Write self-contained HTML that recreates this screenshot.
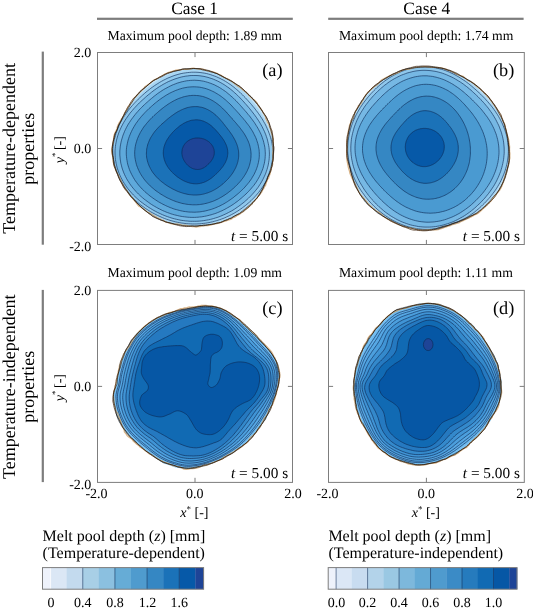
<!DOCTYPE html>
<html lang="en"><head><meta charset="utf-8"><title>Melt pool depth contours</title>
<style>html,body{margin:0;padding:0;background:#fff}body{width:533px;height:608px;overflow:hidden}</style>
</head><body>
<svg width="533" height="608" viewBox="0 0 533 608" text-rendering="geometricPrecision" font-family='"Liberation Serif", "DejaVu Serif", serif' fill="#000" style="display:block">
<rect width="533" height="608" fill="#fff"/>
<text x="194.6" y="13.6" font-size="17.4" text-anchor="middle" >Case 1</text>
<text x="426.8" y="13.6" font-size="17.4" text-anchor="middle" >Case 4</text>
<rect x="97" y="17.7" width="195.8" height="2.2" fill="#7d7d7d"/>
<rect x="328.2" y="17.7" width="195.4" height="2.2" fill="#7d7d7d"/>
<rect x="41.7" y="51.6" width="2.2" height="193.1" fill="#7d7d7d"/>
<rect x="41.7" y="289.9" width="2.2" height="192.2" fill="#7d7d7d"/>
<text x="107.5" y="40.4" font-size="13.7" text-anchor="start" >Maximum pool depth: 1.89 mm</text>
<text x="338.9" y="40.4" font-size="13.7" text-anchor="start" >Maximum pool depth: 1.74 mm</text>
<text x="107.5" y="276.6" font-size="13.7" text-anchor="start" >Maximum pool depth: 1.09 mm</text>
<text x="338.9" y="276.6" font-size="13.7" text-anchor="start" >Maximum pool depth: 1.11 mm</text>
<g>
<path d="M274.0,153.0 L274.1,151.0 L273.8,149.0 L273.8,147.0 L273.7,145.0 L273.6,143.0 L273.4,141.1 L273.1,139.1 L272.9,137.1 L272.3,135.2 L272.0,133.2 L271.5,131.2 L270.8,129.4 L270.1,127.5 L269.6,125.5 L268.9,123.6 L268.1,121.8 L267.2,120.0 L266.3,118.2 L265.3,116.5 L264.4,114.7 L263.5,112.9 L262.5,111.1 L261.3,109.5 L260.0,107.9 L258.8,106.4 L257.7,104.7 L256.7,102.9 L255.3,101.4 L254.3,99.5 L252.9,98.1 L251.4,96.7 L250.0,95.2 L248.6,93.7 L247.1,92.3 L245.5,91.1 L243.8,89.9 L242.3,88.5 L240.6,87.4 L239.0,86.1 L237.3,85.0 L235.5,83.9 L233.8,82.7 L232.1,81.5 L230.3,80.5 L228.5,79.5 L226.6,78.5 L224.8,77.4 L222.9,76.4 L221.0,75.2 L219.0,74.5 L217.1,73.6 L215.0,72.9 L213.0,71.8 L211.0,71.1 L208.9,70.3 L206.7,70.0 L204.6,69.5 L202.4,69.3 L200.2,69.0 L198.0,68.6 L195.8,68.5 L193.6,68.4 L191.4,68.6 L189.1,68.5 L186.9,68.5 L184.6,68.7 L182.4,68.9 L180.2,69.3 L178.0,69.8 L175.8,70.3 L173.7,71.1 L171.6,71.9 L169.5,72.6 L167.5,73.5 L165.4,74.3 L163.5,75.4 L161.5,76.5 L159.5,77.5 L157.5,78.5 L155.6,79.6 L153.8,80.8 L152.1,82.2 L150.2,83.4 L148.4,84.7 L146.6,86.0 L144.8,87.4 L143.2,88.8 L141.4,90.2 L139.9,91.8 L138.3,93.3 L136.8,94.9 L135.4,96.6 L133.8,98.2 L132.8,100.2 L131.5,102.0 L130.4,103.9 L129.1,105.7 L127.9,107.5 L126.9,109.4 L125.6,111.2 L124.5,113.1 L123.5,115.0 L122.3,116.9 L121.4,118.9 L120.4,120.9 L119.7,122.9 L118.7,124.9 L117.7,126.9 L116.8,128.9 L116.1,131.1 L115.4,133.2 L114.5,135.3 L114.0,137.4 L113.4,139.6 L113.1,141.8 L112.5,144.0 L112.3,146.3 L112.1,148.5 L112.0,150.7 L112.0,153.0 L112.3,155.2 L112.5,157.5 L112.6,159.7 L112.8,162.0 L113.4,164.1 L114.1,166.3 L114.8,168.4 L115.5,170.5 L116.3,172.6 L117.2,174.6 L118.3,176.6 L119.1,178.7 L120.1,180.6 L121.3,182.5 L122.5,184.3 L123.5,186.2 L124.5,188.1 L125.8,189.8 L126.8,191.6 L127.9,193.5 L129.2,195.2 L130.5,196.9 L131.8,198.5 L133.2,200.1 L134.6,201.6 L136.1,203.1 L137.5,204.7 L139.1,206.0 L140.6,207.5 L142.2,208.8 L143.9,210.0 L145.7,211.1 L147.4,212.3 L148.9,213.6 L150.7,214.7 L152.5,215.6 L154.5,216.3 L156.2,217.4 L157.9,218.5 L159.6,219.4 L161.5,220.2 L163.4,221.0 L165.2,221.8 L167.0,222.6 L168.8,223.4 L170.8,223.8 L172.8,224.3 L174.8,224.3 L176.7,224.8 L178.7,225.1 L180.6,225.5 L182.5,225.8 L184.5,225.7 L186.4,226.1 L188.3,226.4 L190.3,226.4 L192.2,226.6 L194.1,226.7 L196.1,227.0 L198.0,226.8 L199.9,226.4 L201.9,226.6 L203.8,226.3 L205.7,226.1 L207.6,225.6 L209.4,225.3 L211.3,224.9 L213.2,224.6 L215.1,224.2 L217.0,223.9 L218.8,223.3 L220.6,222.7 L222.4,222.0 L224.1,221.1 L226.0,220.5 L227.8,219.8 L229.5,219.1 L231.2,218.2 L233.1,217.6 L234.9,217.0 L236.6,216.0 L238.2,214.9 L239.8,213.8 L241.6,213.0 L243.2,211.9 L245.0,211.0 L246.4,209.7 L247.9,208.4 L249.2,207.0 L250.6,205.6 L252.0,204.3 L253.3,202.8 L254.7,201.4 L255.7,199.7 L257.0,198.2 L258.2,196.8 L259.4,195.2 L260.6,193.7 L261.7,192.1 L262.8,190.4 L263.7,188.7 L264.5,186.9 L265.3,185.1 L266.0,183.3 L266.6,181.4 L267.5,179.7 L268.0,177.8 L268.7,176.0 L269.3,174.1 L270.0,172.3 L270.7,170.4 L271.1,168.5 L271.6,166.6 L272.1,164.7 L272.5,162.8 L273.0,160.9 L273.2,158.9 L273.6,157.0 L273.6,155.0Z" fill="#c4e3f8" stroke="none"/>
<path d="M273.5,153.0 L273.5,151.0 L273.4,149.1 L273.2,147.1 L273.0,145.1 L272.7,143.2 L272.4,141.2 L272.0,139.3 L271.5,137.4 L271.0,135.5 L270.5,133.6 L269.9,131.7 L269.2,129.9 L268.6,128.0 L267.8,126.2 L267.0,124.4 L266.2,122.6 L265.4,120.9 L264.5,119.1 L263.5,117.4 L262.6,115.7 L261.6,114.0 L260.5,112.4 L259.5,110.7 L258.4,109.1 L257.3,107.5 L256.1,105.9 L254.9,104.4 L253.7,102.8 L252.5,101.3 L251.2,99.8 L250.0,98.2 L248.7,96.7 L247.3,95.3 L245.9,93.8 L244.5,92.4 L243.1,90.9 L241.6,89.5 L240.1,88.1 L238.6,86.8 L237.0,85.5 L235.4,84.2 L233.7,82.9 L232.0,81.7 L230.2,80.7 L228.4,79.6 L226.6,78.6 L224.7,77.6 L222.8,76.6 L220.9,75.7 L219.0,74.8 L217.0,73.9 L215.0,73.1 L212.9,72.4 L210.9,71.7 L208.8,71.0 L206.7,70.5 L204.5,70.0 L202.4,69.6 L200.2,69.4 L198.0,69.2 L195.8,69.1 L193.6,69.1 L191.4,69.2 L189.2,69.3 L187.0,69.6 L184.8,69.9 L182.7,70.3 L180.5,70.7 L178.4,71.2 L176.3,71.8 L174.2,72.5 L172.1,73.2 L170.0,74.0 L168.0,74.9 L166.0,75.8 L164.0,76.7 L162.1,77.7 L160.2,78.8 L158.3,79.9 L156.5,81.0 L154.6,82.2 L152.8,83.5 L151.1,84.7 L149.4,86.0 L147.7,87.4 L146.0,88.8 L144.3,90.2 L142.7,91.6 L141.2,93.1 L139.6,94.6 L138.1,96.1 L136.6,97.7 L135.1,99.3 L133.6,100.9 L132.2,102.5 L130.8,104.2 L129.4,105.9 L128.1,107.6 L126.9,109.4 L125.8,111.3 L124.7,113.2 L123.7,115.1 L122.7,117.1 L121.7,119.0 L120.7,121.0 L119.8,123.0 L118.9,125.0 L118.0,127.0 L117.2,129.1 L116.4,131.1 L115.7,133.2 L115.0,135.4 L114.4,137.5 L113.9,139.7 L113.4,141.9 L113.0,144.1 L112.8,146.3 L112.6,148.5 L112.4,150.8 L112.4,153.0 L112.6,155.2 L112.8,157.5 L113.1,159.7 L113.5,161.9 L114.0,164.1 L114.6,166.2 L115.2,168.3 L115.9,170.4 L116.7,172.5 L117.6,174.5 L118.5,176.6 L119.4,178.5 L120.5,180.5 L121.5,182.4 L122.6,184.2 L123.7,186.1 L124.8,187.9 L126.0,189.7 L127.2,191.5 L128.4,193.2 L129.7,194.9 L130.9,196.5 L132.3,198.2 L133.6,199.8 L135.0,201.3 L136.5,202.8 L138.1,204.2 L139.7,205.5 L141.3,206.8 L142.9,208.1 L144.6,209.3 L146.2,210.5 L147.9,211.6 L149.6,212.7 L151.4,213.8 L153.1,214.8 L154.9,215.7 L156.7,216.7 L158.4,217.6 L160.2,218.4 L162.1,219.2 L163.9,219.9 L165.7,220.7 L167.6,221.3 L169.4,221.9 L171.3,222.5 L173.2,223.1 L175.1,223.5 L177.0,224.0 L178.9,224.4 L180.8,224.7 L182.7,225.1 L184.6,225.3 L186.5,225.5 L188.4,225.7 L190.3,225.8 L192.3,225.9 L194.2,226.0 L196.1,226.0 L198.0,225.9 L199.9,225.8 L201.8,225.7 L203.7,225.5 L205.6,225.2 L207.5,224.9 L209.3,224.6 L211.2,224.2 L213.1,223.8 L214.9,223.4 L216.7,222.9 L218.5,222.3 L220.3,221.7 L222.1,221.1 L223.9,220.5 L225.6,219.7 L227.4,219.0 L229.1,218.2 L230.8,217.4 L232.5,216.5 L234.1,215.6 L235.8,214.6 L237.4,213.7 L239.0,212.6 L240.6,211.6 L242.1,210.5 L243.6,209.4 L245.1,208.2 L246.6,207.0 L248.1,205.7 L249.5,204.5 L250.9,203.2 L252.2,201.8 L253.6,200.5 L254.9,199.1 L256.2,197.6 L257.4,196.1 L258.6,194.6 L259.8,193.1 L260.9,191.5 L262.0,189.9 L262.9,188.2 L263.8,186.5 L264.7,184.8 L265.5,183.1 L266.3,181.3 L267.1,179.5 L267.8,177.7 L268.5,175.9 L269.2,174.1 L269.8,172.2 L270.4,170.4 L271.0,168.5 L271.5,166.6 L271.9,164.7 L272.3,162.8 L272.7,160.8 L273.0,158.9 L273.2,156.9 L273.4,155.0Z" fill="#a8d6f3" stroke="none"/>
<path d="M273.0,153.0 L272.9,151.0 L272.8,149.1 L272.6,147.1 L272.3,145.2 L272.0,143.3 L271.6,141.3 L271.1,139.4 L270.6,137.6 L270.0,135.7 L269.4,133.9 L268.7,132.1 L268.0,130.3 L267.2,128.5 L266.4,126.7 L265.6,125.0 L264.7,123.3 L263.7,121.7 L262.8,120.0 L261.8,118.4 L260.7,116.8 L259.7,115.2 L258.6,113.7 L257.5,112.1 L256.3,110.6 L255.2,109.1 L254.0,107.6 L252.8,106.2 L251.6,104.7 L250.4,103.3 L249.1,101.9 L247.9,100.5 L246.6,99.1 L245.3,97.7 L243.9,96.3 L242.6,94.9 L241.2,93.6 L239.8,92.2 L238.3,90.9 L236.8,89.6 L235.3,88.4 L233.8,87.1 L232.2,85.9 L230.6,84.7 L228.9,83.6 L227.2,82.4 L225.5,81.4 L223.7,80.3 L221.9,79.4 L220.1,78.4 L218.2,77.6 L216.3,76.7 L214.4,76.0 L212.4,75.3 L210.4,74.6 L208.4,74.0 L206.4,73.5 L204.3,73.1 L202.2,72.8 L200.1,72.5 L198.0,72.3 L195.9,72.2 L193.8,72.2 L191.6,72.2 L189.5,72.4 L187.4,72.6 L185.3,72.9 L183.2,73.2 L181.1,73.6 L179.1,74.1 L177.0,74.7 L175.0,75.3 L173.0,76.0 L171.0,76.8 L169.0,77.6 L167.1,78.4 L165.2,79.4 L163.3,80.3 L161.5,81.3 L159.6,82.4 L157.9,83.5 L156.1,84.6 L154.3,85.8 L152.6,87.0 L150.9,88.2 L149.3,89.5 L147.6,90.8 L146.0,92.1 L144.4,93.5 L142.8,94.9 L141.3,96.3 L139.8,97.7 L138.2,99.2 L136.8,100.7 L135.3,102.2 L133.8,103.8 L132.4,105.4 L131.0,107.0 L129.7,108.6 L128.3,110.3 L127.1,112.0 L125.8,113.8 L124.6,115.6 L123.4,117.4 L122.3,119.3 L121.2,121.2 L120.2,123.1 L119.2,125.1 L118.4,127.1 L117.5,129.2 L116.8,131.2 L116.0,133.3 L115.4,135.4 L114.8,137.6 L114.2,139.7 L113.8,141.9 L113.4,144.1 L113.1,146.3 L112.9,148.5 L112.8,150.8 L112.8,153.0 L112.9,155.2 L113.1,157.4 L113.4,159.7 L113.8,161.8 L114.3,164.0 L114.9,166.2 L115.6,168.3 L116.3,170.4 L117.1,172.4 L117.9,174.5 L118.8,176.5 L119.8,178.4 L120.8,180.3 L121.8,182.2 L122.9,184.1 L124.0,186.0 L125.1,187.8 L126.3,189.5 L127.5,191.3 L128.7,193.0 L130.0,194.7 L131.3,196.3 L132.7,197.9 L134.2,199.3 L135.8,200.8 L137.3,202.1 L138.9,203.5 L140.5,204.8 L142.1,206.0 L143.8,207.2 L145.4,208.4 L147.1,209.5 L148.8,210.6 L150.5,211.7 L152.2,212.7 L154.0,213.6 L155.7,214.5 L157.5,215.4 L159.2,216.2 L161.0,217.0 L162.8,217.8 L164.6,218.5 L166.4,219.2 L168.3,219.8 L170.1,220.4 L171.9,220.9 L173.8,221.4 L175.6,221.9 L177.5,222.3 L179.3,222.6 L181.2,223.0 L183.1,223.2 L184.9,223.5 L186.8,223.7 L188.7,223.8 L190.5,223.9 L192.4,224.0 L194.3,224.0 L196.1,224.0 L198.0,223.9 L199.9,223.8 L201.7,223.6 L203.5,223.4 L205.4,223.2 L207.2,222.9 L209.0,222.6 L210.8,222.2 L212.6,221.8 L214.4,221.3 L216.2,220.8 L217.9,220.3 L219.7,219.7 L221.4,219.1 L223.1,218.5 L224.8,217.8 L226.5,217.0 L228.2,216.3 L229.8,215.5 L231.5,214.6 L233.1,213.8 L234.7,212.9 L236.3,211.9 L237.8,211.0 L239.4,209.9 L240.9,208.9 L242.4,207.8 L243.9,206.7 L245.3,205.6 L246.8,204.4 L248.2,203.2 L249.6,202.0 L251.0,200.7 L252.3,199.4 L253.6,198.1 L254.9,196.7 L256.2,195.3 L257.4,193.9 L258.7,192.4 L259.8,190.9 L261.0,189.3 L262.0,187.8 L263.1,186.2 L264.1,184.5 L265.1,182.9 L266.0,181.2 L266.8,179.4 L267.5,177.6 L268.2,175.8 L268.9,174.0 L269.5,172.2 L270.1,170.3 L270.6,168.4 L271.1,166.6 L271.6,164.7 L272.0,162.7 L272.3,160.8 L272.6,158.9 L272.9,156.9 L273.0,155.0Z" fill="#90c8ec" stroke="#0c2a55" stroke-width="0.7" stroke-opacity="0.9"/>
<path d="M269.4,153.0 L269.3,151.1 L269.2,149.3 L269.0,147.4 L268.7,145.6 L268.3,143.7 L267.9,141.9 L267.5,140.1 L267.0,138.3 L266.4,136.6 L265.8,134.8 L265.1,133.1 L264.4,131.4 L263.6,129.8 L262.8,128.1 L262.0,126.5 L261.1,124.9 L260.2,123.3 L259.3,121.8 L258.3,120.3 L257.3,118.8 L256.3,117.3 L255.2,115.8 L254.2,114.4 L253.1,113.0 L252.0,111.6 L250.9,110.2 L249.8,108.8 L248.6,107.4 L247.5,106.1 L246.3,104.7 L245.1,103.4 L243.9,102.0 L242.7,100.7 L241.4,99.3 L240.2,98.0 L238.9,96.7 L237.6,95.4 L236.2,94.1 L234.8,92.9 L233.4,91.6 L232.0,90.4 L230.5,89.2 L229.0,88.0 L227.4,86.9 L225.8,85.8 L224.2,84.7 L222.5,83.7 L220.8,82.7 L219.1,81.8 L217.3,80.9 L215.5,80.1 L213.7,79.3 L211.8,78.6 L209.9,78.0 L208.0,77.4 L206.0,76.9 L204.0,76.4 L202.0,76.1 L200.0,75.8 L198.0,75.6 L196.0,75.5 L193.9,75.5 L191.9,75.5 L189.9,75.6 L187.8,75.9 L185.8,76.1 L183.8,76.5 L181.8,76.9 L179.9,77.4 L177.9,78.0 L176.0,78.6 L174.0,79.3 L172.2,80.0 L170.3,80.8 L168.4,81.6 L166.6,82.5 L164.8,83.5 L163.1,84.4 L161.3,85.5 L159.6,86.5 L157.9,87.6 L156.3,88.7 L154.6,89.9 L153.0,91.1 L151.4,92.3 L149.9,93.6 L148.3,94.8 L146.8,96.1 L145.3,97.4 L143.8,98.8 L142.3,100.1 L140.8,101.5 L139.3,102.9 L137.9,104.3 L136.5,105.8 L135.1,107.3 L133.7,108.8 L132.4,110.4 L131.0,112.0 L129.7,113.6 L128.5,115.3 L127.3,117.0 L126.1,118.7 L124.9,120.5 L123.8,122.3 L122.8,124.1 L121.8,126.0 L120.9,127.9 L120.0,129.9 L119.1,131.9 L118.4,133.9 L117.7,135.9 L117.1,138.0 L116.5,140.1 L116.1,142.2 L115.7,144.3 L115.4,146.5 L115.2,148.7 L115.0,150.8 L115.0,153.0 L115.1,155.2 L115.2,157.3 L115.4,159.5 L115.8,161.6 L116.2,163.8 L116.7,165.9 L117.2,168.0 L117.9,170.0 L118.6,172.1 L119.4,174.1 L120.2,176.0 L121.2,178.0 L122.2,179.9 L123.2,181.7 L124.3,183.5 L125.5,185.3 L126.7,187.0 L127.9,188.7 L129.3,190.3 L130.6,191.9 L132.0,193.5 L133.4,195.0 L134.8,196.4 L136.3,197.8 L137.8,199.2 L139.4,200.5 L140.9,201.8 L142.5,203.0 L144.1,204.2 L145.7,205.3 L147.3,206.4 L148.9,207.5 L150.6,208.5 L152.2,209.5 L153.9,210.5 L155.6,211.4 L157.3,212.3 L159.0,213.1 L160.7,213.9 L162.4,214.7 L164.1,215.4 L165.9,216.1 L167.6,216.7 L169.4,217.3 L171.1,217.9 L172.9,218.4 L174.7,218.9 L176.5,219.3 L178.2,219.7 L180.0,220.1 L181.8,220.4 L183.6,220.6 L185.4,220.9 L187.2,221.0 L189.0,221.2 L190.8,221.3 L192.6,221.3 L194.4,221.3 L196.2,221.3 L198.0,221.2 L199.8,221.1 L201.6,220.9 L203.3,220.7 L205.1,220.4 L206.8,220.1 L208.6,219.8 L210.3,219.4 L212.0,219.0 L213.7,218.5 L215.4,218.0 L217.1,217.5 L218.8,216.9 L220.4,216.3 L222.0,215.6 L223.6,214.9 L225.2,214.2 L226.8,213.4 L228.4,212.6 L229.9,211.8 L231.5,211.0 L233.0,210.1 L234.5,209.2 L235.9,208.2 L237.4,207.2 L238.8,206.2 L240.2,205.2 L241.6,204.1 L243.0,203.0 L244.4,201.9 L245.7,200.7 L247.1,199.5 L248.4,198.3 L249.6,197.1 L250.9,195.8 L252.1,194.5 L253.3,193.2 L254.5,191.8 L255.7,190.4 L256.8,189.0 L257.9,187.6 L258.9,186.1 L259.9,184.5 L260.9,183.0 L261.8,181.4 L262.7,179.8 L263.5,178.2 L264.3,176.5 L265.1,174.8 L265.8,173.1 L266.4,171.3 L267.0,169.6 L267.5,167.8 L268.0,166.0 L268.4,164.1 L268.7,162.3 L269.0,160.5 L269.2,158.6 L269.3,156.7 L269.4,154.9Z" fill="#76b8e4" stroke="#0c2a55" stroke-width="0.7" stroke-opacity="0.9"/>
<path d="M265.3,153.0 L265.2,151.2 L265.1,149.5 L264.9,147.7 L264.6,146.0 L264.2,144.3 L263.8,142.6 L263.4,140.9 L262.8,139.2 L262.3,137.6 L261.7,135.9 L261.0,134.3 L260.3,132.8 L259.5,131.2 L258.7,129.7 L257.9,128.2 L257.0,126.7 L256.1,125.3 L255.2,123.8 L254.3,122.4 L253.3,121.1 L252.3,119.7 L251.3,118.4 L250.3,117.0 L249.3,115.7 L248.2,114.5 L247.2,113.2 L246.1,111.9 L245.0,110.7 L243.9,109.4 L242.8,108.2 L241.7,106.9 L240.6,105.7 L239.5,104.4 L238.3,103.2 L237.2,102.0 L236.0,100.7 L234.7,99.5 L233.5,98.3 L232.2,97.1 L230.9,96.0 L229.6,94.8 L228.2,93.7 L226.8,92.5 L225.4,91.4 L223.9,90.4 L222.4,89.4 L220.9,88.4 L219.3,87.4 L217.7,86.5 L216.0,85.7 L214.4,84.8 L212.6,84.1 L210.9,83.4 L209.1,82.8 L207.3,82.2 L205.5,81.7 L203.6,81.2 L201.8,80.9 L199.9,80.6 L198.0,80.4 L196.1,80.3 L194.2,80.2 L192.3,80.3 L190.4,80.4 L188.5,80.6 L186.6,80.8 L184.7,81.2 L182.8,81.6 L181.0,82.0 L179.1,82.6 L177.3,83.1 L175.5,83.8 L173.7,84.5 L172.0,85.2 L170.3,86.0 L168.6,86.9 L166.9,87.8 L165.2,88.7 L163.6,89.6 L162.0,90.6 L160.4,91.7 L158.9,92.7 L157.3,93.8 L155.8,95.0 L154.3,96.1 L152.9,97.3 L151.4,98.5 L150.0,99.7 L148.6,100.9 L147.2,102.2 L145.8,103.4 L144.4,104.7 L143.0,106.0 L141.7,107.4 L140.3,108.7 L139.0,110.1 L137.7,111.6 L136.4,113.0 L135.2,114.5 L134.0,116.0 L132.8,117.6 L131.6,119.2 L130.5,120.8 L129.4,122.5 L128.3,124.1 L127.3,125.9 L126.4,127.6 L125.5,129.4 L124.6,131.3 L123.9,133.1 L123.1,135.0 L122.5,136.9 L121.9,138.9 L121.3,140.9 L120.9,142.8 L120.5,144.9 L120.2,146.9 L120.0,148.9 L119.8,151.0 L119.8,153.0 L119.8,155.0 L120.0,157.1 L120.2,159.1 L120.5,161.1 L120.8,163.2 L121.3,165.1 L121.8,167.1 L122.4,169.1 L123.1,171.0 L123.8,172.9 L124.6,174.7 L125.5,176.6 L126.4,178.3 L127.4,180.1 L128.5,181.8 L129.6,183.5 L130.7,185.1 L131.9,186.7 L133.1,188.2 L134.4,189.7 L135.7,191.2 L137.0,192.6 L138.4,194.0 L139.8,195.3 L141.2,196.6 L142.6,197.8 L144.1,199.1 L145.6,200.2 L147.1,201.3 L148.6,202.4 L150.1,203.5 L151.6,204.5 L153.2,205.5 L154.7,206.4 L156.3,207.3 L157.9,208.2 L159.5,209.0 L161.1,209.8 L162.7,210.6 L164.4,211.3 L166.0,212.0 L167.6,212.6 L169.3,213.2 L170.9,213.8 L172.6,214.3 L174.3,214.8 L176.0,215.2 L177.7,215.6 L179.3,216.0 L181.0,216.3 L182.7,216.6 L184.4,216.8 L186.1,217.0 L187.8,217.2 L189.5,217.3 L191.2,217.4 L192.9,217.4 L194.6,217.4 L196.3,217.3 L198.0,217.2 L199.7,217.0 L201.3,216.9 L203.0,216.6 L204.7,216.3 L206.3,216.0 L207.9,215.6 L209.5,215.2 L211.1,214.8 L212.7,214.3 L214.3,213.8 L215.9,213.3 L217.4,212.7 L218.9,212.1 L220.4,211.4 L221.9,210.8 L223.4,210.0 L224.9,209.3 L226.3,208.5 L227.7,207.7 L229.1,206.9 L230.5,206.1 L231.9,205.2 L233.3,204.3 L234.6,203.4 L235.9,202.4 L237.2,201.5 L238.5,200.5 L239.8,199.4 L241.1,198.4 L242.3,197.3 L243.6,196.2 L244.8,195.1 L246.0,194.0 L247.2,192.8 L248.4,191.6 L249.5,190.4 L250.6,189.2 L251.7,187.9 L252.8,186.6 L253.9,185.3 L254.9,183.9 L255.9,182.5 L256.8,181.1 L257.7,179.6 L258.6,178.1 L259.4,176.6 L260.2,175.0 L260.9,173.5 L261.6,171.8 L262.3,170.2 L262.9,168.6 L263.4,166.9 L263.8,165.2 L264.3,163.5 L264.6,161.8 L264.9,160.0 L265.1,158.3 L265.2,156.5 L265.3,154.8Z" fill="#5ea9db" stroke="#0c2a55" stroke-width="0.7" stroke-opacity="0.9"/>
<path d="M259.3,153.0 L259.2,151.4 L259.1,149.8 L258.8,148.2 L258.5,146.6 L258.2,145.1 L257.8,143.5 L257.3,142.0 L256.8,140.5 L256.3,139.0 L255.7,137.5 L255.0,136.1 L254.3,134.7 L253.6,133.3 L252.9,131.9 L252.1,130.6 L251.3,129.3 L250.4,128.0 L249.6,126.7 L248.7,125.5 L247.8,124.3 L246.8,123.1 L245.9,121.9 L245.0,120.7 L244.0,119.6 L243.1,118.4 L242.1,117.3 L241.1,116.2 L240.1,115.1 L239.2,113.9 L238.2,112.8 L237.2,111.7 L236.2,110.6 L235.2,109.5 L234.1,108.4 L233.1,107.3 L232.0,106.1 L231.0,105.0 L229.9,103.9 L228.7,102.8 L227.6,101.8 L226.4,100.7 L225.2,99.6 L223.9,98.6 L222.7,97.6 L221.4,96.6 L220.0,95.6 L218.6,94.7 L217.2,93.8 L215.8,93.0 L214.3,92.1 L212.8,91.4 L211.3,90.7 L209.7,90.0 L208.1,89.4 L206.5,88.8 L204.8,88.3 L203.1,87.9 L201.4,87.5 L199.7,87.2 L198.0,87.0 L196.3,86.9 L194.5,86.8 L192.8,86.8 L191.0,86.9 L189.3,87.0 L187.6,87.2 L185.9,87.5 L184.2,87.8 L182.5,88.2 L180.8,88.7 L179.1,89.2 L177.5,89.8 L175.8,90.4 L174.2,91.1 L172.6,91.8 L171.1,92.5 L169.5,93.3 L168.0,94.2 L166.5,95.0 L165.1,95.9 L163.6,96.9 L162.2,97.8 L160.8,98.8 L159.4,99.8 L158.0,100.9 L156.7,101.9 L155.3,103.0 L154.0,104.1 L152.7,105.3 L151.4,106.4 L150.1,107.6 L148.8,108.7 L147.6,109.9 L146.3,111.2 L145.1,112.4 L143.9,113.7 L142.7,115.0 L141.5,116.3 L140.4,117.7 L139.2,119.1 L138.1,120.5 L137.1,122.0 L136.0,123.4 L135.0,125.0 L134.1,126.5 L133.2,128.1 L132.3,129.7 L131.5,131.4 L130.7,133.1 L130.0,134.8 L129.3,136.5 L128.7,138.3 L128.1,140.1 L127.7,141.9 L127.3,143.7 L126.9,145.5 L126.6,147.4 L126.4,149.3 L126.3,151.1 L126.3,153.0 L126.3,154.9 L126.5,156.7 L126.7,158.6 L127.0,160.5 L127.3,162.3 L127.7,164.1 L128.2,165.9 L128.8,167.7 L129.4,169.5 L130.1,171.2 L130.9,172.9 L131.7,174.5 L132.6,176.2 L133.5,177.8 L134.4,179.3 L135.4,180.9 L136.5,182.3 L137.6,183.8 L138.7,185.2 L139.9,186.6 L141.1,187.9 L142.3,189.2 L143.6,190.4 L144.8,191.6 L146.1,192.8 L147.5,193.9 L148.8,195.0 L150.1,196.1 L151.5,197.1 L152.9,198.1 L154.3,199.1 L155.7,200.0 L157.1,200.9 L158.5,201.8 L159.9,202.6 L161.4,203.4 L162.8,204.2 L164.3,204.9 L165.7,205.6 L167.2,206.3 L168.7,206.9 L170.2,207.6 L171.7,208.1 L173.2,208.7 L174.7,209.2 L176.3,209.6 L177.8,210.0 L179.3,210.4 L180.9,210.8 L182.4,211.1 L184.0,211.4 L185.5,211.6 L187.1,211.8 L188.7,212.0 L190.2,212.1 L191.8,212.1 L193.3,212.2 L194.9,212.2 L196.5,212.1 L198.0,212.0 L199.5,211.9 L201.1,211.7 L202.6,211.4 L204.1,211.2 L205.6,210.9 L207.1,210.5 L208.6,210.1 L210.1,209.7 L211.5,209.3 L212.9,208.8 L214.4,208.3 L215.8,207.7 L217.2,207.1 L218.5,206.5 L219.9,205.9 L221.2,205.2 L222.6,204.5 L223.9,203.8 L225.2,203.0 L226.4,202.3 L227.7,201.5 L228.9,200.6 L230.2,199.8 L231.4,198.9 L232.6,198.1 L233.8,197.2 L234.9,196.2 L236.1,195.3 L237.2,194.4 L238.4,193.4 L239.5,192.4 L240.6,191.4 L241.7,190.3 L242.8,189.3 L243.9,188.2 L244.9,187.1 L245.9,185.9 L246.9,184.8 L247.9,183.6 L248.9,182.4 L249.8,181.1 L250.7,179.9 L251.6,178.6 L252.4,177.2 L253.2,175.9 L254.0,174.5 L254.7,173.1 L255.4,171.6 L256.0,170.2 L256.6,168.7 L257.1,167.2 L257.6,165.7 L258.0,164.1 L258.4,162.6 L258.7,161.0 L259.0,159.4 L259.2,157.8 L259.3,156.2 L259.3,154.6Z" fill="#4a9ad1" stroke="#0c2a55" stroke-width="0.7" stroke-opacity="0.9"/>
<path d="M251.0,153.0 L250.9,151.6 L250.7,150.2 L250.5,148.9 L250.2,147.5 L249.9,146.2 L249.5,144.8 L249.1,143.5 L248.6,142.2 L248.1,141.0 L247.5,139.7 L246.9,138.5 L246.3,137.3 L245.6,136.1 L245.0,135.0 L244.3,133.8 L243.5,132.7 L242.8,131.6 L242.0,130.6 L241.2,129.5 L240.5,128.5 L239.7,127.5 L238.9,126.5 L238.0,125.5 L237.2,124.5 L236.4,123.5 L235.6,122.6 L234.7,121.6 L233.9,120.7 L233.1,119.7 L232.2,118.8 L231.4,117.8 L230.5,116.9 L229.7,115.9 L228.8,114.9 L228.0,113.9 L227.1,113.0 L226.2,112.0 L225.3,111.0 L224.3,110.0 L223.4,109.1 L222.4,108.1 L221.4,107.2 L220.3,106.2 L219.2,105.3 L218.1,104.4 L217.0,103.6 L215.8,102.7 L214.6,101.9 L213.4,101.1 L212.1,100.4 L210.8,99.7 L209.5,99.0 L208.1,98.4 L206.7,97.8 L205.3,97.3 L203.9,96.8 L202.5,96.4 L201.0,96.1 L199.5,95.8 L198.0,95.6 L196.5,95.5 L195.0,95.4 L193.5,95.4 L192.0,95.4 L190.4,95.6 L188.9,95.7 L187.4,96.0 L185.9,96.3 L184.5,96.6 L183.0,97.0 L181.6,97.5 L180.1,98.0 L178.7,98.5 L177.3,99.1 L175.9,99.8 L174.6,100.4 L173.3,101.1 L171.9,101.9 L170.6,102.6 L169.4,103.4 L168.1,104.2 L166.9,105.1 L165.7,105.9 L164.4,106.8 L163.3,107.7 L162.1,108.6 L160.9,109.6 L159.8,110.5 L158.6,111.5 L157.5,112.5 L156.4,113.5 L155.2,114.5 L154.1,115.5 L153.0,116.6 L151.9,117.6 L150.8,118.7 L149.8,119.8 L148.7,121.0 L147.7,122.2 L146.6,123.4 L145.7,124.6 L144.7,125.8 L143.7,127.1 L142.8,128.4 L142.0,129.8 L141.1,131.2 L140.3,132.6 L139.6,134.0 L138.8,135.5 L138.2,137.0 L137.5,138.5 L137.0,140.0 L136.5,141.6 L136.0,143.2 L135.6,144.8 L135.3,146.4 L135.0,148.0 L134.9,149.7 L134.7,151.3 L134.7,153.0 L134.7,154.7 L134.8,156.3 L135.0,158.0 L135.3,159.6 L135.6,161.2 L136.0,162.8 L136.4,164.4 L136.9,166.0 L137.5,167.5 L138.1,169.0 L138.8,170.5 L139.5,172.0 L140.3,173.4 L141.1,174.8 L142.0,176.2 L142.9,177.5 L143.8,178.8 L144.8,180.1 L145.8,181.3 L146.9,182.5 L148.0,183.7 L149.1,184.8 L150.2,185.9 L151.3,186.9 L152.5,187.9 L153.7,188.9 L154.8,189.9 L156.0,190.8 L157.3,191.7 L158.5,192.5 L159.7,193.4 L160.9,194.2 L162.2,194.9 L163.4,195.7 L164.7,196.4 L165.9,197.1 L167.2,197.8 L168.5,198.4 L169.8,199.0 L171.1,199.6 L172.4,200.2 L173.7,200.7 L175.0,201.2 L176.3,201.7 L177.6,202.1 L179.0,202.5 L180.3,202.9 L181.7,203.3 L183.0,203.6 L184.4,203.8 L185.7,204.1 L187.1,204.3 L188.5,204.5 L189.8,204.6 L191.2,204.7 L192.6,204.8 L193.9,204.8 L195.3,204.8 L196.6,204.8 L198.0,204.7 L199.4,204.6 L200.7,204.4 L202.0,204.2 L203.4,204.0 L204.7,203.7 L206.0,203.4 L207.3,203.1 L208.6,202.7 L209.8,202.3 L211.1,201.9 L212.4,201.5 L213.6,201.0 L214.8,200.5 L216.0,199.9 L217.2,199.4 L218.4,198.8 L219.5,198.2 L220.7,197.5 L221.8,196.9 L222.9,196.2 L224.0,195.5 L225.1,194.8 L226.2,194.0 L227.3,193.3 L228.3,192.5 L229.3,191.7 L230.4,190.9 L231.4,190.1 L232.4,189.2 L233.4,188.4 L234.3,187.5 L235.3,186.6 L236.2,185.7 L237.2,184.7 L238.1,183.8 L239.0,182.8 L239.9,181.8 L240.8,180.8 L241.6,179.7 L242.4,178.7 L243.2,177.6 L244.0,176.4 L244.7,175.3 L245.5,174.1 L246.1,172.9 L246.8,171.7 L247.4,170.5 L247.9,169.2 L248.5,168.0 L249.0,166.7 L249.4,165.3 L249.8,164.0 L250.1,162.7 L250.4,161.3 L250.7,159.9 L250.8,158.6 L251.0,157.2 L251.0,155.8 L251.1,154.4Z" fill="#3587c3" stroke="#0c2a55" stroke-width="0.7" stroke-opacity="0.9"/>
<path d="M238.7,153.0 L238.6,151.9 L238.5,150.9 L238.3,149.8 L238.1,148.8 L237.9,147.7 L237.6,146.7 L237.3,145.7 L237.0,144.7 L236.6,143.7 L236.2,142.8 L235.8,141.8 L235.4,140.9 L234.9,139.9 L234.4,139.0 L233.9,138.1 L233.4,137.2 L232.9,136.4 L232.4,135.5 L231.8,134.6 L231.2,133.8 L230.7,133.0 L230.1,132.2 L229.5,131.4 L228.9,130.5 L228.3,129.8 L227.7,129.0 L227.1,128.2 L226.5,127.4 L225.8,126.6 L225.2,125.8 L224.6,125.0 L224.0,124.2 L223.3,123.4 L222.7,122.5 L222.0,121.7 L221.3,120.9 L220.6,120.1 L219.9,119.3 L219.2,118.5 L218.4,117.7 L217.6,116.9 L216.8,116.1 L216.0,115.3 L215.1,114.6 L214.2,113.8 L213.3,113.1 L212.4,112.4 L211.4,111.8 L210.4,111.1 L209.4,110.5 L208.3,109.9 L207.3,109.4 L206.2,108.9 L205.1,108.4 L203.9,108.0 L202.8,107.6 L201.6,107.3 L200.4,107.1 L199.2,106.9 L198.0,106.7 L196.8,106.6 L195.6,106.6 L194.3,106.6 L193.1,106.7 L191.9,106.8 L190.7,106.9 L189.5,107.2 L188.3,107.4 L187.1,107.7 L186.0,108.1 L184.8,108.5 L183.7,108.9 L182.6,109.4 L181.4,109.9 L180.4,110.4 L179.3,111.0 L178.2,111.5 L177.2,112.1 L176.2,112.8 L175.1,113.4 L174.2,114.1 L173.2,114.8 L172.2,115.5 L171.2,116.2 L170.3,116.9 L169.4,117.6 L168.4,118.4 L167.5,119.1 L166.6,119.9 L165.7,120.7 L164.8,121.5 L163.9,122.3 L163.0,123.1 L162.0,123.9 L161.1,124.7 L160.2,125.6 L159.4,126.4 L158.5,127.3 L157.6,128.3 L156.8,129.2 L155.9,130.2 L155.1,131.1 L154.3,132.2 L153.5,133.2 L152.8,134.3 L152.1,135.4 L151.4,136.5 L150.7,137.6 L150.1,138.8 L149.5,140.0 L149.0,141.2 L148.5,142.5 L148.0,143.7 L147.6,145.0 L147.3,146.3 L147.0,147.6 L146.7,149.0 L146.6,150.3 L146.5,151.7 L146.4,153.0 L146.4,154.4 L146.5,155.7 L146.6,157.0 L146.8,158.4 L147.1,159.7 L147.4,161.0 L147.8,162.3 L148.2,163.6 L148.7,164.8 L149.2,166.1 L149.8,167.3 L150.4,168.5 L151.0,169.6 L151.7,170.8 L152.4,171.9 L153.2,173.0 L154.0,174.0 L154.8,175.0 L155.6,176.0 L156.5,177.0 L157.4,177.9 L158.3,178.8 L159.2,179.6 L160.2,180.5 L161.1,181.3 L162.1,182.1 L163.1,182.8 L164.1,183.6 L165.0,184.3 L166.0,185.0 L167.0,185.6 L168.0,186.3 L169.0,186.9 L170.1,187.5 L171.1,188.1 L172.1,188.7 L173.1,189.2 L174.2,189.7 L175.2,190.2 L176.2,190.7 L177.3,191.2 L178.3,191.6 L179.4,192.0 L180.5,192.4 L181.5,192.7 L182.6,193.1 L183.7,193.4 L184.8,193.7 L185.9,193.9 L187.0,194.2 L188.1,194.4 L189.2,194.6 L190.3,194.7 L191.4,194.8 L192.5,194.9 L193.6,195.0 L194.7,195.0 L195.8,195.0 L196.9,195.0 L198.0,194.9 L199.1,194.8 L200.2,194.7 L201.3,194.5 L202.3,194.3 L203.4,194.1 L204.5,193.8 L205.5,193.5 L206.5,193.2 L207.6,192.9 L208.6,192.5 L209.6,192.1 L210.6,191.7 L211.6,191.3 L212.5,190.8 L213.5,190.3 L214.4,189.8 L215.3,189.3 L216.2,188.8 L217.1,188.2 L218.0,187.6 L218.9,187.0 L219.7,186.4 L220.5,185.8 L221.4,185.1 L222.2,184.5 L223.0,183.8 L223.7,183.1 L224.5,182.4 L225.3,181.7 L226.0,181.0 L226.7,180.3 L227.5,179.5 L228.2,178.8 L228.9,178.0 L229.5,177.2 L230.2,176.4 L230.8,175.6 L231.5,174.7 L232.1,173.9 L232.7,173.0 L233.3,172.1 L233.8,171.2 L234.3,170.3 L234.8,169.4 L235.3,168.5 L235.8,167.5 L236.2,166.5 L236.6,165.5 L237.0,164.5 L237.3,163.5 L237.6,162.5 L237.9,161.5 L238.1,160.4 L238.3,159.4 L238.5,158.3 L238.6,157.3 L238.7,156.2 L238.7,155.1 L238.7,154.1Z" fill="#1b72b8" stroke="#0c2a55" stroke-width="0.7" stroke-opacity="0.9"/>
<path d="M227.8,153.0 L227.8,152.2 L227.7,151.4 L227.7,150.7 L227.6,149.9 L227.4,149.1 L227.3,148.4 L227.1,147.6 L226.9,146.9 L226.6,146.1 L226.4,145.4 L226.1,144.7 L225.8,144.0 L225.4,143.3 L225.1,142.6 L224.7,141.9 L224.4,141.3 L224.0,140.6 L223.6,140.0 L223.2,139.3 L222.7,138.7 L222.3,138.1 L221.9,137.5 L221.4,136.9 L221.0,136.3 L220.5,135.7 L220.1,135.1 L219.6,134.6 L219.1,134.0 L218.6,133.4 L218.2,132.8 L217.7,132.3 L217.2,131.7 L216.7,131.1 L216.2,130.6 L215.7,130.0 L215.1,129.4 L214.6,128.9 L214.0,128.3 L213.5,127.8 L212.9,127.2 L212.3,126.7 L211.7,126.1 L211.1,125.6 L210.4,125.1 L209.8,124.6 L209.1,124.1 L208.4,123.7 L207.7,123.2 L206.9,122.8 L206.2,122.4 L205.4,122.0 L204.7,121.7 L203.9,121.3 L203.1,121.0 L202.2,120.8 L201.4,120.5 L200.6,120.3 L199.7,120.1 L198.9,120.0 L198.0,119.9 L197.1,119.8 L196.3,119.8 L195.4,119.8 L194.5,119.9 L193.7,120.0 L192.8,120.1 L191.9,120.2 L191.1,120.4 L190.2,120.6 L189.4,120.9 L188.6,121.2 L187.8,121.5 L186.9,121.8 L186.1,122.1 L185.4,122.5 L184.6,122.9 L183.8,123.3 L183.1,123.7 L182.4,124.2 L181.6,124.7 L180.9,125.1 L180.2,125.6 L179.5,126.1 L178.9,126.7 L178.2,127.2 L177.5,127.7 L176.9,128.3 L176.3,128.9 L175.6,129.4 L175.0,130.0 L174.4,130.6 L173.8,131.2 L173.2,131.8 L172.6,132.4 L172.0,133.1 L171.5,133.7 L170.9,134.4 L170.3,135.0 L169.8,135.7 L169.3,136.4 L168.8,137.1 L168.3,137.8 L167.8,138.6 L167.3,139.3 L166.9,140.1 L166.4,140.9 L166.0,141.7 L165.7,142.5 L165.3,143.3 L165.0,144.1 L164.7,145.0 L164.4,145.9 L164.1,146.7 L163.9,147.6 L163.7,148.5 L163.6,149.4 L163.4,150.3 L163.4,151.2 L163.3,152.1 L163.3,153.0 L163.3,153.9 L163.4,154.8 L163.5,155.7 L163.6,156.6 L163.8,157.5 L164.0,158.4 L164.2,159.3 L164.5,160.1 L164.8,161.0 L165.1,161.8 L165.4,162.6 L165.8,163.5 L166.2,164.3 L166.6,165.0 L167.1,165.8 L167.5,166.6 L168.0,167.3 L168.5,168.0 L169.0,168.7 L169.6,169.4 L170.1,170.1 L170.7,170.7 L171.3,171.4 L171.9,172.0 L172.5,172.6 L173.1,173.2 L173.7,173.8 L174.3,174.3 L174.9,174.9 L175.6,175.4 L176.2,175.9 L176.9,176.5 L177.5,177.0 L178.2,177.4 L178.9,177.9 L179.6,178.4 L180.3,178.8 L180.9,179.3 L181.7,179.7 L182.4,180.1 L183.1,180.5 L183.8,180.8 L184.6,181.2 L185.3,181.5 L186.1,181.8 L186.8,182.1 L187.6,182.4 L188.4,182.6 L189.2,182.9 L189.9,183.1 L190.7,183.3 L191.5,183.4 L192.3,183.5 L193.1,183.7 L194.0,183.7 L194.8,183.8 L195.6,183.8 L196.4,183.8 L197.2,183.8 L198.0,183.7 L198.8,183.6 L199.6,183.5 L200.4,183.3 L201.2,183.2 L201.9,182.9 L202.7,182.7 L203.5,182.5 L204.2,182.2 L204.9,181.9 L205.7,181.6 L206.4,181.2 L207.1,180.9 L207.7,180.5 L208.4,180.1 L209.1,179.7 L209.7,179.3 L210.3,178.9 L211.0,178.4 L211.6,178.0 L212.2,177.5 L212.7,177.1 L213.3,176.6 L213.9,176.1 L214.4,175.6 L215.0,175.1 L215.5,174.6 L216.0,174.1 L216.6,173.6 L217.1,173.1 L217.6,172.6 L218.1,172.1 L218.6,171.5 L219.1,171.0 L219.6,170.5 L220.1,169.9 L220.6,169.4 L221.0,168.8 L221.5,168.3 L222.0,167.7 L222.4,167.1 L222.9,166.5 L223.3,165.9 L223.7,165.3 L224.1,164.6 L224.5,164.0 L224.9,163.3 L225.3,162.7 L225.6,162.0 L225.9,161.3 L226.2,160.6 L226.5,159.8 L226.8,159.1 L227.0,158.4 L227.2,157.6 L227.4,156.9 L227.5,156.1 L227.6,155.3 L227.7,154.6 L227.8,153.8Z" fill="#0659a8" stroke="#0c2a55" stroke-width="0.7" stroke-opacity="0.9"/>
<path d="M214.3,153.0 L214.3,152.6 L214.3,152.1 L214.3,151.7 L214.3,151.3 L214.2,150.9 L214.1,150.4 L214.1,150.0 L214.0,149.6 L213.9,149.2 L213.7,148.8 L213.6,148.4 L213.5,148.0 L213.3,147.6 L213.1,147.2 L212.9,146.8 L212.8,146.4 L212.5,146.1 L212.3,145.7 L212.1,145.3 L211.9,145.0 L211.6,144.7 L211.4,144.3 L211.1,144.0 L210.8,143.7 L210.5,143.4 L210.3,143.1 L210.0,142.8 L209.7,142.5 L209.3,142.2 L209.0,142.0 L208.7,141.7 L208.4,141.5 L208.1,141.2 L207.7,141.0 L207.4,140.8 L207.0,140.6 L206.7,140.4 L206.3,140.2 L206.0,140.0 L205.6,139.8 L205.3,139.6 L204.9,139.5 L204.5,139.3 L204.2,139.2 L203.8,139.0 L203.4,138.9 L203.0,138.8 L202.7,138.7 L202.3,138.6 L201.9,138.5 L201.5,138.4 L201.1,138.3 L200.7,138.3 L200.3,138.2 L200.0,138.1 L199.6,138.1 L199.2,138.1 L198.8,138.0 L198.4,138.0 L198.0,138.0 L197.6,138.0 L197.2,138.0 L196.8,138.0 L196.4,138.0 L196.0,138.1 L195.6,138.1 L195.2,138.1 L194.9,138.2 L194.5,138.3 L194.1,138.3 L193.7,138.4 L193.3,138.5 L192.9,138.6 L192.5,138.7 L192.1,138.8 L191.8,139.0 L191.4,139.1 L191.0,139.3 L190.6,139.4 L190.3,139.6 L189.9,139.8 L189.5,140.0 L189.2,140.2 L188.8,140.4 L188.5,140.6 L188.1,140.8 L187.8,141.1 L187.5,141.3 L187.1,141.6 L186.8,141.8 L186.5,142.1 L186.2,142.4 L185.9,142.7 L185.6,143.0 L185.4,143.3 L185.1,143.6 L184.8,144.0 L184.6,144.3 L184.4,144.6 L184.1,145.0 L183.9,145.3 L183.7,145.7 L183.5,146.1 L183.3,146.5 L183.1,146.8 L183.0,147.2 L182.8,147.6 L182.7,148.0 L182.5,148.4 L182.4,148.8 L182.3,149.2 L182.2,149.6 L182.1,150.1 L182.1,150.5 L182.0,150.9 L182.0,151.3 L181.9,151.7 L181.9,152.2 L181.9,152.6 L181.9,153.0 L181.9,153.4 L181.9,153.8 L182.0,154.3 L182.0,154.7 L182.1,155.1 L182.2,155.5 L182.3,155.9 L182.3,156.3 L182.5,156.7 L182.6,157.1 L182.7,157.5 L182.8,157.9 L183.0,158.3 L183.1,158.7 L183.3,159.1 L183.5,159.5 L183.7,159.8 L183.9,160.2 L184.1,160.6 L184.3,160.9 L184.5,161.3 L184.7,161.6 L184.9,162.0 L185.2,162.3 L185.4,162.6 L185.7,163.0 L185.9,163.3 L186.2,163.6 L186.5,163.9 L186.8,164.2 L187.0,164.5 L187.3,164.8 L187.6,165.1 L187.9,165.4 L188.2,165.7 L188.6,166.0 L188.9,166.3 L189.2,166.5 L189.6,166.8 L189.9,167.0 L190.3,167.2 L190.6,167.5 L191.0,167.7 L191.4,167.9 L191.7,168.1 L192.1,168.3 L192.5,168.5 L192.9,168.6 L193.3,168.8 L193.7,168.9 L194.1,169.0 L194.6,169.1 L195.0,169.2 L195.4,169.3 L195.8,169.4 L196.3,169.4 L196.7,169.5 L197.1,169.5 L197.6,169.5 L198.0,169.5 L198.4,169.5 L198.9,169.4 L199.3,169.4 L199.7,169.3 L200.1,169.2 L200.5,169.1 L201.0,169.0 L201.4,168.8 L201.8,168.7 L202.2,168.5 L202.6,168.4 L202.9,168.2 L203.3,168.0 L203.7,167.8 L204.0,167.6 L204.4,167.4 L204.7,167.1 L205.1,166.9 L205.4,166.7 L205.8,166.4 L206.1,166.2 L206.4,165.9 L206.7,165.7 L207.0,165.4 L207.3,165.1 L207.6,164.9 L207.9,164.6 L208.2,164.3 L208.5,164.0 L208.7,163.7 L209.0,163.5 L209.3,163.2 L209.6,162.9 L209.8,162.6 L210.1,162.3 L210.4,162.0 L210.6,161.7 L210.9,161.4 L211.1,161.0 L211.3,160.7 L211.6,160.4 L211.8,160.0 L212.0,159.7 L212.3,159.3 L212.5,159.0 L212.7,158.6 L212.9,158.3 L213.0,157.9 L213.2,157.5 L213.4,157.1 L213.5,156.7 L213.7,156.3 L213.8,155.9 L213.9,155.5 L214.0,155.1 L214.1,154.7 L214.2,154.3 L214.2,153.9 L214.3,153.4Z" fill="#1e4497" stroke="#0c2a55" stroke-width="0.7" stroke-opacity="0.9"/>
<path d="M272.7,153.0 L273.1,151.0 L273.1,149.1 L273.0,147.1 L273.2,145.1 L273.1,143.1 L273.2,141.1 L273.0,139.1 L272.8,137.1 L272.3,135.2 L271.5,133.3 L271.2,131.3 L270.7,129.4 L269.9,127.5 L269.2,125.7 L268.6,123.8 L267.4,122.1 L266.7,120.2 L265.8,118.4 L265.4,116.4 L264.3,114.7 L263.3,113.0 L262.4,111.2 L261.3,109.5 L260.0,108.0 L258.9,106.3 L257.7,104.6 L256.9,102.7 L255.6,101.2 L254.1,99.7 L252.3,98.7 L250.8,97.3 L249.4,95.9 L248.0,94.4 L246.7,92.9 L245.1,91.6 L243.5,90.4 L241.9,89.1 L240.4,87.8 L238.7,86.6 L236.9,85.6 L235.3,84.3 L233.7,82.9 L232.0,81.7 L230.3,80.5 L228.5,79.5 L226.6,78.5 L224.7,77.6 L222.8,76.6 L221.0,75.4 L219.0,74.5 L217.1,73.3 L215.1,72.6 L213.0,71.9 L210.9,71.3 L208.8,70.8 L206.7,70.6 L204.6,69.7 L202.4,69.1 L200.2,68.6 L198.0,68.8 L195.8,68.6 L193.6,68.2 L191.4,68.5 L189.2,69.1 L187.0,69.3 L184.8,69.4 L182.5,69.4 L180.3,69.8 L178.1,70.0 L175.8,70.2 L173.7,71.0 L171.5,71.6 L169.4,72.2 L167.4,73.2 L165.2,73.9 L163.4,75.2 L161.4,76.2 L159.5,77.3 L157.5,78.4 L155.5,79.4 L153.5,80.4 L151.7,81.7 L150.1,83.3 L148.3,84.6 L146.4,85.8 L144.6,87.1 L143.3,89.0 L141.8,90.6 L140.2,92.1 L138.6,93.6 L137.1,95.2 L135.6,96.8 L134.1,98.4 L132.9,100.3 L131.9,102.3 L130.4,103.9 L129.1,105.7 L127.8,107.4 L126.8,109.3 L125.8,111.3 L124.6,113.1 L123.9,115.2 L122.8,117.1 L121.5,118.9 L120.4,120.9 L119.2,122.8 L118.2,124.8 L117.4,126.8 L116.8,128.9 L115.9,131.0 L114.9,133.1 L114.1,135.2 L113.8,137.4 L113.5,139.6 L113.3,141.8 L113.0,144.1 L112.2,146.2 L112.1,148.5 L111.6,150.7 L112.0,153.0 L112.5,155.2 L112.8,157.5 L113.0,159.7 L113.1,161.9 L113.8,164.1 L114.4,166.2 L115.2,168.4 L116.0,170.4 L116.8,172.5 L117.9,174.5 L119.0,176.4 L119.9,178.4 L120.6,180.4 L121.5,182.3 L122.8,184.2 L123.6,186.1 L124.6,188.0 L126.1,189.7 L127.4,191.3 L128.4,193.2 L129.7,194.9 L131.1,196.5 L132.5,198.0 L133.8,199.7 L135.1,201.2 L136.3,202.9 L137.5,204.6 L138.9,206.2 L140.9,207.2 L142.6,208.4 L144.4,209.4 L145.9,210.8 L147.5,212.1 L149.6,212.8 L151.1,214.1 L153.0,215.0 L154.6,216.2 L156.4,217.0 L158.0,218.2 L159.9,218.9 L161.8,219.8 L163.6,220.4 L165.2,221.8 L167.1,222.4 L169.1,222.9 L170.9,223.6 L172.8,224.0 L174.8,224.3 L177.0,223.9 L178.9,224.3 L180.8,224.7 L182.6,225.3 L184.6,225.2 L186.5,225.3 L188.4,225.8 L190.3,226.2 L192.2,226.6 L194.1,226.6 L196.1,227.0 L198.0,226.7 L199.9,226.6 L201.8,226.0 L203.7,225.9 L205.6,225.6 L207.6,225.7 L209.5,225.4 L211.3,224.9 L213.1,224.1 L215.0,223.8 L216.9,223.5 L218.8,223.2 L220.6,222.6 L222.4,221.8 L224.2,221.3 L226.1,220.8 L227.9,220.2 L229.8,219.6 L231.6,218.9 L233.1,217.6 L235.0,217.1 L236.5,215.9 L238.3,215.0 L239.9,214.0 L241.4,212.8 L243.1,211.8 L244.4,210.3 L246.0,209.3 L247.6,208.1 L248.8,206.5 L250.2,205.2 L251.7,203.9 L252.8,202.3 L254.4,201.2 L255.4,199.5 L256.9,198.2 L257.8,196.5 L259.2,195.0 L260.4,193.5 L261.7,192.0 L262.5,190.2 L263.7,188.6 L264.4,186.8 L265.6,185.3 L266.0,183.3 L266.8,181.5 L267.3,179.6 L268.6,178.0 L269.2,176.1 L269.9,174.3 L270.3,172.4 L270.7,170.4 L270.9,168.5 L271.7,166.7 L272.6,164.8 L272.6,162.8 L272.7,160.9 L272.8,158.9 L273.1,156.9 L272.9,155.0Z" fill="none" stroke="#c9995f" stroke-width="1.3" stroke-opacity="0.75" stroke-linejoin="round"/>
<path d="M273.6,153.0 L273.7,151.0 L273.9,149.0 L273.8,147.0 L273.4,145.1 L273.4,143.1 L273.3,141.1 L273.4,139.0 L272.9,137.1 L272.7,135.1 L272.3,133.1 L272.1,131.0 L271.3,129.2 L270.6,127.3 L269.9,125.4 L269.4,123.4 L268.6,121.6 L267.6,119.8 L266.9,117.9 L265.7,116.2 L264.5,114.6 L263.5,112.9 L262.4,111.2 L261.3,109.5 L260.0,107.9 L258.8,106.4 L257.7,104.6 L256.3,103.2 L255.0,101.7 L253.8,100.1 L252.5,98.5 L251.2,96.9 L249.7,95.6 L248.2,94.2 L246.9,92.6 L245.3,91.4 L243.9,89.9 L242.4,88.4 L240.7,87.2 L239.0,86.0 L237.3,84.9 L235.6,83.7 L233.9,82.6 L232.1,81.6 L230.2,80.7 L228.3,79.7 L226.5,78.7 L224.7,77.6 L222.8,76.6 L221.0,75.4 L219.0,74.6 L217.1,73.6 L215.0,73.0 L213.0,72.3 L210.8,71.9 L208.8,71.2 L206.6,70.7 L204.5,70.3 L202.4,69.9 L200.2,69.1 L198.0,68.9 L195.8,68.7 L193.6,68.5 L191.3,68.5 L189.1,68.7 L186.9,68.9 L184.7,69.1 L182.5,69.3 L180.4,70.0 L178.1,70.3 L176.0,70.8 L173.7,71.1 L171.6,71.9 L169.5,72.5 L167.3,73.0 L165.3,74.1 L163.3,75.0 L161.4,76.2 L159.3,77.1 L157.5,78.4 L155.5,79.5 L153.6,80.6 L151.8,81.8 L150.0,83.1 L148.3,84.6 L146.6,86.0 L145.1,87.7 L143.2,88.8 L141.4,90.1 L139.7,91.6 L138.4,93.4 L136.9,95.0 L135.5,96.7 L133.7,98.1 L132.3,99.8 L131.1,101.7 L130.0,103.6 L128.9,105.5 L127.7,107.3 L126.7,109.3 L125.6,111.2 L124.6,113.1 L123.8,115.2 L122.8,117.1 L121.9,119.1 L121.1,121.2 L120.0,123.1 L118.9,125.0 L118.1,127.0 L117.4,129.1 L116.5,131.2 L115.1,133.1 L114.5,135.3 L113.9,137.4 L113.5,139.6 L113.2,141.8 L112.7,144.0 L112.4,146.3 L112.1,148.5 L112.1,150.8 L112.2,153.0 L112.4,155.2 L113.0,157.5 L113.3,159.7 L113.5,161.9 L113.7,164.1 L114.2,166.3 L115.1,168.4 L115.8,170.5 L116.9,172.5 L117.8,174.5 L118.5,176.6 L119.4,178.5 L120.2,180.6 L121.1,182.5 L122.1,184.4 L123.1,186.4 L124.2,188.2 L125.5,189.9 L127.0,191.6 L128.4,193.2 L129.6,194.9 L130.9,196.6 L132.4,198.1 L133.8,199.7 L135.1,201.2 L136.5,202.8 L138.2,204.1 L139.6,205.5 L141.2,206.9 L142.5,208.5 L144.1,209.8 L145.7,211.1 L147.4,212.3 L148.9,213.6 L150.6,214.7 L152.1,216.2 L153.9,217.1 L155.8,218.0 L157.7,218.8 L159.6,219.4 L161.4,220.3 L163.4,220.9 L165.3,221.7 L167.2,222.2 L169.2,222.6 L171.0,223.3 L173.0,223.7 L174.8,224.5 L176.7,225.0 L178.6,225.5 L180.5,225.9 L182.5,226.1 L184.4,226.4 L186.3,226.6 L188.3,226.3 L190.3,226.3 L192.3,226.0 L194.2,226.1 L196.1,225.9 L198.0,225.9 L199.9,225.6 L201.8,225.5 L203.7,225.0 L205.6,225.0 L207.5,224.8 L209.3,224.5 L211.2,224.5 L213.1,224.1 L215.0,223.7 L216.8,223.1 L218.6,222.6 L220.6,222.5 L222.4,221.8 L224.0,220.8 L225.8,220.1 L227.6,219.4 L229.3,218.5 L231.2,218.1 L232.8,217.0 L234.5,216.2 L236.1,215.2 L237.9,214.4 L239.7,213.7 L241.3,212.7 L243.0,211.6 L244.6,210.5 L246.0,209.2 L247.6,208.0 L249.1,206.9 L250.6,205.6 L252.0,204.2 L253.1,202.6 L254.4,201.2 L255.6,199.6 L256.9,198.2 L258.2,196.7 L259.4,195.2 L260.4,193.5 L261.1,191.7 L262.1,190.0 L262.8,188.2 L263.5,186.4 L264.7,184.8 L265.4,183.0 L266.5,181.4 L267.0,179.5 L267.4,177.6 L268.2,175.8 L269.2,174.1 L270.4,172.4 L271.0,170.5 L271.5,168.6 L271.8,166.7 L272.0,164.7 L272.3,162.8 L273.0,160.9 L273.2,158.9 L273.2,156.9 L273.3,155.0Z" fill="none" stroke="#4a2e18" stroke-width="0.85" stroke-opacity="0.85" stroke-linejoin="round"/>
<path d="M273.3,153.0 L273.6,151.0 L273.6,149.0 L273.7,147.0 L273.4,145.1 L273.0,143.1 L272.5,141.2 L272.3,139.2 L272.3,137.2 L272.2,135.2 L271.9,133.2 L271.2,131.3 L270.7,129.4 L270.0,127.5 L269.8,125.4 L269.2,123.5 L268.5,121.6 L267.6,119.8 L266.6,118.0 L265.8,116.2 L264.7,114.5 L263.4,112.9 L262.3,111.2 L261.3,109.5 L260.3,107.7 L259.2,106.0 L257.8,104.5 L256.7,102.9 L255.2,101.5 L253.8,100.0 L252.5,98.5 L251.2,96.9 L249.6,95.7 L248.0,94.5 L246.6,93.0 L245.2,91.5 L243.6,90.2 L242.2,88.7 L240.7,87.2 L239.2,85.8 L237.3,84.9 L235.6,83.8 L233.8,82.7 L232.2,81.3 L230.4,80.3 L228.5,79.3 L226.6,78.6 L224.7,77.7 L222.8,76.7 L220.9,75.8 L219.0,74.8 L217.0,73.7 L215.0,73.0 L213.0,72.1 L210.9,71.4 L208.9,70.5 L206.7,70.0 L204.6,69.7 L202.4,69.1 L200.2,68.7 L198.0,68.5 L195.8,68.5 L193.6,68.6 L191.4,68.9 L189.2,68.9 L186.9,68.9 L184.6,68.7 L182.4,69.0 L180.3,69.7 L178.2,70.5 L176.0,71.0 L173.9,71.5 L171.8,72.2 L169.6,72.9 L167.5,73.6 L165.5,74.6 L163.6,75.7 L161.6,76.8 L159.6,77.6 L157.6,78.6 L155.5,79.4 L153.5,80.4 L151.8,81.9 L150.0,83.1 L148.4,84.7 L146.7,86.2 L145.0,87.6 L143.3,88.9 L141.7,90.5 L140.0,91.9 L138.7,93.7 L137.0,95.1 L135.7,96.9 L134.3,98.6 L133.2,100.5 L131.9,102.3 L130.7,104.1 L129.6,106.0 L128.6,107.9 L127.5,109.8 L126.2,111.6 L125.1,113.4 L123.9,115.2 L122.8,117.1 L121.8,119.1 L120.8,121.0 L119.7,122.9 L118.7,124.9 L117.9,127.0 L117.4,129.1 L116.4,131.1 L115.6,133.2 L114.8,135.3 L114.6,137.5 L113.8,139.7 L113.1,141.8 L112.8,144.0 L112.6,146.3 L112.3,148.5 L112.5,150.8 L112.6,153.0 L112.8,155.2 L113.3,157.4 L113.6,159.6 L114.1,161.8 L114.0,164.1 L114.7,166.2 L115.4,168.3 L116.1,170.4 L116.7,172.5 L117.6,174.5 L118.2,176.6 L119.0,178.7 L120.1,180.6 L121.5,182.4 L122.6,184.2 L123.6,186.1 L124.8,187.9 L126.1,189.6 L127.4,191.3 L128.6,193.1 L129.9,194.8 L131.1,196.5 L132.6,198.0 L134.0,199.5 L135.5,201.0 L136.7,202.7 L138.2,204.1 L139.7,205.5 L141.1,207.0 L142.6,208.4 L144.2,209.7 L145.8,210.9 L147.4,212.3 L149.1,213.4 L150.8,214.5 L152.4,215.7 L154.2,216.7 L156.0,217.7 L157.8,218.6 L159.6,219.6 L161.4,220.3 L163.4,220.9 L165.2,221.7 L167.1,222.4 L169.1,222.8 L171.1,223.1 L173.0,223.6 L174.9,224.0 L176.8,224.5 L178.8,224.8 L180.7,225.2 L182.6,225.7 L184.5,225.7 L186.5,225.9 L188.4,226.0 L190.3,225.9 L192.3,225.9 L194.2,226.1 L196.1,226.2 L198.0,226.0 L199.9,225.4 L201.8,225.5 L203.7,225.6 L205.6,225.4 L207.5,225.0 L209.3,224.7 L211.2,224.3 L213.1,224.2 L215.0,223.7 L216.8,223.3 L218.8,223.1 L220.5,222.4 L222.3,221.7 L224.1,220.9 L225.9,220.3 L227.7,219.8 L229.4,218.8 L231.2,218.2 L232.8,217.1 L234.4,216.0 L236.1,215.2 L237.8,214.2 L239.5,213.4 L240.9,212.0 L242.5,210.9 L244.0,209.8 L245.4,208.5 L246.9,207.3 L248.4,206.1 L249.9,204.9 L251.4,203.7 L252.6,202.2 L254.0,200.9 L255.5,199.6 L256.9,198.2 L258.0,196.6 L259.0,194.9 L260.0,193.2 L261.0,191.6 L262.0,190.0 L263.1,188.4 L263.9,186.6 L264.4,184.7 L265.3,182.9 L266.0,181.2 L267.1,179.5 L267.7,177.7 L268.5,175.9 L269.2,174.1 L269.7,172.2 L270.6,170.4 L271.0,168.5 L271.8,166.7 L272.2,164.8 L272.4,162.8 L272.8,160.9 L273.2,158.9 L273.2,156.9 L273.2,155.0Z" fill="none" stroke="#0c0806" stroke-width="0.6" stroke-opacity="0.9" stroke-linejoin="round"/>
</g>
<g>
<path d="M509.2,147.0 L509.0,144.8 L508.4,142.6 L508.2,140.4 L508.0,138.3 L508.0,136.1 L507.4,133.9 L506.9,131.8 L506.2,129.7 L505.5,127.7 L504.8,125.6 L504.1,123.6 L503.5,121.5 L502.8,119.4 L501.8,117.5 L501.0,115.5 L499.9,113.7 L498.8,111.8 L497.7,109.9 L496.7,108.1 L495.6,106.2 L494.3,104.5 L492.9,102.9 L491.5,101.3 L490.2,99.6 L488.9,98.0 L487.5,96.4 L485.9,95.0 L484.3,93.6 L483.0,91.9 L481.7,90.3 L480.3,88.7 L478.9,87.2 L477.3,85.8 L475.7,84.4 L474.1,83.1 L472.3,81.9 L470.6,80.7 L468.8,79.6 L466.8,78.7 L465.1,77.5 L463.3,76.5 L461.3,75.7 L459.3,75.1 L457.4,74.2 L455.6,73.1 L453.7,72.2 L451.7,71.5 L449.9,70.5 L447.9,69.7 L445.9,69.0 L443.9,68.3 L441.8,67.7 L439.8,67.2 L437.7,66.8 L435.6,66.4 L433.5,66.1 L431.4,65.9 L429.2,66.1 L427.1,66.0 L425.0,65.9 L422.9,65.7 L420.7,65.8 L418.6,65.9 L416.5,66.3 L414.4,66.8 L412.4,67.4 L410.3,67.7 L408.2,68.0 L406.1,68.3 L404.1,69.2 L402.2,70.0 L400.3,70.8 L398.3,71.7 L396.4,72.6 L394.5,73.4 L392.6,74.3 L390.7,75.2 L388.9,76.1 L387.2,77.3 L385.4,78.4 L383.6,79.4 L381.7,80.4 L380.1,81.7 L378.6,83.1 L376.9,84.3 L375.3,85.6 L373.8,87.1 L372.3,88.4 L370.7,89.8 L369.3,91.3 L367.9,92.8 L366.8,94.6 L365.4,96.1 L364.2,97.7 L362.9,99.4 L361.5,100.9 L360.4,102.6 L359.5,104.5 L358.6,106.3 L357.5,108.1 L356.4,109.8 L355.3,111.5 L354.4,113.3 L353.3,115.1 L352.6,117.0 L351.9,119.0 L351.2,120.9 L350.4,122.8 L349.9,124.8 L349.4,126.8 L348.8,128.7 L348.5,130.7 L348.1,132.7 L347.8,134.8 L347.5,136.8 L347.1,138.8 L347.0,140.9 L346.6,142.9 L346.8,145.0 L346.9,147.0 L346.9,149.0 L346.9,151.1 L346.9,153.1 L347.1,155.2 L347.6,157.2 L347.9,159.2 L348.3,161.2 L348.6,163.2 L349.1,165.2 L349.5,167.2 L349.7,169.3 L350.3,171.3 L350.7,173.3 L351.3,175.3 L351.8,177.3 L352.6,179.3 L353.3,181.2 L354.2,183.1 L355.1,184.9 L356.1,186.8 L357.1,188.6 L357.9,190.6 L359.0,192.3 L360.0,194.2 L361.2,195.9 L362.1,197.9 L363.5,199.6 L364.5,201.5 L366.0,203.0 L367.5,204.5 L369.2,205.8 L370.7,207.3 L372.4,208.6 L373.9,210.1 L375.5,211.5 L377.2,212.7 L378.9,214.1 L380.7,215.2 L382.6,216.3 L384.4,217.3 L386.2,218.5 L388.1,219.5 L390.0,220.4 L391.9,221.3 L393.8,222.4 L395.8,223.0 L397.7,224.0 L399.7,224.9 L401.8,225.5 L403.8,226.2 L405.8,226.9 L407.9,227.6 L410.0,228.2 L412.0,228.8 L414.2,229.2 L416.3,229.5 L418.5,229.6 L420.7,230.0 L422.8,230.1 L425.0,230.1 L427.2,229.9 L429.3,229.7 L431.5,229.5 L433.7,229.5 L435.8,229.4 L438.0,228.9 L440.1,228.4 L442.2,227.7 L444.3,227.2 L446.4,226.8 L448.5,226.2 L450.5,225.5 L452.6,224.9 L454.6,224.0 L456.7,223.4 L458.6,222.5 L460.7,221.8 L462.6,220.8 L464.6,219.9 L466.4,218.7 L468.4,217.8 L470.2,216.6 L472.2,215.7 L474.0,214.4 L475.8,213.3 L477.4,211.7 L479.3,210.5 L481.2,209.4 L483.1,208.3 L484.9,206.9 L486.4,205.3 L488.1,203.8 L489.7,202.2 L491.3,200.7 L492.7,198.9 L494.0,197.2 L495.6,195.5 L496.9,193.7 L498.3,191.9 L499.6,190.1 L500.8,188.1 L501.6,186.0 L502.6,184.0 L503.6,182.0 L504.5,179.9 L505.1,177.8 L505.9,175.6 L506.8,173.6 L507.4,171.4 L508.2,169.3 L508.7,167.1 L509.2,164.9 L509.4,162.6 L509.5,160.4 L509.3,158.1 L509.4,155.9 L509.1,153.6 L509.3,151.4 L509.2,149.2Z" fill="#c4e3f8" stroke="none"/>
<path d="M508.9,147.0 L508.7,144.8 L508.5,142.6 L508.2,140.5 L507.9,138.3 L507.4,136.1 L506.9,134.0 L506.4,131.9 L505.7,129.8 L505.1,127.8 L504.3,125.7 L503.5,123.7 L502.7,121.8 L501.8,119.8 L500.8,117.9 L499.8,116.0 L498.8,114.1 L497.7,112.3 L496.6,110.5 L495.4,108.8 L494.2,107.0 L493.0,105.3 L491.7,103.7 L490.4,102.0 L489.1,100.4 L487.7,98.9 L486.4,97.3 L485.0,95.8 L483.5,94.3 L482.1,92.9 L480.6,91.4 L479.1,90.0 L477.6,88.6 L476.0,87.3 L474.4,86.0 L472.8,84.7 L471.2,83.4 L469.6,82.2 L467.9,81.0 L466.2,79.8 L464.4,78.7 L462.7,77.6 L460.9,76.5 L459.1,75.5 L457.3,74.5 L455.4,73.6 L453.5,72.7 L451.6,71.9 L449.7,71.1 L447.7,70.4 L445.7,69.7 L443.7,69.1 L441.7,68.5 L439.6,68.0 L437.6,67.6 L435.5,67.2 L433.4,66.9 L431.3,66.6 L429.2,66.5 L427.1,66.3 L425.0,66.3 L422.9,66.3 L420.8,66.4 L418.7,66.6 L416.6,66.9 L414.5,67.2 L412.4,67.6 L410.4,68.0 L408.3,68.5 L406.3,69.1 L404.3,69.7 L402.3,70.3 L400.3,71.1 L398.4,71.9 L396.5,72.7 L394.6,73.6 L392.7,74.5 L390.9,75.5 L389.1,76.6 L387.4,77.7 L385.6,78.8 L383.9,80.0 L382.3,81.2 L380.6,82.5 L379.1,83.8 L377.5,85.1 L376.0,86.4 L374.5,87.8 L373.0,89.3 L371.6,90.7 L370.2,92.2 L368.8,93.7 L367.5,95.2 L366.2,96.8 L365.0,98.4 L363.8,100.0 L362.6,101.6 L361.4,103.3 L360.3,105.0 L359.3,106.7 L358.2,108.5 L357.2,110.2 L356.3,112.0 L355.4,113.8 L354.5,115.6 L353.7,117.5 L352.9,119.3 L352.2,121.2 L351.5,123.1 L350.9,125.1 L350.3,127.0 L349.8,128.9 L349.3,130.9 L348.8,132.9 L348.4,134.9 L348.1,136.9 L347.8,138.9 L347.6,140.9 L347.4,142.9 L347.3,145.0 L347.2,147.0 L347.2,149.0 L347.2,151.1 L347.3,153.1 L347.5,155.2 L347.6,157.2 L347.9,159.2 L348.2,161.2 L348.6,163.2 L349.0,165.3 L349.4,167.2 L350.0,169.2 L350.5,171.2 L351.1,173.2 L351.8,175.1 L352.5,177.0 L353.3,178.9 L354.1,180.8 L355.0,182.7 L355.9,184.5 L356.8,186.4 L357.8,188.2 L358.9,189.9 L360.0,191.7 L361.1,193.4 L362.3,195.1 L363.5,196.8 L364.8,198.5 L366.1,200.1 L367.4,201.7 L368.8,203.2 L370.2,204.7 L371.7,206.2 L373.2,207.7 L374.7,209.1 L376.3,210.5 L377.9,211.9 L379.5,213.2 L381.2,214.4 L382.9,215.7 L384.7,216.9 L386.4,218.0 L388.3,219.1 L390.1,220.2 L392.0,221.2 L393.9,222.1 L395.8,223.0 L397.8,223.9 L399.8,224.7 L401.8,225.5 L403.8,226.2 L405.8,226.8 L407.9,227.4 L410.0,227.9 L412.1,228.4 L414.2,228.8 L416.4,229.1 L418.5,229.4 L420.7,229.6 L422.8,229.8 L425.0,229.9 L427.2,229.9 L429.3,229.8 L431.5,229.6 L433.6,229.3 L435.8,228.9 L437.9,228.5 L440.0,228.0 L442.1,227.5 L444.2,226.9 L446.3,226.3 L448.3,225.7 L450.3,225.0 L452.4,224.2 L454.4,223.5 L456.4,222.7 L458.4,221.9 L460.3,221.1 L462.3,220.3 L464.3,219.4 L466.3,218.5 L468.2,217.5 L470.2,216.5 L472.1,215.5 L474.0,214.4 L475.8,213.1 L477.5,211.8 L479.2,210.4 L480.8,209.0 L482.5,207.5 L484.0,206.0 L485.6,204.5 L487.1,202.9 L488.6,201.3 L490.0,199.7 L491.4,198.0 L492.8,196.3 L494.1,194.5 L495.4,192.7 L496.6,190.9 L497.8,189.0 L498.9,187.1 L500.0,185.2 L501.0,183.2 L502.0,181.3 L502.9,179.3 L503.7,177.2 L504.5,175.2 L505.3,173.1 L505.9,171.0 L506.5,168.8 L507.1,166.7 L507.6,164.5 L508.0,162.4 L508.3,160.2 L508.6,158.0 L508.8,155.8 L508.9,153.6 L509.0,151.4 L509.0,149.2Z" fill="#a8d6f3" stroke="none"/>
<path d="M508.3,147.0 L508.1,144.8 L507.9,142.7 L507.6,140.5 L507.2,138.4 L506.7,136.2 L506.2,134.1 L505.5,132.1 L504.9,130.0 L504.1,128.0 L503.3,126.0 L502.5,124.0 L501.6,122.1 L500.6,120.2 L499.6,118.3 L498.6,116.5 L497.5,114.7 L496.4,113.0 L495.2,111.2 L494.0,109.5 L492.8,107.9 L491.5,106.2 L490.2,104.6 L488.9,103.1 L487.6,101.5 L486.2,100.0 L484.9,98.5 L483.5,97.1 L482.0,95.6 L480.6,94.2 L479.2,92.8 L477.7,91.5 L476.2,90.1 L474.7,88.8 L473.2,87.5 L471.7,86.2 L470.1,84.9 L468.5,83.6 L466.9,82.4 L465.3,81.2 L463.6,80.1 L461.9,79.0 L460.2,77.9 L458.5,76.8 L456.7,75.8 L454.9,74.8 L453.1,73.9 L451.2,73.0 L449.3,72.1 L447.4,71.3 L445.5,70.6 L443.5,69.9 L441.5,69.3 L439.5,68.8 L437.5,68.3 L435.4,67.8 L433.4,67.5 L431.3,67.2 L429.2,67.0 L427.1,66.9 L425.0,66.8 L422.9,66.8 L420.8,66.9 L418.7,67.1 L416.6,67.4 L414.6,67.7 L412.5,68.1 L410.5,68.5 L408.4,69.1 L406.4,69.7 L404.5,70.3 L402.5,71.1 L400.6,71.9 L398.7,72.7 L396.8,73.6 L395.0,74.5 L393.2,75.5 L391.4,76.6 L389.7,77.6 L388.0,78.8 L386.3,79.9 L384.6,81.1 L383.0,82.4 L381.5,83.6 L379.9,84.9 L378.4,86.3 L376.9,87.6 L375.5,89.0 L374.1,90.4 L372.7,91.9 L371.3,93.3 L370.0,94.8 L368.7,96.3 L367.4,97.8 L366.2,99.4 L365.0,100.9 L363.8,102.5 L362.6,104.1 L361.5,105.8 L360.4,107.4 L359.4,109.1 L358.4,110.8 L357.4,112.5 L356.4,114.3 L355.5,116.1 L354.7,117.9 L353.9,119.7 L353.1,121.5 L352.4,123.4 L351.7,125.3 L351.1,127.2 L350.5,129.1 L350.0,131.0 L349.5,133.0 L349.0,135.0 L348.7,137.0 L348.4,138.9 L348.1,140.9 L347.9,143.0 L347.8,145.0 L347.7,147.0 L347.7,149.0 L347.7,151.0 L347.8,153.1 L348.0,155.1 L348.2,157.1 L348.5,159.1 L348.9,161.1 L349.3,163.1 L349.7,165.1 L350.2,167.0 L350.8,169.0 L351.4,170.9 L352.1,172.8 L352.8,174.7 L353.5,176.6 L354.4,178.5 L355.2,180.3 L356.1,182.1 L357.0,183.9 L358.0,185.7 L359.1,187.4 L360.1,189.1 L361.2,190.8 L362.4,192.5 L363.6,194.1 L364.8,195.8 L366.0,197.4 L367.3,198.9 L368.6,200.5 L370.0,202.0 L371.4,203.5 L372.8,205.0 L374.2,206.4 L375.7,207.8 L377.2,209.2 L378.8,210.6 L380.4,211.9 L382.0,213.2 L383.7,214.5 L385.4,215.7 L387.1,216.8 L388.8,218.0 L390.6,219.1 L392.4,220.1 L394.3,221.1 L396.2,222.1 L398.1,223.0 L400.0,223.8 L402.0,224.6 L404.0,225.4 L406.0,226.1 L408.1,226.7 L410.1,227.3 L412.2,227.8 L414.3,228.2 L416.4,228.6 L418.6,228.9 L420.7,229.1 L422.8,229.3 L425.0,229.4 L427.2,229.4 L429.3,229.4 L431.5,229.2 L433.6,228.9 L435.7,228.6 L437.9,228.2 L440.0,227.7 L442.0,227.2 L444.1,226.6 L446.2,226.0 L448.2,225.3 L450.2,224.6 L452.2,223.9 L454.2,223.2 L456.2,222.4 L458.2,221.6 L460.2,220.8 L462.2,219.9 L464.1,219.0 L466.0,218.0 L467.8,216.8 L469.6,215.6 L471.3,214.4 L473.1,213.2 L474.8,211.9 L476.4,210.5 L478.1,209.2 L479.7,207.8 L481.3,206.3 L482.8,204.8 L484.4,203.3 L485.9,201.8 L487.3,200.2 L488.8,198.6 L490.2,197.0 L491.5,195.3 L492.8,193.6 L494.1,191.9 L495.4,190.1 L496.6,188.3 L497.7,186.5 L498.8,184.6 L499.9,182.7 L500.9,180.8 L501.8,178.8 L502.7,176.8 L503.6,174.8 L504.3,172.8 L505.1,170.7 L505.7,168.6 L506.3,166.5 L506.8,164.4 L507.3,162.2 L507.6,160.1 L507.9,157.9 L508.2,155.7 L508.3,153.6 L508.4,151.4 L508.4,149.2Z" fill="#90c8ec" stroke="#0c2a55" stroke-width="0.7" stroke-opacity="0.9"/>
<path d="M504.1,147.0 L503.9,144.9 L503.7,142.9 L503.4,140.8 L503.0,138.8 L502.6,136.8 L502.0,134.8 L501.5,132.8 L500.8,130.9 L500.1,129.0 L499.4,127.1 L498.6,125.2 L497.7,123.4 L496.8,121.6 L495.9,119.8 L494.9,118.0 L493.9,116.3 L492.8,114.6 L491.8,113.0 L490.6,111.4 L489.5,109.8 L488.3,108.2 L487.1,106.7 L485.8,105.2 L484.6,103.7 L483.3,102.3 L482.0,100.8 L480.7,99.5 L479.3,98.1 L478.0,96.7 L476.6,95.4 L475.2,94.1 L473.8,92.8 L472.4,91.5 L471.0,90.2 L469.5,89.0 L468.0,87.7 L466.5,86.5 L465.0,85.4 L463.5,84.2 L461.9,83.1 L460.3,82.0 L458.6,81.0 L457.0,80.0 L455.3,79.0 L453.6,78.0 L451.8,77.1 L450.0,76.3 L448.2,75.5 L446.4,74.7 L444.6,74.0 L442.7,73.3 L440.8,72.7 L438.9,72.2 L436.9,71.7 L435.0,71.3 L433.0,71.0 L431.0,70.7 L429.0,70.5 L427.0,70.4 L425.0,70.3 L423.0,70.3 L421.0,70.4 L419.0,70.6 L417.0,70.8 L415.0,71.1 L413.0,71.5 L411.1,72.0 L409.2,72.5 L407.2,73.0 L405.4,73.7 L403.5,74.4 L401.6,75.1 L399.8,75.9 L398.0,76.8 L396.3,77.7 L394.5,78.6 L392.8,79.6 L391.2,80.6 L389.5,81.7 L387.9,82.8 L386.4,84.0 L384.8,85.1 L383.3,86.4 L381.8,87.6 L380.4,88.9 L379.0,90.2 L377.6,91.5 L376.2,92.8 L374.9,94.2 L373.6,95.6 L372.3,97.0 L371.1,98.4 L369.8,99.9 L368.6,101.4 L367.5,102.9 L366.3,104.4 L365.2,105.9 L364.1,107.5 L363.1,109.1 L362.1,110.7 L361.1,112.3 L360.1,114.0 L359.2,115.6 L358.4,117.3 L357.5,119.1 L356.7,120.8 L356.0,122.6 L355.3,124.4 L354.6,126.2 L354.0,128.0 L353.5,129.8 L353.0,131.7 L352.5,133.6 L352.1,135.5 L351.7,137.4 L351.4,139.3 L351.2,141.2 L351.0,143.1 L350.9,145.1 L350.8,147.0 L350.8,148.9 L350.8,150.9 L351.0,152.8 L351.1,154.8 L351.4,156.7 L351.6,158.6 L352.0,160.5 L352.4,162.4 L352.8,164.3 L353.3,166.2 L353.9,168.1 L354.5,169.9 L355.1,171.7 L355.8,173.6 L356.6,175.4 L357.3,177.1 L358.2,178.9 L359.0,180.6 L359.9,182.3 L360.9,184.0 L361.9,185.7 L362.9,187.3 L363.9,189.0 L365.0,190.6 L366.2,192.2 L367.3,193.7 L368.5,195.3 L369.7,196.8 L371.0,198.3 L372.2,199.8 L373.6,201.2 L374.9,202.6 L376.3,204.1 L377.7,205.4 L379.1,206.8 L380.6,208.1 L382.1,209.4 L383.6,210.7 L385.2,212.0 L386.8,213.2 L388.4,214.3 L390.1,215.5 L391.8,216.6 L393.6,217.6 L395.3,218.6 L397.1,219.6 L399.0,220.5 L400.8,221.4 L402.7,222.2 L404.7,222.9 L406.6,223.6 L408.6,224.3 L410.6,224.9 L412.6,225.4 L414.6,225.8 L416.7,226.2 L418.7,226.6 L420.8,226.8 L422.9,227.0 L425.0,227.1 L427.1,227.1 L429.2,227.1 L431.3,227.0 L433.4,226.8 L435.5,226.6 L437.6,226.2 L439.6,225.9 L441.7,225.4 L443.7,224.9 L445.7,224.3 L447.7,223.7 L449.7,223.0 L451.7,222.3 L453.6,221.5 L455.5,220.6 L457.4,219.7 L459.2,218.7 L461.0,217.7 L462.8,216.7 L464.6,215.6 L466.3,214.5 L468.0,213.3 L469.7,212.1 L471.4,210.8 L473.0,209.5 L474.6,208.2 L476.1,206.8 L477.6,205.4 L479.1,204.0 L480.6,202.6 L482.0,201.1 L483.4,199.6 L484.8,198.1 L486.1,196.5 L487.4,194.9 L488.7,193.3 L489.9,191.6 L491.1,189.9 L492.3,188.2 L493.4,186.5 L494.5,184.7 L495.5,182.9 L496.5,181.1 L497.4,179.2 L498.3,177.3 L499.1,175.4 L499.8,173.5 L500.6,171.6 L501.2,169.6 L501.8,167.6 L502.3,165.6 L502.8,163.5 L503.2,161.5 L503.6,159.4 L503.8,157.4 L504.0,155.3 L504.2,153.2 L504.2,151.2 L504.2,149.1Z" fill="#76b8e4" stroke="#0c2a55" stroke-width="0.7" stroke-opacity="0.9"/>
<path d="M498.8,147.0 L498.6,145.1 L498.3,143.2 L498.0,141.3 L497.6,139.4 L497.1,137.5 L496.6,135.7 L496.0,133.8 L495.3,132.1 L494.6,130.3 L493.9,128.6 L493.0,126.8 L492.2,125.2 L491.3,123.5 L490.4,121.9 L489.4,120.3 L488.4,118.8 L487.4,117.2 L486.3,115.8 L485.2,114.3 L484.1,112.9 L483.0,111.5 L481.9,110.1 L480.7,108.7 L479.5,107.4 L478.3,106.1 L477.1,104.8 L475.9,103.5 L474.7,102.3 L473.4,101.1 L472.2,99.8 L470.9,98.6 L469.6,97.4 L468.4,96.2 L467.1,95.1 L465.7,93.9 L464.4,92.7 L463.1,91.6 L461.7,90.5 L460.3,89.4 L458.9,88.3 L457.4,87.3 L455.9,86.3 L454.4,85.3 L452.9,84.3 L451.3,83.4 L449.7,82.5 L448.1,81.7 L446.5,80.9 L444.8,80.1 L443.1,79.4 L441.4,78.8 L439.6,78.2 L437.8,77.7 L436.1,77.2 L434.2,76.8 L432.4,76.4 L430.6,76.2 L428.7,76.0 L426.9,75.8 L425.0,75.8 L423.1,75.8 L421.3,75.9 L419.4,76.1 L417.6,76.4 L415.7,76.7 L413.9,77.1 L412.1,77.6 L410.4,78.1 L408.6,78.7 L406.9,79.3 L405.2,80.0 L403.5,80.7 L401.8,81.5 L400.2,82.4 L398.6,83.3 L397.0,84.2 L395.5,85.2 L394.0,86.1 L392.5,87.2 L391.1,88.2 L389.7,89.3 L388.3,90.4 L386.9,91.6 L385.6,92.7 L384.3,93.9 L383.0,95.1 L381.7,96.3 L380.5,97.6 L379.3,98.8 L378.0,100.0 L376.9,101.3 L375.7,102.6 L374.5,103.9 L373.4,105.2 L372.2,106.5 L371.1,107.9 L370.0,109.2 L369.0,110.6 L367.9,112.0 L366.9,113.5 L365.9,114.9 L365.0,116.4 L364.0,117.9 L363.1,119.5 L362.3,121.0 L361.4,122.6 L360.6,124.2 L359.9,125.8 L359.2,127.5 L358.5,129.2 L357.9,130.9 L357.4,132.6 L356.9,134.4 L356.4,136.1 L356.0,137.9 L355.7,139.7 L355.4,141.5 L355.2,143.3 L355.1,145.2 L355.0,147.0 L355.0,148.8 L355.1,150.7 L355.2,152.5 L355.4,154.3 L355.7,156.1 L356.0,157.9 L356.4,159.7 L356.8,161.5 L357.3,163.3 L357.8,165.0 L358.4,166.7 L359.1,168.4 L359.8,170.1 L360.5,171.8 L361.3,173.4 L362.1,175.0 L363.0,176.6 L363.9,178.2 L364.8,179.7 L365.7,181.2 L366.7,182.7 L367.7,184.2 L368.8,185.6 L369.8,187.1 L370.9,188.5 L372.1,189.9 L373.2,191.3 L374.3,192.6 L375.5,194.0 L376.7,195.3 L377.9,196.6 L379.1,197.9 L380.4,199.2 L381.7,200.5 L383.0,201.8 L384.3,203.0 L385.7,204.2 L387.0,205.4 L388.5,206.6 L389.9,207.8 L391.4,208.9 L392.9,210.0 L394.4,211.1 L396.0,212.1 L397.6,213.1 L399.2,214.1 L400.9,215.0 L402.6,215.9 L404.3,216.7 L406.1,217.5 L407.9,218.2 L409.7,218.9 L411.6,219.5 L413.4,220.1 L415.3,220.6 L417.2,221.0 L419.1,221.4 L421.1,221.7 L423.0,221.9 L425.0,222.1 L427.0,222.2 L428.9,222.2 L430.9,222.1 L432.9,222.0 L434.8,221.8 L436.8,221.5 L438.7,221.2 L440.7,220.8 L442.6,220.3 L444.5,219.8 L446.4,219.2 L448.2,218.5 L450.1,217.8 L451.9,217.1 L453.7,216.3 L455.5,215.4 L457.2,214.5 L458.9,213.6 L460.6,212.6 L462.2,211.5 L463.9,210.4 L465.5,209.3 L467.0,208.2 L468.6,207.0 L470.1,205.8 L471.6,204.5 L473.0,203.2 L474.4,201.9 L475.8,200.6 L477.2,199.2 L478.5,197.8 L479.8,196.4 L481.1,194.9 L482.4,193.5 L483.6,192.0 L484.8,190.4 L485.9,188.9 L487.0,187.3 L488.1,185.7 L489.1,184.0 L490.1,182.4 L491.1,180.7 L492.0,179.0 L492.9,177.2 L493.7,175.4 L494.4,173.7 L495.2,171.8 L495.8,170.0 L496.4,168.2 L497.0,166.3 L497.4,164.4 L497.9,162.5 L498.2,160.6 L498.5,158.6 L498.7,156.7 L498.9,154.8 L499.0,152.8 L499.0,150.9 L498.9,148.9Z" fill="#5ea9db" stroke="#0c2a55" stroke-width="0.7" stroke-opacity="0.9"/>
<path d="M486.8,147.0 L486.6,145.4 L486.3,143.8 L486.0,142.2 L485.6,140.6 L485.3,139.1 L484.8,137.5 L484.3,136.0 L483.8,134.5 L483.3,133.0 L482.7,131.5 L482.1,130.1 L481.4,128.7 L480.8,127.3 L480.1,125.9 L479.3,124.5 L478.6,123.1 L477.8,121.8 L477.0,120.5 L476.2,119.2 L475.3,117.9 L474.5,116.7 L473.6,115.5 L472.7,114.2 L471.8,113.0 L470.8,111.8 L469.9,110.7 L468.9,109.5 L467.9,108.3 L466.9,107.2 L465.9,106.1 L464.9,104.9 L463.9,103.8 L462.8,102.7 L461.8,101.6 L460.7,100.5 L459.5,99.5 L458.4,98.4 L457.2,97.4 L456.0,96.4 L454.8,95.4 L453.6,94.4 L452.3,93.5 L451.0,92.6 L449.6,91.7 L448.3,90.8 L446.9,90.0 L445.4,89.3 L444.0,88.6 L442.5,87.9 L441.0,87.3 L439.5,86.7 L437.9,86.2 L436.4,85.7 L434.8,85.3 L433.2,85.0 L431.5,84.7 L429.9,84.5 L428.3,84.4 L426.6,84.3 L425.0,84.3 L423.4,84.4 L421.7,84.5 L420.1,84.8 L418.5,85.1 L416.9,85.4 L415.3,85.8 L413.8,86.3 L412.2,86.9 L410.7,87.5 L409.2,88.1 L407.8,88.8 L406.3,89.5 L404.9,90.3 L403.5,91.1 L402.2,91.9 L400.9,92.8 L399.6,93.7 L398.3,94.6 L397.1,95.6 L395.9,96.5 L394.7,97.5 L393.5,98.5 L392.4,99.5 L391.3,100.6 L390.2,101.6 L389.1,102.6 L388.0,103.7 L386.9,104.7 L385.9,105.8 L384.8,106.8 L383.8,107.9 L382.8,109.0 L381.7,110.0 L380.7,111.1 L379.7,112.2 L378.6,113.3 L377.6,114.5 L376.6,115.6 L375.7,116.8 L374.7,118.0 L373.7,119.2 L372.8,120.4 L371.9,121.7 L371.0,123.0 L370.1,124.3 L369.3,125.6 L368.5,127.0 L367.8,128.4 L367.0,129.8 L366.4,131.3 L365.7,132.8 L365.1,134.3 L364.6,135.8 L364.1,137.4 L363.7,138.9 L363.3,140.5 L363.0,142.1 L362.8,143.7 L362.6,145.4 L362.5,147.0 L362.5,148.6 L362.5,150.3 L362.6,151.9 L362.8,153.5 L363.1,155.2 L363.4,156.8 L363.7,158.4 L364.1,159.9 L364.6,161.5 L365.2,163.0 L365.7,164.6 L366.4,166.1 L367.0,167.5 L367.8,169.0 L368.5,170.4 L369.3,171.8 L370.1,173.2 L371.0,174.5 L371.9,175.9 L372.8,177.2 L373.7,178.4 L374.7,179.7 L375.6,180.9 L376.6,182.1 L377.7,183.3 L378.7,184.5 L379.7,185.7 L380.8,186.8 L381.8,187.9 L382.9,189.1 L384.0,190.2 L385.1,191.3 L386.2,192.4 L387.4,193.5 L388.5,194.5 L389.7,195.6 L390.9,196.7 L392.1,197.7 L393.3,198.7 L394.6,199.7 L395.8,200.7 L397.2,201.7 L398.5,202.6 L399.8,203.5 L401.2,204.4 L402.6,205.3 L404.1,206.1 L405.5,206.9 L407.0,207.6 L408.6,208.3 L410.1,209.0 L411.7,209.6 L413.3,210.2 L414.9,210.8 L416.5,211.3 L418.2,211.7 L419.9,212.1 L421.6,212.4 L423.3,212.7 L425.0,212.9 L426.7,213.0 L428.5,213.1 L430.2,213.2 L431.9,213.1 L433.7,213.0 L435.4,212.9 L437.2,212.6 L438.9,212.4 L440.6,212.0 L442.3,211.6 L444.0,211.2 L445.7,210.7 L447.4,210.1 L449.0,209.5 L450.6,208.8 L452.2,208.1 L453.8,207.4 L455.3,206.6 L456.9,205.7 L458.4,204.8 L459.8,203.8 L461.3,202.9 L462.7,201.8 L464.1,200.8 L465.4,199.7 L466.7,198.5 L468.0,197.3 L469.2,196.1 L470.4,194.9 L471.6,193.6 L472.7,192.3 L473.8,191.0 L474.9,189.6 L475.9,188.2 L476.9,186.8 L477.8,185.4 L478.7,183.9 L479.6,182.4 L480.4,180.9 L481.2,179.4 L481.9,177.9 L482.6,176.3 L483.2,174.8 L483.8,173.2 L484.3,171.6 L484.8,170.0 L485.3,168.3 L485.7,166.7 L486.0,165.1 L486.4,163.4 L486.6,161.8 L486.8,160.1 L487.0,158.5 L487.1,156.8 L487.2,155.2 L487.2,153.5 L487.2,151.9 L487.1,150.3 L487.0,148.6Z" fill="#4a9ad1" stroke="#0c2a55" stroke-width="0.7" stroke-opacity="0.9"/>
<path d="M470.3,147.0 L470.2,145.8 L470.1,144.6 L470.0,143.5 L469.8,142.3 L469.6,141.1 L469.4,140.0 L469.2,138.8 L469.0,137.7 L468.7,136.5 L468.4,135.4 L468.1,134.2 L467.8,133.1 L467.4,132.0 L467.0,130.9 L466.7,129.7 L466.2,128.6 L465.8,127.5 L465.3,126.4 L464.9,125.4 L464.4,124.3 L463.8,123.2 L463.3,122.1 L462.7,121.1 L462.1,120.0 L461.5,119.0 L460.9,118.0 L460.2,116.9 L459.5,115.9 L458.8,114.9 L458.1,113.9 L457.3,112.9 L456.6,111.9 L455.8,111.0 L454.9,110.0 L454.1,109.1 L453.2,108.2 L452.3,107.3 L451.4,106.4 L450.4,105.6 L449.4,104.7 L448.4,103.9 L447.3,103.1 L446.3,102.4 L445.2,101.7 L444.0,101.0 L442.9,100.4 L441.7,99.8 L440.5,99.2 L439.3,98.7 L438.1,98.2 L436.8,97.8 L435.5,97.4 L434.3,97.0 L433.0,96.8 L431.6,96.5 L430.3,96.3 L429.0,96.2 L427.7,96.2 L426.3,96.1 L425.0,96.2 L423.7,96.3 L422.4,96.5 L421.0,96.7 L419.7,97.0 L418.5,97.3 L417.2,97.7 L415.9,98.1 L414.7,98.6 L413.5,99.1 L412.3,99.7 L411.2,100.3 L410.0,100.9 L408.9,101.6 L407.8,102.2 L406.8,103.0 L405.7,103.7 L404.7,104.4 L403.7,105.2 L402.7,106.0 L401.8,106.8 L400.9,107.6 L400.0,108.5 L399.1,109.3 L398.2,110.1 L397.4,111.0 L396.5,111.8 L395.7,112.7 L394.9,113.5 L394.1,114.4 L393.3,115.3 L392.4,116.1 L391.6,117.0 L390.8,117.8 L390.1,118.7 L389.3,119.6 L388.5,120.5 L387.7,121.4 L386.9,122.3 L386.2,123.2 L385.4,124.2 L384.7,125.1 L384.0,126.1 L383.3,127.1 L382.6,128.1 L381.9,129.2 L381.3,130.2 L380.7,131.3 L380.1,132.4 L379.5,133.5 L379.0,134.7 L378.5,135.8 L378.0,137.0 L377.6,138.2 L377.2,139.4 L376.9,140.7 L376.6,141.9 L376.4,143.2 L376.2,144.4 L376.1,145.7 L376.0,147.0 L376.0,148.3 L376.0,149.6 L376.1,150.8 L376.3,152.1 L376.4,153.4 L376.7,154.7 L377.0,155.9 L377.3,157.1 L377.7,158.4 L378.1,159.6 L378.6,160.8 L379.0,161.9 L379.6,163.1 L380.1,164.2 L380.7,165.3 L381.3,166.4 L382.0,167.5 L382.6,168.6 L383.3,169.6 L384.0,170.7 L384.8,171.7 L385.5,172.7 L386.3,173.6 L387.0,174.6 L387.8,175.5 L388.6,176.5 L389.4,177.4 L390.2,178.3 L391.1,179.2 L391.9,180.1 L392.8,181.0 L393.6,181.9 L394.5,182.7 L395.3,183.6 L396.2,184.5 L397.1,185.3 L398.1,186.2 L399.0,187.0 L400.0,187.8 L401.0,188.6 L402.0,189.4 L403.0,190.2 L404.0,191.0 L405.1,191.7 L406.2,192.4 L407.3,193.1 L408.4,193.8 L409.6,194.4 L410.8,195.0 L412.0,195.6 L413.2,196.1 L414.5,196.6 L415.7,197.1 L417.0,197.5 L418.3,197.9 L419.6,198.2 L420.9,198.5 L422.3,198.8 L423.6,199.0 L425.0,199.1 L426.4,199.2 L427.7,199.2 L429.1,199.2 L430.5,199.1 L431.8,199.0 L433.2,198.9 L434.6,198.6 L435.9,198.4 L437.3,198.0 L438.6,197.7 L439.9,197.3 L441.2,196.8 L442.5,196.3 L443.7,195.8 L445.0,195.2 L446.2,194.6 L447.4,193.9 L448.5,193.2 L449.7,192.5 L450.8,191.7 L451.9,190.9 L453.0,190.0 L454.0,189.2 L455.0,188.3 L456.0,187.3 L456.9,186.4 L457.8,185.4 L458.7,184.4 L459.5,183.4 L460.4,182.4 L461.1,181.3 L461.9,180.2 L462.6,179.1 L463.3,178.0 L463.9,176.9 L464.6,175.7 L465.1,174.6 L465.7,173.4 L466.2,172.3 L466.7,171.1 L467.2,169.9 L467.6,168.7 L468.0,167.5 L468.3,166.3 L468.7,165.1 L469.0,163.9 L469.3,162.7 L469.5,161.5 L469.7,160.2 L469.9,159.0 L470.0,157.8 L470.2,156.6 L470.3,155.4 L470.4,154.2 L470.4,153.0 L470.4,151.8 L470.4,150.6 L470.4,149.4 L470.4,148.2Z" fill="#3587c3" stroke="#0c2a55" stroke-width="0.7" stroke-opacity="0.9"/>
<path d="M458.3,147.0 L458.2,146.1 L458.2,145.3 L458.0,144.4 L457.9,143.5 L457.7,142.7 L457.5,141.8 L457.3,141.0 L457.1,140.2 L456.8,139.4 L456.6,138.5 L456.3,137.7 L455.9,136.9 L455.6,136.2 L455.3,135.4 L454.9,134.6 L454.5,133.9 L454.1,133.1 L453.7,132.4 L453.3,131.7 L452.8,130.9 L452.4,130.2 L451.9,129.5 L451.5,128.8 L451.0,128.1 L450.5,127.4 L450.0,126.8 L449.5,126.1 L449.0,125.4 L448.4,124.8 L447.9,124.1 L447.4,123.4 L446.8,122.8 L446.3,122.1 L445.7,121.5 L445.1,120.8 L444.5,120.2 L443.9,119.5 L443.2,118.9 L442.6,118.3 L441.9,117.7 L441.2,117.1 L440.5,116.5 L439.8,116.0 L439.1,115.4 L438.3,114.9 L437.5,114.4 L436.7,113.9 L435.9,113.5 L435.1,113.1 L434.2,112.7 L433.3,112.3 L432.4,112.0 L431.5,111.7 L430.6,111.4 L429.7,111.2 L428.8,111.0 L427.8,110.9 L426.9,110.8 L426.0,110.7 L425.0,110.7 L424.1,110.7 L423.1,110.8 L422.2,110.9 L421.2,111.1 L420.3,111.3 L419.4,111.6 L418.5,111.9 L417.6,112.2 L416.7,112.5 L415.9,112.9 L415.0,113.3 L414.2,113.8 L413.4,114.2 L412.6,114.7 L411.8,115.2 L411.1,115.8 L410.4,116.3 L409.7,116.9 L409.0,117.5 L408.3,118.0 L407.6,118.6 L407.0,119.3 L406.4,119.9 L405.7,120.5 L405.1,121.1 L404.6,121.8 L404.0,122.4 L403.4,123.0 L402.9,123.7 L402.3,124.3 L401.8,124.9 L401.2,125.6 L400.7,126.2 L400.1,126.9 L399.6,127.5 L399.1,128.2 L398.6,128.8 L398.1,129.5 L397.6,130.2 L397.1,130.9 L396.6,131.6 L396.1,132.3 L395.7,133.0 L395.2,133.7 L394.8,134.5 L394.4,135.2 L394.0,136.0 L393.6,136.8 L393.2,137.6 L392.9,138.4 L392.6,139.2 L392.3,140.0 L392.0,140.9 L391.8,141.7 L391.6,142.6 L391.4,143.5 L391.3,144.3 L391.1,145.2 L391.1,146.1 L391.0,147.0 L391.0,147.9 L391.0,148.8 L391.1,149.7 L391.1,150.6 L391.3,151.4 L391.4,152.3 L391.6,153.2 L391.8,154.1 L392.0,154.9 L392.3,155.8 L392.6,156.6 L392.9,157.4 L393.3,158.2 L393.6,159.0 L394.0,159.8 L394.4,160.6 L394.8,161.4 L395.2,162.2 L395.7,162.9 L396.2,163.6 L396.7,164.4 L397.2,165.1 L397.7,165.8 L398.2,166.5 L398.7,167.2 L399.3,167.8 L399.8,168.5 L400.4,169.2 L400.9,169.8 L401.5,170.5 L402.1,171.1 L402.7,171.8 L403.3,172.4 L403.9,173.0 L404.6,173.6 L405.2,174.2 L405.9,174.8 L406.5,175.4 L407.2,176.0 L407.9,176.6 L408.7,177.1 L409.4,177.6 L410.1,178.2 L410.9,178.7 L411.7,179.2 L412.5,179.6 L413.3,180.1 L414.1,180.5 L415.0,180.9 L415.8,181.3 L416.7,181.6 L417.6,181.9 L418.5,182.2 L419.4,182.5 L420.3,182.7 L421.2,182.9 L422.2,183.0 L423.1,183.2 L424.1,183.3 L425.0,183.3 L426.0,183.3 L426.9,183.3 L427.8,183.2 L428.8,183.1 L429.7,183.0 L430.7,182.8 L431.6,182.6 L432.5,182.3 L433.4,182.1 L434.3,181.8 L435.2,181.4 L436.1,181.1 L436.9,180.7 L437.8,180.3 L438.6,179.8 L439.4,179.3 L440.2,178.9 L441.0,178.4 L441.7,177.8 L442.5,177.3 L443.2,176.7 L443.9,176.1 L444.6,175.5 L445.3,174.9 L446.0,174.3 L446.6,173.7 L447.2,173.0 L447.9,172.4 L448.5,171.7 L449.0,171.0 L449.6,170.4 L450.2,169.7 L450.7,169.0 L451.2,168.3 L451.8,167.5 L452.3,166.8 L452.7,166.1 L453.2,165.3 L453.7,164.6 L454.1,163.8 L454.5,163.0 L454.9,162.2 L455.3,161.5 L455.7,160.7 L456.0,159.8 L456.3,159.0 L456.6,158.2 L456.9,157.4 L457.2,156.5 L457.4,155.7 L457.6,154.8 L457.8,154.0 L457.9,153.1 L458.1,152.2 L458.2,151.4 L458.3,150.5 L458.3,149.6 L458.3,148.7 L458.3,147.9Z" fill="#1b72b8" stroke="#0c2a55" stroke-width="0.7" stroke-opacity="0.9"/>
<path d="M444.3,147.0 L444.3,146.5 L444.3,146.0 L444.3,145.5 L444.2,145.0 L444.1,144.5 L444.1,144.0 L444.0,143.5 L443.9,143.0 L443.8,142.5 L443.6,142.0 L443.5,141.5 L443.3,141.1 L443.1,140.6 L442.9,140.1 L442.7,139.6 L442.5,139.2 L442.3,138.7 L442.1,138.3 L441.8,137.9 L441.6,137.4 L441.3,137.0 L441.0,136.6 L440.7,136.2 L440.4,135.8 L440.1,135.4 L439.8,135.0 L439.4,134.7 L439.1,134.3 L438.7,134.0 L438.4,133.6 L438.0,133.3 L437.6,133.0 L437.2,132.7 L436.8,132.4 L436.4,132.1 L436.0,131.8 L435.6,131.5 L435.2,131.3 L434.8,131.0 L434.3,130.8 L433.9,130.6 L433.5,130.4 L433.0,130.2 L432.6,130.0 L432.1,129.8 L431.7,129.6 L431.2,129.5 L430.7,129.3 L430.3,129.2 L429.8,129.1 L429.3,128.9 L428.9,128.8 L428.4,128.7 L427.9,128.7 L427.4,128.6 L426.9,128.5 L426.5,128.5 L426.0,128.4 L425.5,128.4 L425.0,128.4 L424.5,128.4 L424.0,128.4 L423.5,128.4 L423.0,128.4 L422.6,128.5 L422.1,128.5 L421.6,128.6 L421.1,128.7 L420.6,128.7 L420.1,128.8 L419.7,128.9 L419.2,129.1 L418.7,129.2 L418.2,129.3 L417.7,129.5 L417.3,129.7 L416.8,129.8 L416.4,130.0 L415.9,130.2 L415.4,130.4 L415.0,130.7 L414.6,130.9 L414.1,131.2 L413.7,131.4 L413.3,131.7 L412.9,132.0 L412.5,132.3 L412.1,132.6 L411.7,132.9 L411.3,133.3 L410.9,133.6 L410.5,134.0 L410.2,134.4 L409.9,134.7 L409.5,135.1 L409.2,135.5 L408.9,135.9 L408.6,136.3 L408.3,136.8 L408.0,137.2 L407.8,137.6 L407.5,138.1 L407.3,138.6 L407.1,139.0 L406.9,139.5 L406.7,140.0 L406.5,140.4 L406.3,140.9 L406.1,141.4 L406.0,141.9 L405.9,142.4 L405.7,142.9 L405.6,143.4 L405.6,143.9 L405.5,144.4 L405.4,144.9 L405.4,145.5 L405.3,146.0 L405.3,146.5 L405.3,147.0 L405.3,147.5 L405.3,148.0 L405.4,148.5 L405.4,149.1 L405.5,149.6 L405.5,150.1 L405.6,150.6 L405.7,151.1 L405.8,151.6 L406.0,152.1 L406.1,152.6 L406.3,153.1 L406.4,153.6 L406.6,154.1 L406.8,154.5 L407.0,155.0 L407.2,155.5 L407.5,155.9 L407.7,156.4 L407.9,156.8 L408.2,157.3 L408.5,157.7 L408.8,158.2 L409.1,158.6 L409.4,159.0 L409.7,159.4 L410.0,159.8 L410.4,160.2 L410.7,160.6 L411.1,160.9 L411.4,161.3 L411.8,161.6 L412.2,162.0 L412.6,162.3 L413.0,162.6 L413.4,163.0 L413.8,163.3 L414.3,163.5 L414.7,163.8 L415.1,164.1 L415.6,164.3 L416.0,164.6 L416.5,164.8 L417.0,165.0 L417.4,165.2 L417.9,165.4 L418.4,165.6 L418.9,165.8 L419.4,165.9 L419.9,166.0 L420.4,166.2 L420.9,166.3 L421.4,166.4 L421.9,166.4 L422.4,166.5 L422.9,166.6 L423.5,166.6 L424.0,166.6 L424.5,166.6 L425.0,166.6 L425.5,166.6 L426.0,166.5 L426.5,166.5 L427.0,166.4 L427.5,166.3 L428.0,166.2 L428.5,166.1 L429.0,166.0 L429.5,165.8 L430.0,165.7 L430.5,165.5 L431.0,165.3 L431.4,165.1 L431.9,164.9 L432.3,164.7 L432.8,164.5 L433.2,164.3 L433.7,164.0 L434.1,163.8 L434.5,163.5 L434.9,163.2 L435.4,162.9 L435.8,162.6 L436.2,162.3 L436.5,162.0 L436.9,161.7 L437.3,161.4 L437.7,161.1 L438.0,160.7 L438.4,160.4 L438.7,160.0 L439.0,159.6 L439.4,159.3 L439.7,158.9 L440.0,158.5 L440.3,158.1 L440.6,157.7 L440.9,157.3 L441.2,156.9 L441.4,156.5 L441.7,156.1 L441.9,155.6 L442.2,155.2 L442.4,154.7 L442.6,154.3 L442.8,153.8 L443.0,153.4 L443.2,152.9 L443.3,152.4 L443.5,152.0 L443.6,151.5 L443.8,151.0 L443.9,150.5 L444.0,150.0 L444.1,149.5 L444.2,149.0 L444.2,148.5 L444.3,148.0 L444.3,147.5Z" fill="#0659a8" stroke="#0c2a55" stroke-width="0.7" stroke-opacity="0.9"/>
<path d="M509.6,147.0 L509.4,144.8 L509.0,142.6 L508.8,140.4 L508.2,138.3 L507.6,136.1 L507.0,134.0 L506.5,131.9 L506.2,129.7 L505.3,127.7 L505.1,125.5 L504.3,123.5 L503.3,121.6 L502.5,119.6 L501.6,117.6 L500.7,115.6 L499.7,113.7 L498.7,111.8 L497.6,110.0 L496.1,108.4 L495.1,106.5 L493.9,104.8 L492.6,103.1 L491.5,101.3 L490.3,99.6 L489.0,97.9 L487.3,96.6 L486.1,94.8 L484.6,93.3 L483.1,91.8 L481.5,90.5 L480.2,88.8 L478.4,87.7 L476.7,86.4 L475.1,85.1 L473.7,83.5 L472.0,82.3 L470.1,81.4 L468.1,80.6 L466.5,79.3 L464.8,78.0 L463.3,76.5 L461.2,76.0 L459.2,75.2 L457.3,74.5 L455.5,73.4 L453.7,72.2 L451.7,71.5 L449.8,70.7 L447.8,70.1 L445.9,69.1 L443.8,68.6 L441.8,67.9 L439.7,67.7 L437.6,67.5 L435.5,67.3 L433.4,67.3 L431.3,67.4 L429.2,67.1 L427.1,66.9 L425.0,66.6 L422.9,66.7 L420.8,66.8 L418.7,67.2 L416.6,67.1 L414.5,67.6 L412.5,67.9 L410.5,68.8 L408.5,69.3 L406.3,69.1 L404.3,69.7 L402.2,70.1 L400.4,71.3 L398.6,72.4 L396.7,73.2 L394.7,73.9 L392.8,74.6 L390.8,75.2 L388.9,76.1 L387.0,77.0 L385.2,78.0 L383.3,79.0 L381.5,80.0 L380.0,81.6 L378.7,83.3 L377.2,84.7 L375.5,85.9 L373.8,87.0 L372.3,88.5 L370.7,89.8 L369.2,91.2 L367.6,92.5 L366.4,94.2 L365.1,95.8 L364.2,97.8 L363.2,99.6 L362.3,101.5 L361.2,103.2 L360.1,104.8 L358.3,106.1 L357.4,108.0 L356.4,109.7 L355.5,111.6 L354.7,113.5 L353.7,115.2 L353.0,117.2 L352.1,119.0 L351.0,120.8 L350.8,122.9 L349.7,124.7 L349.3,126.7 L349.1,128.8 L348.4,130.7 L348.1,132.7 L348.1,134.8 L347.6,136.8 L347.4,138.8 L346.9,140.9 L346.9,142.9 L347.1,145.0 L347.0,147.0 L347.3,149.0 L346.8,151.1 L346.6,153.2 L346.9,155.2 L346.9,157.3 L346.9,159.4 L347.2,161.4 L347.6,163.4 L348.0,165.5 L348.4,167.5 L349.0,169.5 L349.6,171.5 L350.0,173.5 L350.9,175.4 L351.6,177.4 L352.6,179.2 L353.4,181.1 L354.5,182.9 L355.5,184.8 L356.3,186.7 L357.4,188.4 L358.2,190.4 L359.1,192.3 L360.3,194.0 L361.4,195.8 L362.8,197.3 L364.2,198.9 L365.5,200.6 L367.0,202.0 L368.2,203.8 L369.7,205.2 L371.4,206.5 L372.7,208.2 L374.5,209.4 L376.1,210.7 L377.9,211.8 L379.7,212.9 L381.3,214.3 L383.0,215.6 L384.5,217.2 L386.3,218.2 L388.1,219.4 L390.2,220.0 L391.9,221.5 L393.8,222.4 L395.8,223.2 L397.7,224.0 L399.7,225.0 L401.7,225.7 L403.7,226.6 L405.8,226.9 L407.8,227.8 L410.0,227.9 L412.1,228.3 L414.2,228.8 L416.4,229.3 L418.5,229.8 L420.6,230.1 L422.8,230.1 L425.0,230.2 L427.2,230.0 L429.3,229.9 L431.5,229.9 L433.7,229.9 L435.9,229.8 L438.1,229.6 L440.2,228.9 L442.3,228.4 L444.3,227.4 L446.4,226.9 L448.4,226.0 L450.5,225.5 L452.5,224.5 L454.6,224.1 L456.7,223.5 L458.8,222.9 L460.6,221.7 L462.6,220.8 L464.6,219.9 L466.6,219.0 L468.6,218.1 L470.5,217.1 L472.5,216.1 L474.3,214.9 L476.5,214.1 L478.4,212.9 L480.1,211.5 L481.7,210.0 L483.3,208.4 L485.0,207.0 L486.3,205.2 L487.9,203.7 L489.6,202.2 L491.3,200.7 L492.5,198.8 L494.0,197.1 L495.3,195.3 L496.8,193.6 L498.2,191.8 L499.7,190.1 L500.8,188.2 L501.8,186.1 L502.6,184.0 L503.4,181.9 L503.9,179.7 L504.7,177.6 L505.4,175.5 L506.2,173.4 L506.9,171.2 L507.4,169.1 L507.9,166.9 L508.4,164.7 L509.2,162.6 L509.3,160.4 L509.9,158.2 L509.8,155.9 L509.9,153.7 L509.6,151.4 L509.5,149.2Z" fill="none" stroke="#c9995f" stroke-width="1.3" stroke-opacity="0.75" stroke-linejoin="round"/>
<path d="M508.9,147.0 L508.6,144.8 L508.5,142.6 L507.9,140.5 L507.8,138.3 L507.2,136.2 L506.7,134.1 L506.3,131.9 L505.9,129.8 L505.5,127.7 L505.0,125.6 L504.2,123.5 L503.1,121.6 L502.3,119.6 L501.8,117.5 L501.3,115.4 L500.3,113.5 L499.0,111.7 L497.8,109.9 L496.6,108.1 L495.5,106.3 L494.4,104.5 L493.0,102.8 L491.7,101.1 L490.5,99.4 L489.1,97.8 L488.0,96.0 L486.4,94.5 L484.9,93.1 L483.3,91.7 L481.7,90.3 L480.1,89.0 L478.5,87.6 L477.1,86.1 L475.4,84.7 L473.7,83.5 L471.9,82.4 L470.2,81.2 L468.3,80.3 L466.5,79.2 L464.9,77.9 L463.0,77.0 L461.2,76.0 L459.3,75.2 L457.4,74.3 L455.4,73.7 L453.5,72.6 L451.6,71.8 L449.8,70.8 L447.7,70.3 L445.8,69.4 L443.8,68.6 L441.7,68.2 L439.7,67.7 L437.6,67.4 L435.5,67.1 L433.4,66.7 L431.3,66.4 L429.2,66.1 L427.1,66.0 L425.0,66.0 L422.9,66.0 L420.8,66.1 L418.6,66.3 L416.5,66.3 L414.4,66.6 L412.4,67.2 L410.3,67.7 L408.2,68.2 L406.2,68.9 L404.3,69.6 L402.2,70.1 L400.3,70.9 L398.3,71.5 L396.4,72.5 L394.5,73.3 L392.6,74.2 L390.8,75.3 L389.0,76.3 L387.3,77.5 L385.5,78.7 L383.6,79.5 L381.9,80.6 L380.0,81.6 L378.4,82.9 L376.7,84.0 L375.0,85.2 L373.4,86.6 L371.9,88.0 L370.6,89.7 L369.2,91.2 L367.9,92.8 L366.4,94.2 L365.3,96.0 L364.0,97.6 L362.8,99.3 L361.6,100.9 L360.6,102.8 L359.4,104.4 L358.5,106.3 L357.5,108.0 L356.5,109.8 L355.3,111.5 L354.7,113.4 L354.2,115.5 L353.8,117.5 L352.9,119.3 L351.8,121.1 L350.9,122.9 L350.3,124.9 L350.1,126.9 L349.5,128.9 L348.8,130.8 L348.2,132.8 L347.6,134.7 L347.1,136.7 L346.9,138.8 L346.7,140.8 L346.7,142.9 L346.5,144.9 L346.6,147.0 L346.6,149.1 L346.6,151.1 L346.7,153.2 L346.6,155.2 L346.9,157.3 L347.4,159.3 L348.0,161.3 L348.6,163.2 L349.2,165.2 L349.8,167.1 L350.4,169.1 L350.7,171.1 L351.3,173.1 L351.7,175.1 L352.4,177.1 L353.0,179.1 L353.5,181.1 L354.1,183.1 L354.8,185.1 L355.6,187.0 L356.8,188.8 L357.9,190.6 L359.0,192.4 L360.0,194.2 L361.3,195.9 L362.6,197.5 L364.1,199.0 L365.3,200.8 L366.5,202.5 L367.9,204.1 L369.3,205.6 L371.0,207.0 L372.5,208.4 L374.2,209.7 L375.9,211.0 L377.6,212.3 L379.4,213.4 L381.1,214.6 L382.7,216.0 L384.5,217.1 L386.4,218.1 L388.1,219.3 L389.8,220.7 L391.8,221.6 L393.7,222.4 L395.7,223.4 L397.6,224.3 L399.6,225.1 L401.6,225.9 L403.6,226.8 L405.7,227.5 L407.7,228.2 L409.8,229.2 L411.9,229.8 L414.1,230.2 L416.3,230.1 L418.4,230.5 L420.6,230.6 L422.8,230.8 L425.0,230.8 L427.2,230.7 L429.4,230.2 L431.5,229.9 L433.6,229.2 L435.8,228.9 L437.8,228.1 L439.9,227.4 L441.9,226.7 L444.0,226.1 L446.1,225.7 L448.2,225.4 L450.2,224.4 L452.1,223.6 L454.1,222.8 L456.2,222.4 L458.2,221.6 L460.1,220.6 L462.1,219.9 L464.1,219.0 L466.0,218.1 L468.0,217.2 L469.9,216.2 L472.1,215.6 L474.2,214.7 L476.2,213.8 L478.0,212.5 L479.7,211.1 L481.5,209.8 L483.1,208.2 L484.8,206.8 L486.7,205.5 L488.4,204.0 L489.7,202.3 L491.3,200.7 L492.9,199.1 L494.4,197.4 L495.7,195.6 L496.8,193.6 L498.1,191.8 L499.3,189.9 L500.4,187.9 L501.5,186.0 L502.2,183.8 L503.1,181.8 L503.9,179.7 L504.7,177.6 L505.3,175.4 L505.8,173.3 L506.5,171.2 L507.2,169.0 L507.9,166.9 L508.6,164.8 L508.8,162.5 L509.0,160.3 L509.0,158.1 L509.2,155.9 L509.2,153.6 L508.8,151.4 L508.8,149.2Z" fill="none" stroke="#4a2e18" stroke-width="0.85" stroke-opacity="0.85" stroke-linejoin="round"/>
<path d="M508.9,147.0 L508.3,144.8 L508.2,142.6 L508.1,140.5 L507.8,138.3 L507.6,136.1 L507.1,134.0 L506.5,131.9 L505.8,129.8 L505.1,127.8 L504.5,125.7 L504.1,123.6 L503.4,121.5 L502.6,119.5 L501.4,117.7 L500.4,115.8 L499.2,113.9 L498.2,112.1 L497.2,110.2 L496.5,108.2 L495.2,106.5 L494.0,104.7 L492.8,103.0 L491.7,101.2 L490.2,99.6 L489.1,97.8 L487.8,96.2 L486.3,94.6 L484.4,93.5 L483.2,91.8 L481.7,90.3 L480.4,88.6 L478.8,87.3 L477.1,86.0 L475.3,84.9 L473.6,83.7 L471.9,82.4 L470.3,81.2 L468.4,80.1 L466.6,79.1 L464.8,78.0 L463.0,77.1 L461.1,76.1 L459.4,74.9 L457.7,73.6 L455.8,72.7 L453.8,72.0 L451.9,71.1 L449.9,70.3 L447.9,69.7 L445.8,69.2 L443.8,68.7 L441.8,68.2 L439.6,68.0 L437.5,67.9 L435.5,67.5 L433.4,67.4 L431.3,67.2 L429.2,67.1 L427.1,67.1 L425.0,67.0 L422.9,67.2 L420.8,67.2 L418.7,67.4 L416.7,67.6 L414.6,67.7 L412.5,68.1 L410.4,68.4 L408.3,68.6 L406.3,68.9 L404.2,69.4 L402.2,70.2 L400.2,70.8 L398.3,71.6 L396.5,72.7 L394.6,73.5 L392.6,74.3 L390.9,75.4 L389.0,76.4 L387.2,77.4 L385.3,78.3 L383.6,79.4 L382.0,80.8 L380.3,82.0 L378.6,83.2 L377.0,84.4 L375.3,85.6 L373.8,87.0 L372.1,88.2 L370.6,89.6 L369.1,91.1 L367.8,92.8 L366.5,94.3 L365.3,96.0 L364.0,97.6 L363.1,99.5 L361.7,101.0 L360.7,102.8 L359.6,104.5 L358.8,106.4 L357.7,108.1 L356.6,109.9 L355.4,111.6 L354.5,113.4 L353.4,115.1 L352.6,117.0 L351.8,118.9 L351.2,120.9 L350.9,122.9 L350.2,124.9 L349.5,126.8 L349.0,128.8 L348.9,130.8 L348.6,132.8 L348.3,134.9 L347.9,136.8 L347.7,138.9 L347.5,140.9 L347.4,142.9 L347.3,145.0 L347.4,147.0 L347.2,149.0 L347.2,151.1 L347.4,153.1 L347.6,155.1 L347.8,157.2 L347.9,159.2 L348.4,161.2 L348.7,163.2 L349.2,165.2 L349.6,167.2 L350.3,169.1 L350.6,171.2 L351.2,173.1 L351.8,175.1 L352.6,177.0 L353.1,179.0 L353.8,181.0 L354.6,182.9 L355.3,184.8 L356.2,186.7 L357.0,188.7 L357.9,190.5 L358.9,192.4 L360.0,194.3 L361.2,196.0 L362.2,197.9 L363.5,199.5 L364.8,201.2 L366.3,202.7 L367.6,204.4 L369.2,205.8 L370.8,207.2 L372.5,208.4 L374.1,209.8 L375.7,211.2 L377.3,212.7 L379.0,213.9 L380.9,214.9 L382.7,216.0 L384.6,217.0 L386.3,218.2 L388.3,219.1 L390.2,220.0 L392.1,220.9 L393.9,222.0 L395.8,222.9 L397.8,223.9 L399.7,224.8 L401.7,225.8 L403.8,226.2 L405.8,226.8 L407.9,227.4 L410.0,228.0 L412.1,228.4 L414.2,229.1 L416.3,229.6 L418.5,229.7 L420.7,229.8 L422.8,230.1 L425.0,230.1 L427.2,230.1 L429.4,230.1 L431.5,230.0 L433.7,229.8 L435.8,229.3 L438.0,229.0 L440.1,228.4 L442.1,227.5 L444.2,227.0 L446.3,226.3 L448.3,225.5 L450.3,224.9 L452.3,224.0 L454.3,223.4 L456.4,222.7 L458.4,222.1 L460.4,221.2 L462.4,220.4 L464.4,219.5 L466.4,218.8 L468.4,217.8 L470.2,216.6 L472.1,215.5 L473.9,214.4 L475.9,213.3 L477.7,212.1 L479.4,210.7 L481.2,209.4 L482.8,207.9 L484.5,206.5 L486.0,204.9 L487.6,203.4 L489.1,201.8 L490.6,200.1 L492.0,198.4 L493.4,196.7 L494.8,195.0 L496.5,193.5 L497.7,191.6 L499.0,189.7 L500.0,187.7 L501.2,185.8 L502.3,183.9 L503.5,181.9 L504.3,179.8 L505.3,177.8 L505.8,175.6 L506.5,173.5 L507.0,171.3 L507.4,169.1 L507.9,166.9 L508.3,164.7 L508.8,162.5 L509.3,160.4 L509.2,158.1 L509.2,155.9 L509.1,153.6 L509.4,151.4 L509.2,149.2Z" fill="none" stroke="#0c0806" stroke-width="0.6" stroke-opacity="0.9" stroke-linejoin="round"/>
</g>
<g>
<path d="M277.9,386.0 L278.5,383.8 L278.7,381.6 L279.4,379.4 L279.7,377.1 L279.6,374.9 L279.6,372.6 L279.1,370.4 L279.2,368.1 L278.7,365.9 L278.1,363.7 L277.0,361.7 L275.8,359.7 L274.6,357.8 L273.6,355.8 L272.4,353.9 L271.2,352.1 L269.7,350.4 L268.2,348.7 L266.8,347.0 L265.5,345.3 L264.1,343.6 L262.8,342.0 L261.2,340.5 L259.7,339.0 L258.5,337.3 L257.1,335.7 L255.6,334.2 L254.1,332.8 L252.6,331.3 L251.1,329.9 L249.5,328.6 L248.0,327.1 L246.6,325.6 L245.0,324.3 L243.2,323.2 L241.7,321.7 L240.0,320.5 L238.3,319.3 L236.7,318.0 L235.1,316.5 L233.4,315.3 L231.6,314.2 L229.8,313.0 L228.0,311.9 L226.2,310.6 L224.3,309.7 L222.4,308.7 L220.4,307.8 L218.3,307.3 L216.3,306.6 L214.1,306.3 L212.0,305.9 L209.9,305.5 L207.7,305.7 L205.6,305.7 L203.4,305.9 L201.3,306.3 L199.2,306.5 L197.1,306.9 L195.0,307.3 L193.0,308.0 L190.9,308.2 L188.9,308.5 L186.9,308.8 L184.9,309.2 L182.8,309.1 L180.8,309.6 L178.9,310.3 L177.0,310.9 L175.0,311.3 L173.0,311.6 L171.1,312.3 L169.1,312.8 L167.2,313.7 L165.3,314.2 L163.4,315.0 L161.5,315.7 L159.7,316.8 L157.9,317.7 L156.1,318.7 L154.3,319.6 L152.7,320.8 L150.9,321.9 L149.3,323.1 L147.6,324.3 L146.0,325.5 L144.3,326.6 L142.6,327.8 L141.0,329.1 L139.6,330.6 L137.9,331.8 L136.5,333.3 L135.4,335.1 L134.3,336.9 L133.2,338.6 L131.8,340.1 L130.6,341.7 L129.6,343.5 L128.6,345.3 L127.8,347.2 L126.8,348.9 L125.4,350.6 L124.7,352.5 L123.8,354.3 L123.2,356.2 L122.2,358.1 L121.5,360.0 L120.8,361.9 L120.0,363.8 L119.2,365.7 L119.1,367.8 L118.8,369.8 L118.4,371.8 L117.8,373.8 L117.6,375.8 L117.1,377.8 L116.7,379.8 L116.4,381.9 L116.3,383.9 L116.0,386.0 L115.2,388.1 L114.3,390.2 L113.5,392.4 L113.1,394.6 L113.1,396.8 L113.4,398.9 L113.3,401.1 L113.7,403.3 L113.8,405.5 L114.4,407.6 L115.0,409.7 L115.8,411.7 L116.1,413.9 L116.7,416.1 L117.5,418.1 L118.6,420.0 L119.5,422.0 L120.5,424.0 L121.7,425.8 L122.8,427.7 L123.7,429.7 L125.0,431.5 L126.4,433.2 L128.0,434.7 L129.7,436.1 L131.1,437.8 L132.5,439.4 L134.0,441.0 L135.6,442.4 L137.3,443.7 L138.9,445.1 L140.7,446.3 L142.3,447.8 L143.8,449.3 L145.4,450.6 L147.2,451.8 L149.0,453.0 L150.6,454.4 L152.3,455.7 L154.0,457.0 L155.7,458.3 L157.6,459.5 L159.4,460.7 L161.2,462.0 L163.1,462.9 L165.1,463.9 L167.2,464.5 L169.2,465.3 L171.3,466.1 L173.4,466.7 L175.4,467.4 L177.6,467.7 L179.8,468.3 L181.9,468.6 L184.1,468.8 L186.3,468.9 L188.5,469.0 L190.7,469.0 L192.8,468.7 L195.0,468.4 L197.1,468.0 L199.3,467.5 L201.4,466.7 L203.4,466.2 L205.5,465.6 L207.5,465.0 L209.5,464.1 L211.5,463.6 L213.4,462.8 L215.3,461.9 L217.2,460.8 L219.0,460.0 L220.9,459.0 L222.6,458.0 L224.5,457.1 L226.3,456.3 L228.2,455.5 L229.9,454.4 L231.6,453.4 L233.4,452.5 L235.1,451.4 L236.6,450.0 L238.2,448.8 L239.8,447.7 L241.4,446.4 L243.0,445.3 L244.6,444.1 L246.3,442.9 L247.6,441.5 L249.0,440.0 L250.5,438.6 L251.9,437.2 L253.3,435.8 L254.6,434.3 L255.9,432.7 L257.1,431.2 L258.3,429.5 L259.6,428.0 L260.8,426.3 L261.9,424.6 L262.9,422.8 L264.1,421.2 L265.4,419.6 L266.6,417.9 L267.4,416.0 L268.3,414.2 L269.1,412.3 L270.0,410.4 L270.9,408.5 L271.7,406.5 L272.5,404.6 L273.0,402.6 L273.7,400.6 L274.3,398.6 L275.0,396.5 L275.8,394.5 L276.3,392.4 L276.9,390.3 L277.6,388.2Z" fill="#86c9f5" stroke="none"/>
<path d="M277.6,386.0 L278.1,383.8 L278.5,381.6 L278.8,379.4 L279.0,377.2 L279.0,374.9 L278.9,372.7 L278.6,370.5 L278.1,368.3 L277.5,366.2 L276.8,364.1 L275.9,362.0 L274.9,360.0 L273.8,358.1 L272.7,356.2 L271.4,354.3 L270.1,352.6 L268.7,350.8 L267.3,349.1 L265.9,347.5 L264.5,345.9 L263.1,344.3 L261.7,342.7 L260.2,341.2 L258.8,339.6 L257.4,338.1 L256.0,336.6 L254.5,335.2 L253.1,333.7 L251.6,332.3 L250.2,330.8 L248.7,329.4 L247.2,328.0 L245.7,326.7 L244.2,325.3 L242.6,323.9 L241.1,322.5 L239.5,321.2 L237.9,319.9 L236.3,318.6 L234.7,317.3 L233.0,316.0 L231.3,314.8 L229.5,313.6 L227.7,312.4 L225.9,311.4 L224.0,310.4 L222.1,309.5 L220.1,308.6 L218.1,307.9 L216.1,307.3 L214.0,306.9 L211.9,306.5 L209.8,306.3 L207.6,306.2 L205.5,306.2 L203.4,306.3 L201.3,306.5 L199.2,306.8 L197.1,307.1 L195.0,307.4 L193.0,307.8 L190.9,308.1 L188.9,308.5 L186.9,308.8 L184.9,309.2 L182.9,309.6 L180.9,310.1 L179.0,310.6 L177.0,311.2 L175.1,311.7 L173.2,312.3 L171.3,312.9 L169.3,313.5 L167.4,314.1 L165.5,314.8 L163.6,315.5 L161.8,316.3 L159.9,317.2 L158.1,318.1 L156.3,319.1 L154.6,320.1 L152.9,321.1 L151.2,322.2 L149.5,323.4 L147.9,324.6 L146.3,325.8 L144.7,327.1 L143.1,328.4 L141.6,329.7 L140.1,331.1 L138.7,332.6 L137.3,334.0 L135.9,335.6 L134.7,337.1 L133.4,338.8 L132.3,340.4 L131.2,342.1 L130.2,343.9 L129.2,345.7 L128.2,347.4 L127.3,349.2 L126.3,351.0 L125.5,352.8 L124.7,354.7 L123.9,356.6 L123.2,358.4 L122.6,360.3 L121.9,362.3 L121.4,364.2 L120.8,366.1 L120.3,368.1 L119.8,370.0 L119.3,372.0 L118.8,373.9 L118.5,375.9 L118.1,377.9 L117.8,379.9 L117.5,381.9 L117.1,384.0 L116.5,386.0 L115.8,388.1 L115.1,390.2 L114.5,392.3 L114.1,394.5 L114.0,396.7 L114.0,398.8 L114.2,401.0 L114.5,403.1 L114.9,405.2 L115.3,407.4 L115.9,409.4 L116.5,411.5 L117.1,413.6 L117.9,415.6 L118.6,417.6 L119.5,419.6 L120.4,421.6 L121.4,423.5 L122.5,425.4 L123.6,427.2 L124.8,429.0 L126.1,430.7 L127.4,432.4 L128.8,434.1 L130.3,435.7 L131.8,437.2 L133.3,438.7 L134.9,440.1 L136.4,441.6 L138.0,443.0 L139.6,444.4 L141.1,445.8 L142.7,447.2 L144.4,448.5 L146.0,449.9 L147.7,451.2 L149.3,452.5 L151.0,453.7 L152.7,455.0 L154.5,456.2 L156.3,457.4 L158.1,458.5 L159.9,459.6 L161.8,460.7 L163.7,461.6 L165.6,462.5 L167.6,463.3 L169.6,464.0 L171.7,464.7 L173.7,465.3 L175.8,465.9 L177.9,466.5 L180.0,467.0 L182.1,467.4 L184.2,467.7 L186.4,467.9 L188.6,467.9 L190.7,467.8 L192.9,467.5 L195.0,467.2 L197.1,466.8 L199.2,466.3 L201.3,465.8 L203.3,465.3 L205.4,464.7 L207.4,464.0 L209.3,463.4 L211.3,462.7 L213.2,462.0 L215.2,461.2 L217.0,460.4 L218.9,459.6 L220.7,458.7 L222.6,457.8 L224.4,456.9 L226.1,455.9 L227.9,454.9 L229.6,453.9 L231.3,452.9 L233.0,451.9 L234.7,450.8 L236.4,449.7 L238.0,448.5 L239.6,447.3 L241.1,446.1 L242.6,444.8 L244.1,443.5 L245.6,442.2 L247.0,440.8 L248.4,439.4 L249.8,438.0 L251.1,436.5 L252.4,435.1 L253.7,433.6 L255.0,432.0 L256.2,430.5 L257.4,428.9 L258.6,427.3 L259.8,425.7 L261.0,424.1 L262.1,422.4 L263.2,420.7 L264.2,419.0 L265.3,417.3 L266.3,415.5 L267.3,413.7 L268.2,411.9 L269.1,410.1 L270.0,408.2 L270.9,406.3 L271.7,404.4 L272.5,402.5 L273.3,400.5 L274.0,398.5 L274.8,396.5 L275.4,394.5 L276.0,392.4 L276.6,390.3 L277.1,388.2Z" fill="#78c1f3" stroke="none"/>
<path d="M277.0,386.0 L277.5,383.8 L277.9,381.7 L278.2,379.5 L278.3,377.2 L278.4,375.0 L278.2,372.8 L277.9,370.6 L277.5,368.5 L276.8,366.3 L276.1,364.3 L275.2,362.2 L274.2,360.3 L273.1,358.3 L271.9,356.5 L270.6,354.7 L269.3,352.9 L267.9,351.2 L266.5,349.6 L265.1,347.9 L263.7,346.4 L262.3,344.8 L260.8,343.2 L259.4,341.7 L258.0,340.2 L256.6,338.7 L255.2,337.2 L253.8,335.8 L252.4,334.3 L251.0,332.9 L249.5,331.5 L248.1,330.1 L246.6,328.7 L245.1,327.3 L243.7,325.9 L242.2,324.5 L240.7,323.2 L239.1,321.8 L237.6,320.5 L236.0,319.2 L234.3,317.9 L232.7,316.6 L231.0,315.3 L229.3,314.2 L227.5,313.0 L225.7,311.9 L223.8,310.9 L221.9,310.0 L220.0,309.2 L218.0,308.5 L215.9,307.9 L213.9,307.4 L211.8,307.0 L209.7,306.8 L207.6,306.7 L205.4,306.7 L203.3,306.8 L201.2,307.0 L199.1,307.3 L197.1,307.6 L195.0,307.9 L193.0,308.3 L190.9,308.6 L188.9,309.0 L186.9,309.4 L185.0,309.7 L183.0,310.2 L181.0,310.6 L179.1,311.1 L177.2,311.7 L175.2,312.3 L173.3,312.9 L171.4,313.5 L169.5,314.1 L167.6,314.7 L165.7,315.3 L163.9,316.1 L162.0,316.9 L160.2,317.8 L158.4,318.7 L156.7,319.6 L154.9,320.6 L153.2,321.7 L151.6,322.8 L149.9,323.9 L148.3,325.1 L146.7,326.4 L145.1,327.6 L143.6,328.9 L142.1,330.3 L140.6,331.6 L139.2,333.1 L137.8,334.5 L136.5,336.0 L135.2,337.6 L134.0,339.2 L132.9,340.9 L131.8,342.6 L130.8,344.3 L129.8,346.1 L128.9,347.8 L127.9,349.6 L127.0,351.4 L126.2,353.2 L125.4,355.0 L124.7,356.9 L124.0,358.7 L123.4,360.6 L122.8,362.5 L122.2,364.4 L121.6,366.3 L121.1,368.3 L120.6,370.2 L120.1,372.1 L119.7,374.1 L119.3,376.0 L119.0,378.0 L118.6,380.0 L118.3,382.0 L117.9,384.0 L117.4,386.0 L116.7,388.1 L116.1,390.1 L115.5,392.3 L115.1,394.4 L114.9,396.5 L115.0,398.7 L115.2,400.8 L115.4,402.9 L115.8,405.0 L116.2,407.1 L116.7,409.2 L117.3,411.2 L118.0,413.3 L118.7,415.3 L119.5,417.3 L120.3,419.3 L121.2,421.2 L122.2,423.1 L123.3,424.9 L124.4,426.8 L125.6,428.5 L126.8,430.3 L128.2,431.9 L129.5,433.6 L131.0,435.1 L132.5,436.6 L134.0,438.1 L135.5,439.5 L137.1,441.0 L138.6,442.4 L140.2,443.7 L141.8,445.1 L143.4,446.5 L145.0,447.8 L146.6,449.1 L148.2,450.4 L149.9,451.7 L151.5,452.9 L153.2,454.2 L154.9,455.4 L156.7,456.6 L158.5,457.7 L160.3,458.8 L162.1,459.8 L164.0,460.8 L165.9,461.7 L167.9,462.5 L169.9,463.2 L171.9,463.9 L174.0,464.5 L176.0,465.1 L178.1,465.7 L180.1,466.2 L182.2,466.6 L184.3,466.9 L186.5,467.1 L188.6,467.1 L190.8,467.0 L192.9,466.8 L195.0,466.5 L197.1,466.1 L199.2,465.6 L201.2,465.2 L203.3,464.6 L205.3,464.0 L207.3,463.4 L209.2,462.8 L211.2,462.1 L213.1,461.3 L215.0,460.6 L216.9,459.8 L218.7,458.9 L220.5,458.1 L222.3,457.2 L224.1,456.2 L225.8,455.3 L227.6,454.3 L229.3,453.3 L231.0,452.2 L232.6,451.2 L234.3,450.1 L235.9,449.0 L237.5,447.8 L239.1,446.7 L240.6,445.4 L242.1,444.2 L243.6,442.8 L245.0,441.5 L246.4,440.1 L247.8,438.8 L249.1,437.3 L250.4,435.9 L251.7,434.4 L253.0,432.9 L254.2,431.4 L255.4,429.9 L256.6,428.4 L257.8,426.8 L259.0,425.2 L260.1,423.6 L261.2,421.9 L262.3,420.3 L263.3,418.6 L264.4,416.9 L265.4,415.2 L266.4,413.4 L267.4,411.6 L268.3,409.8 L269.2,408.0 L270.1,406.1 L271.0,404.2 L271.8,402.3 L272.6,400.4 L273.4,398.4 L274.1,396.4 L274.8,394.4 L275.4,392.3 L276.0,390.2 L276.5,388.1Z" fill="#6db9ef" stroke="none"/>
<path d="M276.4,386.0 L276.9,383.9 L277.2,381.7 L277.5,379.5 L277.7,377.3 L277.7,375.1 L277.6,372.9 L277.3,370.8 L276.8,368.6 L276.2,366.5 L275.4,364.5 L274.5,362.5 L273.5,360.5 L272.3,358.6 L271.1,356.8 L269.9,355.0 L268.5,353.3 L267.1,351.6 L265.7,350.0 L264.3,348.4 L262.8,346.8 L261.4,345.3 L260.0,343.8 L258.6,342.3 L257.2,340.8 L255.9,339.3 L254.5,337.8 L253.1,336.4 L251.7,335.0 L250.3,333.5 L248.9,332.1 L247.5,330.7 L246.0,329.3 L244.6,327.9 L243.1,326.5 L241.7,325.2 L240.2,323.8 L238.7,322.4 L237.2,321.1 L235.6,319.7 L234.0,318.4 L232.4,317.2 L230.7,315.9 L229.0,314.7 L227.2,313.6 L225.4,312.5 L223.6,311.5 L221.7,310.6 L219.8,309.7 L217.8,309.0 L215.8,308.4 L213.7,307.9 L211.7,307.6 L209.6,307.3 L207.5,307.2 L205.4,307.2 L203.3,307.3 L201.2,307.5 L199.1,307.8 L197.0,308.1 L195.0,308.4 L193.0,308.8 L191.0,309.1 L189.0,309.5 L187.0,309.9 L185.0,310.3 L183.1,310.7 L181.1,311.1 L179.2,311.7 L177.3,312.2 L175.4,312.8 L173.5,313.4 L171.6,314.0 L169.7,314.6 L167.8,315.2 L166.0,315.9 L164.1,316.7 L162.3,317.5 L160.5,318.3 L158.8,319.3 L157.0,320.2 L155.3,321.2 L153.6,322.3 L151.9,323.4 L150.3,324.5 L148.7,325.7 L147.1,326.9 L145.6,328.2 L144.1,329.4 L142.6,330.8 L141.1,332.1 L139.7,333.5 L138.4,335.0 L137.0,336.5 L135.8,338.0 L134.6,339.6 L133.5,341.3 L132.4,343.0 L131.4,344.7 L130.5,346.4 L129.5,348.2 L128.6,350.0 L127.8,351.7 L126.9,353.5 L126.2,355.3 L125.4,357.2 L124.8,359.0 L124.2,360.9 L123.6,362.8 L123.0,364.7 L122.5,366.6 L121.9,368.5 L121.4,370.4 L121.0,372.3 L120.5,374.2 L120.2,376.1 L119.8,378.1 L119.5,380.1 L119.2,382.0 L118.8,384.0 L118.3,386.0 L117.6,388.0 L117.0,390.1 L116.5,392.2 L116.1,394.3 L115.9,396.4 L116.0,398.5 L116.1,400.6 L116.4,402.7 L116.7,404.8 L117.1,406.9 L117.6,408.9 L118.2,410.9 L118.9,413.0 L119.6,415.0 L120.3,416.9 L121.1,418.9 L122.0,420.8 L123.0,422.7 L124.1,424.5 L125.2,426.3 L126.3,428.1 L127.6,429.8 L128.9,431.4 L130.2,433.0 L131.7,434.6 L133.2,436.1 L134.7,437.5 L136.2,438.9 L137.7,440.3 L139.3,441.7 L140.8,443.1 L142.4,444.4 L144.0,445.7 L145.6,447.0 L147.2,448.3 L148.8,449.6 L150.4,450.9 L152.0,452.1 L153.7,453.4 L155.4,454.6 L157.1,455.8 L158.9,456.9 L160.7,458.0 L162.5,459.0 L164.4,460.0 L166.3,460.9 L168.2,461.7 L170.2,462.4 L172.2,463.1 L174.2,463.8 L176.2,464.4 L178.2,464.9 L180.3,465.4 L182.4,465.8 L184.4,466.2 L186.6,466.3 L188.7,466.4 L190.8,466.3 L192.9,466.0 L195.0,465.7 L197.1,465.4 L199.1,465.0 L201.2,464.5 L203.2,464.0 L205.2,463.4 L207.2,462.8 L209.1,462.1 L211.0,461.5 L212.9,460.7 L214.8,460.0 L216.7,459.2 L218.5,458.3 L220.3,457.4 L222.1,456.5 L223.8,455.6 L225.6,454.6 L227.3,453.6 L228.9,452.6 L230.6,451.6 L232.2,450.5 L233.9,449.4 L235.5,448.3 L237.0,447.2 L238.6,446.0 L240.1,444.7 L241.5,443.5 L243.0,442.2 L244.4,440.8 L245.7,439.5 L247.1,438.1 L248.4,436.7 L249.7,435.3 L251.0,433.8 L252.2,432.3 L253.4,430.8 L254.6,429.3 L255.8,427.8 L257.0,426.2 L258.1,424.7 L259.2,423.1 L260.3,421.5 L261.4,419.8 L262.5,418.2 L263.5,416.5 L264.5,414.8 L265.5,413.1 L266.5,411.3 L267.4,409.5 L268.4,407.7 L269.3,405.9 L270.2,404.0 L271.0,402.2 L271.8,400.2 L272.7,398.3 L273.4,396.3 L274.2,394.3 L274.9,392.3 L275.4,390.2 L276.0,388.1Z" fill="#62b1eb" stroke="#0c2a55" stroke-width="0.7" stroke-opacity="0.9"/>
<path d="M275.6,386.0 L276.0,383.9 L276.3,381.7 L276.6,379.6 L276.7,377.4 L276.7,375.2 L276.6,373.1 L276.2,370.9 L275.8,368.8 L275.2,366.8 L274.4,364.7 L273.4,362.8 L272.4,360.9 L271.2,359.0 L270.0,357.2 L268.7,355.5 L267.3,353.8 L265.9,352.2 L264.5,350.6 L263.0,349.1 L261.6,347.5 L260.2,346.0 L258.8,344.6 L257.4,343.1 L256.1,341.6 L254.7,340.2 L253.4,338.7 L252.0,337.3 L250.7,335.9 L249.3,334.5 L247.9,333.1 L246.6,331.7 L245.2,330.3 L243.8,328.9 L242.4,327.5 L241.0,326.1 L239.5,324.7 L238.1,323.3 L236.6,322.0 L235.1,320.6 L233.5,319.3 L231.9,318.0 L230.3,316.8 L228.6,315.6 L226.9,314.4 L225.1,313.3 L223.3,312.3 L221.4,311.4 L219.5,310.6 L217.6,309.8 L215.6,309.2 L213.5,308.7 L211.5,308.4 L209.4,308.1 L207.4,308.0 L205.3,308.0 L203.2,308.1 L201.1,308.3 L199.1,308.5 L197.0,308.9 L195.0,309.2 L193.0,309.5 L191.0,309.9 L189.0,310.3 L187.1,310.6 L185.1,311.0 L183.2,311.5 L181.3,311.9 L179.4,312.4 L177.5,313.0 L175.6,313.6 L173.7,314.2 L171.9,314.8 L170.0,315.5 L168.2,316.1 L166.3,316.8 L164.5,317.5 L162.7,318.3 L161.0,319.2 L159.2,320.1 L157.5,321.1 L155.8,322.1 L154.2,323.1 L152.5,324.2 L150.9,325.3 L149.3,326.5 L147.8,327.7 L146.3,329.0 L144.8,330.2 L143.3,331.5 L141.9,332.9 L140.5,334.3 L139.2,335.7 L137.9,337.2 L136.6,338.7 L135.5,340.3 L134.4,341.9 L133.3,343.6 L132.4,345.3 L131.4,347.0 L130.5,348.8 L129.6,350.5 L128.8,352.3 L128.0,354.1 L127.3,355.8 L126.6,357.7 L126.0,359.5 L125.4,361.3 L124.8,363.2 L124.2,365.0 L123.7,366.9 L123.2,368.8 L122.7,370.6 L122.3,372.5 L121.8,374.4 L121.4,376.3 L121.1,378.2 L120.8,380.2 L120.5,382.1 L120.1,384.0 L119.6,386.0 L119.0,388.0 L118.4,390.0 L117.9,392.1 L117.6,394.1 L117.4,396.2 L117.4,398.3 L117.6,400.4 L117.8,402.4 L118.1,404.5 L118.5,406.5 L119.0,408.5 L119.5,410.5 L120.2,412.5 L120.8,414.5 L121.6,416.4 L122.4,418.3 L123.3,420.2 L124.2,422.1 L125.2,423.9 L126.3,425.6 L127.5,427.4 L128.7,429.1 L130.0,430.7 L131.3,432.3 L132.7,433.8 L134.2,435.3 L135.7,436.7 L137.2,438.1 L138.7,439.4 L140.2,440.8 L141.8,442.1 L143.3,443.4 L144.9,444.6 L146.5,445.9 L148.1,447.2 L149.6,448.5 L151.2,449.7 L152.8,451.0 L154.4,452.2 L156.1,453.4 L157.8,454.6 L159.5,455.7 L161.2,456.8 L163.0,457.8 L164.9,458.8 L166.7,459.7 L168.6,460.5 L170.5,461.3 L172.5,462.0 L174.5,462.6 L176.5,463.2 L178.5,463.8 L180.5,464.3 L182.5,464.7 L184.6,465.0 L186.7,465.2 L188.8,465.2 L190.9,465.1 L192.9,464.9 L195.0,464.7 L197.1,464.3 L199.1,464.0 L201.1,463.5 L203.1,463.0 L205.1,462.5 L207.0,461.9 L208.9,461.2 L210.8,460.5 L212.7,459.8 L214.6,459.0 L216.4,458.2 L218.2,457.4 L220.0,456.5 L221.7,455.6 L223.4,454.6 L225.1,453.7 L226.8,452.7 L228.4,451.6 L230.1,450.6 L231.7,449.5 L233.3,448.4 L234.8,447.3 L236.3,446.1 L237.8,444.9 L239.3,443.7 L240.7,442.4 L242.1,441.1 L243.5,439.8 L244.8,438.5 L246.1,437.1 L247.4,435.7 L248.6,434.3 L249.9,432.9 L251.1,431.4 L252.3,429.9 L253.4,428.5 L254.6,427.0 L255.7,425.4 L256.8,423.9 L257.9,422.3 L259.0,420.8 L260.1,419.2 L261.1,417.5 L262.1,415.9 L263.2,414.2 L264.2,412.6 L265.2,410.9 L266.2,409.1 L267.1,407.4 L268.1,405.6 L269.0,403.8 L269.9,401.9 L270.7,400.0 L271.6,398.1 L272.5,396.2 L273.3,394.2 L274.0,392.2 L274.6,390.2 L275.1,388.1Z" fill="#57a8e4" stroke="#0c2a55" stroke-width="0.7" stroke-opacity="0.9"/>
<path d="M274.0,386.0 L274.4,383.9 L274.7,381.8 L274.9,379.7 L275.0,377.6 L275.0,375.5 L274.8,373.4 L274.5,371.3 L274.0,369.2 L273.3,367.2 L272.5,365.2 L271.6,363.3 L270.5,361.5 L269.3,359.7 L268.0,358.0 L266.6,356.3 L265.2,354.8 L263.7,353.2 L262.3,351.7 L260.8,350.3 L259.4,348.8 L258.0,347.4 L256.6,346.0 L255.3,344.6 L254.0,343.2 L252.7,341.7 L251.4,340.3 L250.1,338.9 L248.8,337.5 L247.5,336.1 L246.2,334.8 L244.9,333.4 L243.6,332.0 L242.3,330.6 L241.0,329.2 L239.7,327.8 L238.3,326.4 L237.0,325.0 L235.5,323.6 L234.1,322.2 L232.6,320.9 L231.1,319.6 L229.5,318.3 L227.9,317.1 L226.2,315.9 L224.5,314.8 L222.7,313.8 L220.9,312.9 L219.0,312.0 L217.1,311.3 L215.2,310.7 L213.2,310.2 L211.2,309.8 L209.2,309.5 L207.1,309.4 L205.1,309.4 L203.0,309.5 L201.0,309.6 L199.0,309.9 L197.0,310.2 L195.0,310.6 L193.0,310.9 L191.1,311.3 L189.1,311.6 L187.2,312.0 L185.3,312.4 L183.4,312.9 L181.5,313.3 L179.7,313.9 L177.8,314.4 L176.0,315.0 L174.2,315.7 L172.4,316.3 L170.5,316.9 L168.7,317.6 L167.0,318.3 L165.2,319.1 L163.5,319.9 L161.8,320.8 L160.1,321.7 L158.4,322.6 L156.8,323.6 L155.1,324.6 L153.6,325.7 L152.0,326.8 L150.5,328.0 L149.0,329.1 L147.5,330.4 L146.0,331.6 L144.6,332.9 L143.2,334.2 L141.9,335.6 L140.6,337.0 L139.3,338.5 L138.1,340.0 L137.0,341.5 L136.0,343.1 L135.0,344.7 L134.0,346.4 L133.1,348.1 L132.3,349.8 L131.5,351.5 L130.7,353.2 L130.0,355.0 L129.3,356.7 L128.6,358.5 L128.0,360.3 L127.5,362.1 L126.9,363.9 L126.4,365.7 L125.9,367.5 L125.4,369.3 L125.0,371.1 L124.5,372.9 L124.1,374.8 L123.7,376.6 L123.4,378.5 L123.1,380.3 L122.8,382.2 L122.4,384.1 L122.0,386.0 L121.5,387.9 L121.0,389.9 L120.5,391.9 L120.2,393.9 L120.0,395.9 L120.0,397.9 L120.1,399.9 L120.3,401.9 L120.6,403.9 L120.9,405.8 L121.4,407.8 L121.9,409.8 L122.5,411.7 L123.1,413.6 L123.8,415.5 L124.6,417.4 L125.4,419.2 L126.3,421.0 L127.3,422.7 L128.4,424.5 L129.5,426.2 L130.6,427.8 L131.9,429.4 L133.2,430.9 L134.6,432.4 L136.0,433.8 L137.4,435.2 L138.9,436.5 L140.4,437.8 L142.0,439.0 L143.5,440.3 L145.0,441.5 L146.6,442.7 L148.1,443.9 L149.6,445.1 L151.1,446.4 L152.6,447.6 L154.2,448.9 L155.7,450.1 L157.3,451.3 L158.9,452.4 L160.6,453.5 L162.3,454.6 L164.0,455.6 L165.8,456.6 L167.5,457.5 L169.4,458.4 L171.2,459.1 L173.1,459.9 L175.0,460.6 L176.9,461.2 L178.9,461.8 L180.9,462.3 L182.9,462.7 L184.9,463.0 L186.9,463.1 L188.9,463.2 L191.0,463.1 L193.0,463.0 L195.0,462.8 L197.0,462.5 L199.0,462.1 L201.0,461.8 L202.9,461.3 L204.8,460.8 L206.8,460.2 L208.6,459.6 L210.5,458.9 L212.3,458.1 L214.1,457.4 L215.9,456.6 L217.6,455.7 L219.4,454.8 L221.1,453.9 L222.7,452.9 L224.4,451.9 L226.0,450.9 L227.5,449.9 L229.1,448.8 L230.6,447.7 L232.1,446.6 L233.6,445.5 L235.1,444.3 L236.5,443.1 L237.9,441.9 L239.2,440.6 L240.5,439.3 L241.8,438.0 L243.1,436.7 L244.3,435.3 L245.6,434.0 L246.8,432.6 L247.9,431.2 L249.1,429.8 L250.2,428.4 L251.3,426.9 L252.4,425.5 L253.5,424.0 L254.6,422.5 L255.6,421.0 L256.7,419.5 L257.7,418.0 L258.7,416.4 L259.8,414.8 L260.8,413.3 L261.8,411.7 L262.9,410.0 L263.9,408.4 L264.9,406.7 L265.9,405.0 L266.9,403.3 L267.8,401.5 L268.8,399.7 L269.8,397.8 L270.7,396.0 L271.6,394.1 L272.4,392.1 L273.1,390.1 L273.6,388.1Z" fill="#4c9fdd" stroke="#0c2a55" stroke-width="0.7" stroke-opacity="0.9"/>
<path d="M272.4,386.0 L272.7,384.0 L272.9,381.9 L273.1,379.9 L273.2,377.8 L273.1,375.7 L272.9,373.7 L272.6,371.6 L272.1,369.6 L271.4,367.7 L270.6,365.7 L269.6,363.9 L268.4,362.1 L267.2,360.4 L265.8,358.8 L264.4,357.3 L262.9,355.8 L261.4,354.3 L259.9,352.9 L258.5,351.5 L257.1,350.2 L255.7,348.8 L254.3,347.5 L253.0,346.1 L251.8,344.8 L250.5,343.4 L249.3,342.0 L248.1,340.7 L246.9,339.3 L245.7,337.9 L244.4,336.6 L243.2,335.2 L242.0,333.8 L240.8,332.4 L239.6,331.0 L238.3,329.6 L237.1,328.1 L235.8,326.7 L234.4,325.3 L233.1,323.9 L231.7,322.5 L230.2,321.2 L228.7,319.9 L227.1,318.7 L225.5,317.5 L223.8,316.4 L222.1,315.4 L220.3,314.5 L218.5,313.6 L216.7,312.9 L214.8,312.2 L212.8,311.7 L210.9,311.3 L208.9,311.0 L206.9,310.9 L204.9,310.8 L202.9,310.9 L200.9,311.1 L198.9,311.3 L196.9,311.7 L195.0,312.0 L193.1,312.3 L191.2,312.7 L189.3,313.1 L187.4,313.5 L185.5,313.9 L183.7,314.3 L181.8,314.8 L180.0,315.4 L178.2,315.9 L176.4,316.6 L174.6,317.2 L172.9,317.8 L171.1,318.5 L169.4,319.2 L167.6,320.0 L165.9,320.7 L164.3,321.6 L162.6,322.4 L161.0,323.3 L159.4,324.3 L157.8,325.2 L156.2,326.2 L154.7,327.3 L153.1,328.4 L151.7,329.5 L150.2,330.7 L148.8,331.9 L147.4,333.1 L146.0,334.4 L144.7,335.7 L143.4,337.0 L142.1,338.4 L140.9,339.8 L139.7,341.3 L138.7,342.8 L137.6,344.3 L136.7,345.9 L135.8,347.6 L135.0,349.2 L134.2,350.9 L133.4,352.6 L132.7,354.3 L132.0,356.0 L131.4,357.7 L130.8,359.4 L130.3,361.1 L129.7,362.9 L129.2,364.6 L128.7,366.4 L128.3,368.1 L127.8,369.9 L127.4,371.6 L126.9,373.4 L126.5,375.2 L126.2,376.9 L125.8,378.7 L125.5,380.5 L125.2,382.3 L124.9,384.2 L124.5,386.0 L124.1,387.9 L123.6,389.7 L123.3,391.6 L122.9,393.6 L122.8,395.5 L122.7,397.4 L122.8,399.4 L123.0,401.3 L123.2,403.2 L123.5,405.2 L123.9,407.1 L124.4,408.9 L124.9,410.8 L125.5,412.7 L126.2,414.5 L126.9,416.3 L127.7,418.1 L128.6,419.8 L129.5,421.5 L130.5,423.2 L131.6,424.9 L132.7,426.4 L133.9,428.0 L135.2,429.5 L136.5,430.9 L137.9,432.2 L139.3,433.5 L140.8,434.8 L142.3,436.0 L143.8,437.2 L145.3,438.4 L146.8,439.5 L148.3,440.7 L149.8,441.8 L151.3,443.0 L152.7,444.2 L154.2,445.4 L155.6,446.6 L157.1,447.8 L158.6,449.0 L160.2,450.1 L161.8,451.2 L163.4,452.3 L165.0,453.3 L166.7,454.3 L168.4,455.2 L170.2,456.1 L172.0,456.9 L173.8,457.7 L175.6,458.4 L177.5,459.0 L179.4,459.6 L181.3,460.1 L183.2,460.5 L185.2,460.8 L187.1,460.9 L189.1,461.0 L191.1,461.0 L193.0,460.9 L195.0,460.7 L197.0,460.5 L198.9,460.2 L200.8,459.9 L202.7,459.5 L204.6,459.0 L206.5,458.4 L208.3,457.8 L210.1,457.1 L211.9,456.4 L213.7,455.6 L215.4,454.8 L217.1,453.9 L218.7,453.0 L220.4,452.1 L222.0,451.1 L223.5,450.1 L225.1,449.1 L226.6,448.0 L228.1,446.9 L229.5,445.8 L231.0,444.7 L232.4,443.6 L233.8,442.4 L235.1,441.2 L236.4,440.0 L237.7,438.7 L238.9,437.4 L240.1,436.1 L241.3,434.8 L242.5,433.5 L243.6,432.1 L244.7,430.8 L245.9,429.4 L246.9,428.1 L248.0,426.7 L249.1,425.3 L250.1,423.9 L251.1,422.5 L252.2,421.0 L253.2,419.6 L254.2,418.1 L255.2,416.7 L256.2,415.2 L257.2,413.7 L258.3,412.2 L259.3,410.7 L260.4,409.2 L261.5,407.6 L262.6,406.0 L263.6,404.4 L264.7,402.7 L265.7,401.0 L266.7,399.3 L267.8,397.5 L268.9,395.7 L269.9,393.9 L270.7,392.0 L271.4,390.0 L272.0,388.0Z" fill="#4094d5" stroke="#0c2a55" stroke-width="0.7" stroke-opacity="0.9"/>
<path d="M270.4,386.0 L270.7,384.0 L270.9,382.0 L271.0,380.0 L271.0,378.0 L270.9,376.0 L270.7,374.0 L270.3,372.0 L269.8,370.1 L269.2,368.2 L268.3,366.4 L267.2,364.6 L266.0,362.9 L264.7,361.3 L263.2,359.8 L261.8,358.3 L260.2,357.0 L258.7,355.6 L257.2,354.3 L255.7,353.0 L254.3,351.8 L252.9,350.5 L251.6,349.2 L250.4,348.0 L249.1,346.7 L248.0,345.4 L246.8,344.0 L245.7,342.7 L244.6,341.4 L243.5,340.0 L242.3,338.7 L241.2,337.3 L240.1,335.9 L239.0,334.5 L237.8,333.1 L236.7,331.6 L235.6,330.2 L234.4,328.7 L233.1,327.3 L231.9,325.9 L230.5,324.5 L229.1,323.1 L227.7,321.8 L226.2,320.6 L224.6,319.4 L223.0,318.3 L221.4,317.3 L219.7,316.3 L217.9,315.5 L216.1,314.7 L214.3,314.0 L212.4,313.5 L210.5,313.1 L208.6,312.8 L206.6,312.6 L204.7,312.6 L202.7,312.6 L200.8,312.8 L198.8,313.0 L196.9,313.3 L195.0,313.7 L193.1,314.0 L191.2,314.4 L189.4,314.8 L187.6,315.2 L185.7,315.6 L183.9,316.1 L182.1,316.6 L180.4,317.1 L178.6,317.7 L176.9,318.3 L175.2,319.0 L173.5,319.7 L171.8,320.4 L170.1,321.1 L168.4,321.9 L166.8,322.7 L165.2,323.5 L163.6,324.4 L162.0,325.3 L160.5,326.2 L158.9,327.1 L157.4,328.1 L155.9,329.2 L154.5,330.2 L153.1,331.3 L151.7,332.5 L150.3,333.6 L148.9,334.8 L147.6,336.1 L146.3,337.3 L145.1,338.6 L143.9,340.0 L142.7,341.4 L141.6,342.8 L140.6,344.3 L139.6,345.8 L138.7,347.3 L137.9,348.9 L137.1,350.5 L136.4,352.2 L135.7,353.8 L135.0,355.4 L134.4,357.1 L133.9,358.8 L133.4,360.5 L132.9,362.2 L132.4,363.8 L131.9,365.5 L131.5,367.2 L131.0,368.9 L130.6,370.5 L130.2,372.2 L129.8,373.9 L129.4,375.6 L129.0,377.3 L128.7,379.0 L128.4,380.8 L128.1,382.5 L127.8,384.2 L127.5,386.0 L127.1,387.8 L126.8,389.6 L126.5,391.4 L126.2,393.2 L126.0,395.1 L126.0,396.9 L126.0,398.8 L126.1,400.6 L126.3,402.5 L126.5,404.3 L126.9,406.2 L127.3,408.0 L127.8,409.8 L128.3,411.6 L129.0,413.4 L129.6,415.1 L130.4,416.8 L131.2,418.5 L132.1,420.1 L133.1,421.7 L134.1,423.3 L135.2,424.8 L136.3,426.3 L137.5,427.8 L138.8,429.1 L140.2,430.4 L141.6,431.6 L143.0,432.8 L144.4,434.0 L145.9,435.1 L147.4,436.2 L148.9,437.2 L150.4,438.2 L151.8,439.3 L153.2,440.4 L154.6,441.6 L156.0,442.8 L157.3,444.0 L158.7,445.2 L160.2,446.3 L161.6,447.5 L163.1,448.5 L164.7,449.6 L166.2,450.6 L167.8,451.6 L169.5,452.5 L171.1,453.4 L172.8,454.3 L174.5,455.1 L176.3,455.8 L178.1,456.5 L179.9,457.1 L181.7,457.6 L183.6,457.9 L185.5,458.2 L187.4,458.4 L189.3,458.5 L191.2,458.5 L193.1,458.4 L195.0,458.3 L196.9,458.2 L198.8,458.0 L200.6,457.7 L202.5,457.3 L204.3,456.9 L206.1,456.3 L207.9,455.7 L209.7,455.1 L211.4,454.3 L213.1,453.5 L214.8,452.7 L216.4,451.8 L218.0,450.9 L219.6,450.0 L221.1,449.0 L222.6,448.0 L224.0,446.9 L225.5,445.8 L226.9,444.7 L228.2,443.6 L229.6,442.5 L230.9,441.3 L232.2,440.1 L233.4,438.9 L234.6,437.7 L235.8,436.4 L237.0,435.1 L238.1,433.9 L239.2,432.6 L240.3,431.3 L241.3,430.0 L242.4,428.7 L243.4,427.3 L244.4,426.0 L245.4,424.7 L246.4,423.3 L247.4,422.0 L248.4,420.7 L249.3,419.3 L250.3,417.9 L251.3,416.6 L252.3,415.2 L253.2,413.8 L254.3,412.4 L255.3,411.0 L256.4,409.6 L257.5,408.1 L258.7,406.7 L259.8,405.2 L260.9,403.7 L262.0,402.1 L263.1,400.5 L264.3,398.8 L265.5,397.2 L266.7,395.4 L267.8,393.7 L268.8,391.8 L269.5,389.9 L270.1,388.0Z" fill="#3489cb" stroke="#0c2a55" stroke-width="0.7" stroke-opacity="0.9"/>
<path d="M268.5,386.0 L268.7,384.1 L268.8,382.1 L268.9,380.2 L268.8,378.2 L268.7,376.3 L268.5,374.4 L268.1,372.5 L267.6,370.6 L266.9,368.7 L266.0,367.0 L264.9,365.3 L263.6,363.7 L262.2,362.2 L260.7,360.8 L259.1,359.4 L257.6,358.1 L256.0,356.9 L254.4,355.7 L253.0,354.5 L251.5,353.4 L250.2,352.2 L248.9,351.0 L247.7,349.8 L246.5,348.6 L245.4,347.3 L244.4,346.0 L243.3,344.7 L242.3,343.4 L241.2,342.1 L240.2,340.8 L239.2,339.4 L238.2,338.1 L237.1,336.7 L236.1,335.2 L235.1,333.7 L234.1,332.2 L233.0,330.8 L231.8,329.3 L230.7,327.8 L229.4,326.4 L228.1,325.0 L226.7,323.7 L225.3,322.5 L223.8,321.3 L222.3,320.2 L220.7,319.2 L219.0,318.2 L217.3,317.3 L215.6,316.5 L213.8,315.8 L212.0,315.3 L210.1,314.8 L208.2,314.5 L206.3,314.4 L204.4,314.3 L202.5,314.3 L200.6,314.5 L198.7,314.7 L196.9,315.0 L195.0,315.4 L193.2,315.7 L191.3,316.1 L189.5,316.5 L187.7,316.9 L186.0,317.4 L184.2,317.8 L182.5,318.3 L180.7,318.9 L179.0,319.5 L177.3,320.1 L175.7,320.8 L174.0,321.5 L172.4,322.2 L170.8,323.0 L169.2,323.8 L167.7,324.6 L166.1,325.4 L164.6,326.3 L163.1,327.2 L161.6,328.1 L160.1,329.0 L158.7,330.0 L157.2,331.0 L155.8,332.1 L154.5,333.2 L153.1,334.3 L151.8,335.4 L150.5,336.6 L149.3,337.8 L148.0,339.0 L146.8,340.3 L145.7,341.6 L144.6,342.9 L143.5,344.3 L142.5,345.7 L141.6,347.2 L140.8,348.7 L140.0,350.3 L139.3,351.8 L138.6,353.4 L138.0,355.0 L137.4,356.6 L136.9,358.3 L136.4,359.9 L135.9,361.5 L135.5,363.2 L135.1,364.8 L134.6,366.4 L134.2,368.0 L133.8,369.6 L133.4,371.2 L133.0,372.8 L132.6,374.4 L132.2,376.1 L131.9,377.7 L131.5,379.3 L131.2,381.0 L131.0,382.6 L130.7,384.3 L130.4,386.0 L130.2,387.7 L130.0,389.4 L129.7,391.1 L129.5,392.9 L129.3,394.6 L129.2,396.4 L129.2,398.2 L129.2,400.0 L129.4,401.8 L129.6,403.5 L129.9,405.3 L130.2,407.0 L130.7,408.8 L131.2,410.5 L131.8,412.2 L132.4,413.9 L133.1,415.5 L133.9,417.1 L134.7,418.7 L135.6,420.3 L136.6,421.8 L137.6,423.3 L138.7,424.7 L139.9,426.0 L141.1,427.3 L142.4,428.6 L143.8,429.8 L145.2,430.9 L146.6,431.9 L148.0,433.0 L149.5,433.9 L151.0,434.9 L152.5,435.8 L153.9,436.8 L155.2,437.9 L156.5,439.0 L157.8,440.2 L159.1,441.4 L160.4,442.5 L161.7,443.7 L163.1,444.8 L164.5,445.8 L166.0,446.9 L167.4,447.9 L169.0,448.9 L170.5,449.8 L172.1,450.8 L173.7,451.6 L175.3,452.5 L177.0,453.2 L178.7,453.9 L180.4,454.5 L182.2,455.0 L184.0,455.4 L185.8,455.7 L187.7,455.8 L189.5,455.9 L191.3,455.9 L193.2,456.0 L195.0,455.9 L196.8,455.8 L198.7,455.7 L200.5,455.5 L202.3,455.2 L204.1,454.8 L205.8,454.3 L207.5,453.7 L209.2,453.0 L210.9,452.3 L212.5,451.5 L214.1,450.6 L215.7,449.7 L217.2,448.8 L218.7,447.8 L220.2,446.8 L221.6,445.8 L223.0,444.7 L224.4,443.6 L225.7,442.5 L227.0,441.3 L228.2,440.2 L229.4,439.0 L230.6,437.9 L231.8,436.6 L232.9,435.4 L234.0,434.1 L235.0,432.9 L236.1,431.6 L237.1,430.3 L238.1,429.1 L239.1,427.8 L240.0,426.5 L241.0,425.3 L241.9,424.0 L242.8,422.7 L243.8,421.4 L244.7,420.1 L245.6,418.9 L246.5,417.6 L247.4,416.3 L248.4,415.0 L249.3,413.7 L250.3,412.4 L251.3,411.1 L252.4,409.8 L253.5,408.5 L254.7,407.1 L255.9,405.8 L257.1,404.4 L258.3,402.9 L259.4,401.5 L260.6,399.9 L261.9,398.4 L263.2,396.8 L264.5,395.2 L265.8,393.4 L266.8,391.7 L267.6,389.8 L268.2,387.9Z" fill="#2579c0" stroke="#0c2a55" stroke-width="0.7" stroke-opacity="0.9"/>
<path d="M264.5,386.0 L264.9,384.2 L265.0,382.3 L265.0,380.5 L264.9,378.7 L264.7,376.8 L264.4,375.0 L264.1,373.2 L263.7,371.4 L263.2,369.6 L262.6,367.9 L261.8,366.2 L260.9,364.6 L259.8,363.0 L258.7,361.6 L257.4,360.2 L256.0,358.8 L254.6,357.6 L253.0,356.4 L251.4,355.4 L249.7,354.4 L248.1,353.4 L246.6,352.5 L245.1,351.6 L243.7,350.6 L242.4,349.6 L241.2,348.6 L240.0,347.5 L239.0,346.4 L238.1,345.1 L237.2,343.8 L236.4,342.3 L235.6,340.9 L234.8,339.3 L234.0,337.8 L233.2,336.3 L232.3,334.7 L231.3,333.2 L230.3,331.7 L229.1,330.4 L227.8,329.1 L226.5,328.1 L225.0,327.1 L223.5,326.3 L222.0,325.5 L220.4,324.7 L218.8,323.9 L217.2,323.2 L215.6,322.6 L214.0,322.0 L212.3,321.5 L210.5,321.2 L208.8,321.1 L207.0,321.0 L205.3,321.2 L203.5,321.4 L201.8,321.7 L200.0,322.2 L198.3,322.7 L196.6,323.2 L195.0,323.8 L193.4,324.3 L191.8,324.9 L190.2,325.4 L188.7,325.9 L187.2,326.5 L185.7,327.0 L184.2,327.6 L182.7,328.2 L181.3,328.8 L179.9,329.5 L178.5,330.2 L177.1,330.9 L175.8,331.7 L174.5,332.5 L173.2,333.3 L171.9,334.1 L170.6,334.8 L169.3,335.5 L168.0,336.2 L166.7,336.9 L165.3,337.6 L164.0,338.2 L162.6,338.9 L161.3,339.6 L159.9,340.3 L158.5,341.0 L157.1,341.7 L155.7,342.4 L154.3,343.1 L152.9,343.9 L151.5,344.7 L150.1,345.6 L148.8,346.5 L147.5,347.6 L146.4,348.7 L145.3,349.9 L144.2,351.1 L143.4,352.5 L142.6,353.9 L141.9,355.3 L141.3,356.8 L140.7,358.4 L140.2,359.9 L139.7,361.4 L139.2,362.9 L138.6,364.4 L138.1,365.9 L137.6,367.3 L137.1,368.9 L136.7,370.4 L136.3,371.9 L135.9,373.4 L135.6,375.0 L135.4,376.6 L135.1,378.1 L134.9,379.7 L134.7,381.3 L134.4,382.8 L134.2,384.4 L134.0,386.0 L133.7,387.6 L133.5,389.2 L133.2,390.9 L133.0,392.5 L132.9,394.2 L132.9,395.8 L133.0,397.5 L133.2,399.1 L133.5,400.8 L133.8,402.4 L134.2,404.0 L134.7,405.6 L135.1,407.2 L135.7,408.8 L136.2,410.4 L136.8,411.9 L137.4,413.5 L138.0,415.0 L138.7,416.5 L139.5,418.0 L140.4,419.5 L141.3,420.9 L142.4,422.2 L143.5,423.4 L144.8,424.6 L146.1,425.6 L147.5,426.6 L148.9,427.5 L150.4,428.3 L151.9,429.1 L153.5,429.8 L154.9,430.5 L156.4,431.2 L157.8,431.9 L159.2,432.7 L160.5,433.4 L161.9,434.2 L163.2,434.9 L164.6,435.7 L165.9,436.4 L167.2,437.2 L168.5,438.0 L169.8,438.7 L171.2,439.5 L172.5,440.2 L173.9,441.0 L175.3,441.7 L176.7,442.4 L178.1,443.1 L179.5,443.7 L181.0,444.3 L182.5,444.9 L184.0,445.5 L185.5,446.0 L187.0,446.5 L188.6,446.9 L190.2,447.3 L191.8,447.5 L193.4,447.7 L195.0,447.8 L196.6,447.8 L198.2,447.6 L199.8,447.4 L201.4,447.0 L203.0,446.7 L204.5,446.2 L206.1,445.7 L207.6,445.2 L209.1,444.7 L210.6,444.1 L212.1,443.6 L213.5,443.0 L215.0,442.5 L216.5,442.0 L217.9,441.4 L219.3,440.7 L220.7,439.8 L221.9,438.8 L223.0,437.7 L224.1,436.4 L225.1,435.2 L226.2,434.0 L227.1,432.8 L228.1,431.6 L229.1,430.5 L230.1,429.3 L231.1,428.3 L232.1,427.2 L233.1,426.1 L234.1,425.1 L235.1,424.0 L236.0,422.9 L237.0,421.8 L237.9,420.7 L238.8,419.6 L239.8,418.5 L240.7,417.4 L241.6,416.3 L242.6,415.2 L243.6,414.0 L244.5,412.9 L245.5,411.7 L246.6,410.6 L247.7,409.4 L248.8,408.3 L250.0,407.1 L251.2,405.9 L252.4,404.6 L253.6,403.4 L254.8,402.0 L255.9,400.6 L257.0,399.2 L258.1,397.7 L259.1,396.2 L260.1,394.6 L261.1,392.9 L262.1,391.3 L263.1,389.6 L263.9,387.8Z" fill="#116ab3" stroke="#0c2a55" stroke-width="0.7" stroke-opacity="0.9"/>
<path d="M141.5,368.6 L141.6,367.7 L141.7,366.7 L141.8,365.6 L141.9,364.5 L142.0,363.4 L142.2,362.3 L142.5,361.2 L142.8,360.2 L143.2,359.3 L143.6,358.3 L144.0,357.5 L144.6,356.6 L145.1,355.8 L145.7,354.9 L146.4,354.2 L147.2,353.4 L148.0,352.7 L149.0,351.9 L149.9,351.2 L151.0,350.6 L152.1,349.9 L153.2,349.3 L154.5,348.8 L155.7,348.3 L157.0,347.9 L158.4,347.5 L159.9,347.2 L161.3,347.0 L162.9,346.7 L164.4,346.5 L166.0,346.4 L167.5,346.2 L169.1,346.0 L170.7,345.9 L172.5,345.8 L174.2,345.7 L175.8,345.6 L177.4,345.6 L178.8,345.6 L180.0,345.6 L181.0,345.7 L181.8,345.7 L182.5,345.9 L183.0,346.0 L183.5,346.2 L184.0,346.4 L184.5,346.7 L185.1,347.0 L185.7,347.4 L186.4,347.9 L187.0,348.4 L187.7,349.0 L188.3,349.6 L188.9,350.1 L189.5,350.7 L190.1,351.2 L190.7,351.7 L191.3,352.2 L191.8,352.7 L192.4,353.2 L193.0,353.6 L193.5,354.0 L194.0,354.3 L194.4,354.6 L194.8,354.8 L195.1,354.9 L195.4,355.0 L195.7,355.1 L195.9,355.1 L196.2,355.0 L196.5,354.8 L196.9,354.6 L197.4,354.3 L197.9,353.9 L198.5,353.4 L199.1,352.9 L199.7,352.4 L200.2,351.7 L200.7,351.1 L201.1,350.4 L201.4,349.7 L201.5,348.9 L201.6,348.0 L201.7,347.1 L201.8,346.2 L201.8,345.3 L201.9,344.4 L202.0,343.6 L202.1,342.8 L202.3,342.0 L202.4,341.2 L202.6,340.4 L202.8,339.6 L203.0,338.9 L203.3,338.3 L203.6,337.7 L204.0,337.2 L204.4,336.7 L204.9,336.3 L205.5,336.0 L206.1,335.6 L206.6,335.4 L207.3,335.1 L207.9,334.9 L208.6,334.7 L209.3,334.6 L210.0,334.4 L210.8,334.3 L211.5,334.3 L212.3,334.3 L213.1,334.3 L213.8,334.4 L214.6,334.5 L215.4,334.7 L216.2,334.9 L217.0,335.1 L217.7,335.4 L218.5,335.7 L219.1,336.1 L219.7,336.5 L220.2,336.9 L220.6,337.4 L221.0,338.0 L221.3,338.6 L221.6,339.2 L221.9,339.8 L222.0,340.4 L222.2,341.1 L222.3,341.8 L222.4,342.5 L222.4,343.3 L222.4,344.1 L222.3,344.9 L222.2,345.6 L222.1,346.3 L221.9,347.0 L221.7,347.6 L221.4,348.2 L221.0,348.8 L220.6,349.3 L220.2,349.8 L219.8,350.3 L219.3,350.8 L218.8,351.2 L218.2,351.6 L217.6,351.9 L217.0,352.3 L216.3,352.6 L215.6,352.8 L214.9,353.1 L214.3,353.5 L213.8,353.8 L213.3,354.2 L212.9,354.5 L212.6,354.8 L212.2,355.2 L211.9,355.6 L211.7,356.0 L211.4,356.5 L211.2,357.1 L211.0,357.8 L210.9,358.5 L210.7,359.3 L210.7,360.2 L210.6,361.1 L210.5,362.0 L210.5,362.9 L210.4,363.9 L210.3,364.9 L210.3,365.9 L210.3,367.0 L210.3,368.1 L210.3,369.2 L210.2,370.3 L210.2,371.3 L210.1,372.3 L210.0,373.2 L209.8,374.2 L209.6,375.0 L209.4,375.9 L209.2,376.7 L209.0,377.6 L208.9,378.3 L208.7,379.1 L208.5,379.8 L208.4,380.5 L208.2,381.2 L208.0,381.9 L207.9,382.5 L207.8,383.1 L207.8,383.7 L207.9,384.2 L208.1,384.7 L208.4,385.3 L208.8,385.8 L209.2,386.3 L209.7,386.8 L210.2,387.1 L210.7,387.4 L211.2,387.5 L211.8,387.5 L212.4,387.4 L213.1,387.1 L213.7,386.8 L214.4,386.4 L215.1,386.0 L215.7,385.5 L216.3,385.0 L216.8,384.4 L217.3,383.8 L217.8,383.1 L218.2,382.3 L218.6,381.5 L219.0,380.7 L219.4,379.9 L219.7,379.1 L220.0,378.3 L220.2,377.4 L220.4,376.6 L220.5,375.7 L220.7,374.8 L220.8,374.0 L221.1,373.1 L221.4,372.3 L221.8,371.5 L222.2,370.7 L222.7,369.9 L223.2,369.1 L223.7,368.4 L224.3,367.7 L224.9,367.0 L225.6,366.4 L226.3,365.8 L227.1,365.3 L227.9,364.9 L228.7,364.5 L229.5,364.1 L230.4,363.7 L231.4,363.4 L232.3,363.1 L233.3,362.8 L234.3,362.6 L235.4,362.4 L236.4,362.2 L237.5,362.0 L238.6,361.9 L239.7,361.9 L240.8,361.9 L241.9,362.0 L242.9,362.1 L244.0,362.2 L245.1,362.4 L246.2,362.6 L247.2,362.9 L248.2,363.2 L249.2,363.6 L250.1,364.0 L251.1,364.5 L252.0,364.9 L252.9,365.5 L253.8,366.1 L254.6,366.7 L255.3,367.4 L256.0,368.1 L256.6,368.9 L257.2,369.8 L257.7,370.7 L258.2,371.7 L258.6,372.6 L258.9,373.7 L259.2,374.7 L259.4,375.7 L259.5,376.7 L259.6,377.8 L259.6,378.8 L259.6,379.9 L259.5,381.0 L259.4,382.1 L259.2,383.1 L259.0,384.2 L258.8,385.3 L258.5,386.3 L258.2,387.4 L257.8,388.5 L257.4,389.6 L257.0,390.6 L256.5,391.6 L256.0,392.6 L255.5,393.5 L255.0,394.5 L254.4,395.4 L253.8,396.3 L253.1,397.1 L252.5,397.9 L251.7,398.7 L250.9,399.4 L250.0,400.0 L249.0,400.6 L247.9,401.2 L246.8,401.7 L245.7,402.1 L244.6,402.6 L243.5,403.1 L242.5,403.6 L241.6,404.1 L240.6,404.6 L239.7,405.2 L238.8,405.7 L238.0,406.2 L237.2,406.7 L236.4,407.3 L235.7,407.8 L235.1,408.3 L234.5,408.9 L234.0,409.4 L233.5,409.9 L233.0,410.4 L232.6,411.0 L232.1,411.7 L231.6,412.5 L231.1,413.4 L230.6,414.4 L230.1,415.4 L229.7,416.6 L229.2,417.7 L228.7,418.8 L228.1,419.9 L227.5,421.0 L226.9,422.0 L226.2,423.1 L225.5,424.1 L224.8,425.1 L224.0,426.1 L223.2,427.0 L222.4,427.9 L221.5,428.8 L220.6,429.6 L219.6,430.5 L218.6,431.3 L217.6,432.0 L216.5,432.7 L215.4,433.3 L214.3,433.8 L213.1,434.2 L211.9,434.5 L210.6,434.6 L209.3,434.7 L207.9,434.6 L206.5,434.5 L205.2,434.3 L204.0,434.1 L202.9,433.8 L201.9,433.5 L200.9,433.1 L200.1,432.6 L199.2,432.1 L198.4,431.5 L197.7,430.9 L196.9,430.2 L196.2,429.4 L195.5,428.5 L194.8,427.5 L194.2,426.5 L193.5,425.3 L192.9,424.2 L192.3,423.1 L191.7,422.0 L191.1,421.0 L190.5,420.1 L189.9,419.1 L189.4,418.2 L188.8,417.3 L188.2,416.4 L187.6,415.6 L186.9,414.9 L186.1,414.2 L185.2,413.6 L184.2,413.0 L183.2,412.4 L182.1,411.9 L180.9,411.4 L179.8,411.1 L178.7,410.9 L177.6,410.8 L176.5,410.9 L175.5,411.2 L174.4,411.6 L173.4,412.1 L172.4,412.7 L171.3,413.2 L170.3,413.8 L169.2,414.2 L168.2,414.6 L167.1,415.0 L166.1,415.5 L165.1,415.9 L164.0,416.3 L162.9,416.6 L161.8,416.8 L160.7,416.9 L159.5,416.9 L158.2,416.8 L156.9,416.6 L155.5,416.3 L154.2,416.0 L152.9,415.7 L151.7,415.3 L150.6,414.9 L149.6,414.5 L148.6,414.1 L147.7,413.6 L146.8,413.1 L146.0,412.6 L145.2,412.1 L144.5,411.5 L143.8,410.8 L143.1,410.1 L142.5,409.4 L141.8,408.6 L141.3,407.7 L140.8,406.9 L140.3,406.0 L140.0,405.0 L139.8,404.1 L139.7,403.1 L139.7,402.0 L139.8,400.9 L140.0,399.7 L140.3,398.6 L140.7,397.5 L141.1,396.5 L141.5,395.6 L142.1,394.8 L142.8,394.1 L143.6,393.5 L144.4,392.9 L145.2,392.3 L146.0,391.8 L146.7,391.2 L147.2,390.6 L147.6,390.0 L147.9,389.4 L148.2,388.8 L148.3,388.2 L148.4,387.5 L148.4,386.9 L148.4,386.2 L148.2,385.5 L147.9,384.7 L147.4,383.9 L146.9,383.0 L146.2,382.1 L145.5,381.2 L144.9,380.3 L144.3,379.5 L143.8,378.7 L143.4,378.0 L143.0,377.3 L142.7,376.7 L142.4,376.1 L142.1,375.5 L141.9,374.9 L141.7,374.3 L141.5,373.7 L141.4,373.1 L141.3,372.5 L141.3,371.9 L141.3,371.4 L141.3,370.8 L141.4,370.1 L141.4,369.4Z" fill="#0657a5" stroke="#0c2a55" stroke-width="0.7" stroke-opacity="0.9"/>
<path d="M278.1,386.0 L278.3,383.8 L278.6,381.6 L278.8,379.4 L279.9,377.1 L279.8,374.8 L279.7,372.6 L279.0,370.4 L278.7,368.2 L278.0,366.1 L277.4,363.9 L276.5,361.9 L275.6,359.8 L274.8,357.8 L273.5,355.9 L272.6,353.8 L271.5,351.9 L270.1,350.2 L268.5,348.5 L267.1,346.8 L265.4,345.3 L264.0,343.7 L262.3,342.3 L261.1,340.6 L259.4,339.2 L258.0,337.6 L256.8,335.9 L255.4,334.4 L253.7,333.1 L252.0,331.9 L250.6,330.4 L249.0,329.1 L247.6,327.5 L246.0,326.3 L244.5,324.8 L243.0,323.5 L241.5,322.0 L240.2,320.3 L238.5,319.0 L236.7,317.9 L234.8,317.0 L233.1,315.9 L231.5,314.4 L229.7,313.3 L227.9,312.0 L226.2,310.7 L224.2,309.9 L222.3,309.0 L220.3,308.1 L218.3,307.5 L216.2,306.9 L214.1,306.6 L212.0,305.9 L209.9,305.8 L207.7,305.7 L205.6,305.4 L203.5,305.3 L201.3,305.4 L199.2,306.0 L197.1,306.5 L195.0,306.7 L192.9,306.8 L190.9,307.1 L188.8,307.0 L186.8,307.6 L184.7,307.9 L182.7,308.6 L180.7,308.7 L178.7,309.5 L176.8,310.3 L175.0,311.3 L173.0,311.6 L171.0,312.2 L169.0,312.6 L167.2,313.6 L165.4,314.5 L163.6,315.4 L161.7,316.1 L159.8,317.0 L157.8,317.6 L156.1,318.6 L154.3,319.6 L152.6,320.7 L150.8,321.7 L149.0,322.7 L147.5,324.2 L145.9,325.3 L144.3,326.6 L142.7,327.9 L141.3,329.5 L139.7,330.7 L138.5,332.3 L137.1,333.8 L136.0,335.6 L134.6,337.1 L133.6,338.9 L132.5,340.6 L131.4,342.3 L130.5,344.1 L129.6,345.9 L128.4,347.5 L127.2,349.2 L125.8,350.8 L124.8,352.5 L123.7,354.3 L123.2,356.2 L122.4,358.1 L121.5,360.0 L120.9,361.9 L120.3,363.9 L119.4,365.8 L119.3,367.8 L118.6,369.8 L118.2,371.8 L117.9,373.8 L117.5,375.8 L117.3,377.8 L116.4,379.8 L116.2,381.9 L115.9,383.9 L115.3,386.0 L115.2,388.1 L114.4,390.2 L113.7,392.4 L113.3,394.6 L113.5,396.7 L113.9,398.8 L113.9,401.0 L114.0,403.2 L114.5,405.3 L115.0,407.4 L115.6,409.5 L116.3,411.6 L117.7,413.4 L118.3,415.4 L119.1,417.4 L119.9,419.4 L120.7,421.4 L121.3,423.6 L122.1,425.6 L123.0,427.6 L124.1,429.5 L124.4,431.9 L125.8,433.5 L127.0,435.4 L128.7,436.9 L130.6,438.2 L132.3,439.6 L133.5,441.3 L135.2,442.8 L136.8,444.2 L138.7,445.4 L140.0,447.0 L141.9,448.2 L143.7,449.3 L145.3,450.8 L147.1,452.0 L148.7,453.3 L150.6,454.3 L152.4,455.5 L154.3,456.5 L156.1,457.7 L157.9,458.9 L159.7,460.0 L161.7,460.9 L163.5,461.9 L165.6,462.5 L167.6,463.2 L169.6,464.1 L171.6,465.1 L173.6,465.9 L175.7,466.2 L177.8,466.7 L179.9,467.2 L182.0,468.2 L184.1,469.1 L186.2,469.3 L188.5,469.0 L190.7,468.7 L192.8,468.5 L195.0,468.4 L197.1,468.0 L199.3,467.3 L201.3,466.5 L203.4,465.6 L205.5,465.4 L207.5,465.0 L209.5,464.0 L211.4,463.2 L213.3,462.3 L215.3,461.7 L217.2,461.0 L219.1,460.3 L221.0,459.4 L222.7,458.3 L224.3,456.8 L226.2,456.0 L227.8,454.8 L229.7,454.1 L231.4,453.0 L233.2,452.2 L234.8,451.0 L236.5,449.9 L238.3,449.1 L240.0,447.9 L241.7,446.8 L243.2,445.5 L244.7,444.2 L246.4,443.1 L247.9,441.7 L248.8,439.8 L250.0,438.2 L251.3,436.7 L253.0,435.5 L254.5,434.1 L255.7,432.6 L257.0,431.0 L258.2,429.4 L259.3,427.8 L260.6,426.2 L261.4,424.3 L262.2,422.5 L263.2,420.7 L263.9,418.8 L265.3,417.3 L266.4,415.6 L267.4,413.8 L268.2,411.9 L268.8,410.0 L270.1,408.2 L271.4,406.5 L272.5,404.6 L273.3,402.6 L274.0,400.6 L274.9,398.6 L275.3,396.6 L276.0,394.5 L276.6,392.4 L277.0,390.3 L277.4,388.2Z" fill="none" stroke="#c9995f" stroke-width="1.3" stroke-opacity="0.75" stroke-linejoin="round"/>
<path d="M278.2,386.0 L278.8,383.8 L279.0,381.6 L279.4,379.4 L279.5,377.1 L279.7,374.9 L279.3,372.6 L279.1,370.4 L278.5,368.3 L278.0,366.1 L277.4,363.9 L276.6,361.8 L275.5,359.8 L274.4,357.9 L273.1,356.0 L272.1,354.1 L270.4,352.4 L269.2,350.6 L267.8,348.9 L266.2,347.3 L264.9,345.6 L263.6,344.0 L262.1,342.4 L260.7,340.8 L259.2,339.4 L258.0,337.6 L256.5,336.2 L255.2,334.5 L253.9,332.9 L252.5,331.5 L250.9,330.1 L249.3,328.8 L247.9,327.3 L246.4,325.8 L244.8,324.4 L243.3,323.0 L241.7,321.7 L240.3,320.2 L238.4,319.1 L236.7,318.0 L235.0,316.7 L233.4,315.3 L231.7,314.0 L229.9,312.8 L228.0,311.9 L226.1,310.9 L224.2,310.0 L222.2,309.1 L220.3,308.2 L218.2,307.7 L216.1,307.1 L214.0,306.8 L211.9,306.3 L209.8,306.3 L207.6,306.2 L205.5,306.2 L203.4,306.3 L201.3,306.4 L199.2,306.8 L197.1,307.2 L195.0,307.6 L193.0,307.9 L190.9,308.1 L188.9,308.3 L186.9,308.8 L184.9,308.9 L182.9,309.4 L180.8,309.6 L178.9,310.1 L176.9,310.5 L174.9,311.1 L173.1,311.9 L171.2,312.7 L169.3,313.4 L167.2,313.5 L165.2,314.0 L163.3,314.7 L161.4,315.6 L159.6,316.5 L157.7,317.3 L155.9,318.3 L154.2,319.5 L152.4,320.4 L150.7,321.6 L149.1,322.8 L147.5,324.2 L146.0,325.4 L144.4,326.8 L142.9,328.2 L141.6,329.8 L140.1,331.1 L138.7,332.5 L137.2,333.9 L135.5,335.1 L134.2,336.8 L132.8,338.3 L131.5,339.9 L130.5,341.7 L129.7,343.6 L128.8,345.4 L127.7,347.1 L126.5,348.8 L125.6,350.7 L124.9,352.5 L124.4,354.6 L123.6,356.4 L122.9,358.3 L122.1,360.2 L121.6,362.2 L121.1,364.1 L120.7,366.1 L120.2,368.0 L119.3,369.9 L118.7,371.8 L118.2,373.8 L117.2,375.8 L116.9,377.8 L116.3,379.8 L116.1,381.9 L115.7,383.9 L115.2,386.0 L114.9,388.1 L114.1,390.2 L113.7,392.4 L113.4,394.6 L113.0,396.8 L112.9,399.0 L112.8,401.2 L113.3,403.4 L113.7,405.5 L114.2,407.7 L114.8,409.8 L115.5,411.8 L116.3,413.9 L117.0,416.0 L118.1,417.9 L119.2,419.8 L120.0,421.8 L121.0,423.7 L122.2,425.6 L123.1,427.5 L124.5,429.2 L125.7,431.0 L127.3,432.5 L128.4,434.4 L129.8,436.0 L131.2,437.7 L132.7,439.2 L134.0,440.9 L135.8,442.1 L137.2,443.8 L138.8,445.2 L140.5,446.6 L142.0,448.0 L143.7,449.4 L145.4,450.6 L147.2,451.8 L149.0,452.9 L150.8,454.0 L152.6,455.2 L154.3,456.5 L155.9,457.9 L157.7,459.2 L159.6,460.2 L161.5,461.3 L163.5,462.1 L165.5,462.8 L167.4,463.8 L169.6,464.3 L171.7,464.8 L173.8,465.3 L175.8,466.0 L177.8,466.8 L180.0,467.1 L182.1,467.7 L184.2,468.0 L186.4,468.0 L188.5,468.2 L190.7,467.9 L192.9,467.6 L195.0,467.1 L197.1,466.8 L199.2,466.3 L201.3,465.9 L203.3,465.0 L205.3,464.4 L207.4,464.1 L209.4,463.6 L211.5,463.4 L213.4,462.6 L215.3,461.9 L217.2,461.0 L219.1,460.2 L221.0,459.5 L223.0,458.9 L224.7,457.6 L226.5,456.7 L228.1,455.5 L230.0,454.6 L231.7,453.6 L233.4,452.5 L234.9,451.2 L236.5,449.9 L238.0,448.6 L239.7,447.6 L241.5,446.6 L243.1,445.4 L244.7,444.2 L246.3,443.0 L247.8,441.6 L249.4,440.4 L250.7,438.9 L252.3,437.6 L253.4,435.9 L254.3,434.0 L255.7,432.6 L256.9,430.9 L257.8,429.2 L258.9,427.5 L260.1,425.9 L261.5,424.4 L262.8,422.8 L264.0,421.1 L265.4,419.6 L265.9,417.6 L266.9,415.8 L268.0,414.0 L269.1,412.3 L270.2,410.4 L271.0,408.5 L271.5,406.5 L272.4,404.6 L272.9,402.6 L273.6,400.6 L274.3,398.6 L275.0,396.5 L275.8,394.5 L276.1,392.4 L276.9,390.3 L277.7,388.2Z" fill="none" stroke="#4a2e18" stroke-width="0.85" stroke-opacity="0.85" stroke-linejoin="round"/>
<path d="M278.1,386.0 L278.6,383.8 L278.9,381.6 L279.1,379.4 L279.2,377.2 L279.0,374.9 L278.8,372.7 L278.3,370.6 L277.6,368.4 L277.1,366.3 L276.8,364.1 L276.3,361.9 L275.4,359.9 L274.2,357.9 L273.2,356.0 L271.9,354.2 L270.7,352.3 L269.3,350.6 L267.8,348.9 L266.3,347.3 L264.9,345.7 L263.4,344.1 L261.7,342.7 L260.2,341.2 L258.7,339.7 L257.4,338.1 L256.0,336.6 L254.5,335.2 L252.8,333.9 L251.5,332.4 L250.0,331.0 L248.8,329.3 L247.2,328.0 L245.8,326.5 L244.3,325.1 L242.7,323.9 L241.2,322.5 L239.8,320.9 L238.3,319.3 L236.8,317.9 L235.1,316.6 L233.2,315.7 L231.4,314.6 L229.6,313.4 L227.9,312.2 L226.1,311.0 L224.1,310.1 L222.2,309.1 L220.2,308.5 L218.1,307.9 L216.1,307.3 L214.0,306.7 L211.9,306.6 L209.7,306.5 L207.6,306.3 L205.5,306.0 L203.4,306.2 L201.3,306.5 L199.2,306.5 L197.1,306.7 L195.0,307.1 L192.9,307.7 L190.9,308.0 L188.9,308.5 L186.9,309.1 L184.9,309.5 L182.9,309.9 L181.0,310.4 L179.0,310.8 L177.0,311.1 L175.0,311.4 L173.1,312.1 L171.2,312.7 L169.2,313.1 L167.3,313.7 L165.3,314.4 L163.5,315.2 L161.6,315.9 L159.8,316.9 L157.9,317.7 L156.1,318.7 L154.4,319.7 L152.7,320.9 L151.1,322.1 L149.3,323.1 L147.5,324.1 L146.1,325.6 L144.4,326.8 L142.9,328.2 L141.4,329.6 L140.0,331.0 L138.6,332.5 L137.3,334.0 L136.0,335.6 L134.7,337.2 L133.3,338.7 L131.9,340.2 L130.8,341.9 L129.6,343.5 L128.7,345.4 L127.6,347.1 L126.5,348.8 L125.5,350.6 L124.6,352.4 L123.5,354.2 L122.8,356.1 L122.0,358.0 L121.3,359.9 L120.4,361.8 L120.1,363.8 L119.8,365.8 L119.5,367.9 L119.1,369.9 L118.8,371.9 L118.2,373.8 L117.9,375.9 L117.5,377.9 L117.5,379.9 L117.3,381.9 L117.1,384.0 L116.2,386.0 L115.2,388.1 L114.4,390.2 L113.8,392.4 L113.6,394.6 L113.4,396.7 L113.4,398.9 L113.7,401.1 L114.2,403.2 L114.7,405.3 L115.3,407.4 L115.4,409.6 L115.9,411.7 L116.2,413.9 L117.0,415.9 L117.6,418.1 L118.5,420.1 L119.4,422.1 L120.6,423.9 L121.5,425.9 L122.9,427.7 L124.1,429.4 L125.6,431.1 L126.6,433.0 L128.0,434.7 L129.4,436.4 L131.0,437.8 L132.9,439.0 L134.6,440.3 L136.0,442.0 L137.5,443.5 L139.0,445.0 L140.9,446.1 L142.3,447.7 L143.9,449.1 L145.4,450.6 L147.1,451.9 L148.8,453.2 L150.5,454.5 L152.3,455.7 L154.0,456.9 L155.9,458.0 L157.8,459.0 L159.6,460.2 L161.4,461.4 L163.3,462.6 L165.4,463.1 L167.6,463.5 L169.6,464.2 L171.7,464.7 L173.7,465.4 L175.8,466.1 L177.8,467.0 L179.9,467.3 L182.1,467.5 L184.2,468.0 L186.4,468.3 L188.5,468.3 L190.7,468.4 L192.8,468.3 L195.0,467.9 L197.1,467.2 L199.2,466.8 L201.3,466.5 L203.4,465.9 L205.5,465.6 L207.5,464.8 L209.5,464.4 L211.5,463.4 L213.4,462.8 L215.3,461.8 L217.2,460.9 L219.1,460.1 L220.9,459.2 L222.7,458.2 L224.5,457.3 L226.2,456.2 L228.1,455.4 L229.9,454.4 L231.7,453.6 L233.5,452.6 L235.1,451.5 L236.7,450.3 L238.3,449.0 L239.9,447.8 L241.5,446.6 L243.0,445.3 L244.7,444.2 L246.1,442.8 L247.7,441.5 L249.1,440.1 L250.5,438.7 L251.9,437.2 L253.2,435.7 L254.6,434.2 L255.8,432.6 L256.9,431.0 L258.1,429.3 L259.5,427.9 L260.6,426.2 L261.6,424.5 L262.7,422.8 L263.7,421.0 L264.6,419.2 L265.7,417.5 L266.8,415.7 L267.8,413.9 L268.6,412.0 L269.1,410.1 L270.3,408.3 L271.0,406.4 L272.0,404.5 L272.4,402.5 L273.0,400.5 L273.8,398.5 L274.9,396.5 L275.7,394.5 L276.3,392.4 L276.8,390.3 L277.4,388.2Z" fill="none" stroke="#0c0806" stroke-width="0.6" stroke-opacity="0.9" stroke-linejoin="round"/>
</g>
<g>
<path d="M501.7,386.0 L501.8,384.0 L501.9,382.0 L501.5,380.1 L501.0,378.1 L500.5,376.2 L500.4,374.2 L499.8,372.3 L499.6,370.4 L499.0,368.5 L498.8,366.5 L498.1,364.6 L497.5,362.8 L496.6,361.0 L496.1,359.1 L495.1,357.4 L494.4,355.6 L493.2,353.9 L492.4,352.2 L491.3,350.6 L490.3,348.9 L489.3,347.2 L488.5,345.4 L487.5,343.7 L486.3,342.2 L485.2,340.6 L483.8,339.2 L482.8,337.5 L481.5,336.0 L480.4,334.3 L479.2,332.8 L477.8,331.4 L476.7,329.7 L475.2,328.3 L474.1,326.6 L472.7,325.1 L471.2,323.7 L469.7,322.4 L468.2,321.0 L466.7,319.5 L465.2,318.1 L463.6,316.8 L461.8,315.6 L460.1,314.6 L458.3,313.4 L456.5,312.3 L454.7,311.1 L452.9,310.0 L451.1,308.8 L449.2,307.8 L447.2,307.0 L445.2,306.1 L443.1,305.4 L441.1,304.6 L439.0,304.0 L436.9,303.5 L434.7,303.0 L432.5,303.1 L430.4,303.0 L428.2,303.0 L426.0,302.9 L423.8,303.0 L421.7,303.4 L419.5,303.6 L417.4,304.3 L415.3,304.8 L413.2,305.2 L411.1,305.9 L409.1,306.4 L407.0,307.0 L405.0,307.4 L402.9,308.0 L400.9,308.7 L398.8,309.3 L396.8,309.8 L395.0,311.1 L393.1,312.1 L391.4,313.5 L389.8,314.9 L388.2,316.4 L386.5,317.6 L384.9,318.9 L383.2,320.1 L381.8,321.7 L380.3,323.1 L379.0,324.8 L377.7,326.4 L376.4,328.0 L375.2,329.6 L374.0,331.2 L372.8,332.8 L371.6,334.4 L370.5,336.0 L369.3,337.5 L368.1,339.1 L367.1,340.8 L366.2,342.5 L365.1,344.1 L364.1,345.8 L363.2,347.5 L362.3,349.2 L361.3,350.9 L360.5,352.6 L359.8,354.4 L358.9,356.1 L358.2,357.9 L357.8,359.8 L357.3,361.7 L356.8,363.5 L356.3,365.4 L355.7,367.2 L355.4,369.1 L355.1,370.9 L355.0,372.8 L354.7,374.7 L354.3,376.6 L354.1,378.4 L353.8,380.3 L353.9,382.2 L353.7,384.1 L353.7,386.0 L353.6,387.9 L353.3,389.8 L353.4,391.7 L353.6,393.6 L353.9,395.5 L354.5,397.3 L354.6,399.2 L354.9,401.1 L355.3,403.0 L355.5,404.9 L356.3,406.7 L356.7,408.5 L357.1,410.4 L358.1,412.1 L358.7,413.9 L359.6,415.6 L360.3,417.4 L360.8,419.2 L361.5,421.0 L362.0,422.9 L363.0,424.6 L363.8,426.4 L364.8,428.1 L365.8,429.7 L367.0,431.3 L368.0,433.0 L369.0,434.7 L369.9,436.5 L371.1,438.1 L372.3,439.7 L373.5,441.3 L374.8,442.9 L376.0,444.6 L377.2,446.2 L378.7,447.6 L380.3,448.9 L382.0,450.1 L383.4,451.6 L385.0,452.9 L386.7,454.1 L388.4,455.3 L390.1,456.4 L391.9,457.5 L393.8,458.4 L395.6,459.3 L397.6,460.0 L399.5,460.9 L401.4,461.7 L403.4,462.3 L405.5,462.7 L407.4,463.4 L409.4,464.0 L411.4,464.5 L413.5,464.8 L415.6,465.2 L417.7,465.2 L419.8,465.1 L421.9,464.8 L423.9,464.7 L426.0,464.4 L428.0,464.1 L430.1,463.7 L432.1,463.1 L434.0,462.5 L436.0,462.1 L438.0,461.9 L439.9,461.1 L441.8,460.5 L443.7,459.9 L445.6,459.2 L447.4,458.4 L449.2,457.5 L451.0,456.6 L452.7,455.6 L454.4,454.6 L456.2,453.9 L457.8,452.8 L459.3,451.5 L460.9,450.2 L462.4,449.0 L464.0,448.1 L465.5,446.8 L467.0,445.7 L468.3,444.2 L469.7,443.0 L471.2,441.8 L472.6,440.6 L473.9,439.2 L475.2,437.9 L476.6,436.6 L478.0,435.4 L479.4,434.1 L480.5,432.5 L482.0,431.4 L483.1,429.8 L484.4,428.4 L485.6,427.0 L486.8,425.5 L488.1,424.0 L489.4,422.6 L490.4,421.0 L491.4,419.3 L492.1,417.5 L493.0,415.8 L493.9,414.1 L494.8,412.4 L495.9,410.8 L496.8,409.0 L497.5,407.2 L498.4,405.4 L499.0,403.5 L499.7,401.7 L500.4,399.8 L501.0,397.9 L501.6,395.9 L501.7,394.0 L501.9,392.0 L501.9,390.0 L501.8,388.0Z" fill="#86c9f5" stroke="none"/>
<path d="M501.0,386.0 L500.9,384.0 L500.7,382.1 L500.5,380.1 L500.2,378.2 L499.9,376.3 L499.5,374.4 L499.1,372.5 L498.6,370.6 L498.1,368.7 L497.6,366.8 L496.9,365.0 L496.3,363.2 L495.6,361.4 L494.8,359.6 L494.0,357.8 L493.2,356.1 L492.3,354.4 L491.4,352.7 L490.5,351.0 L489.5,349.3 L488.5,347.7 L487.5,346.0 L486.5,344.4 L485.4,342.8 L484.4,341.2 L483.3,339.6 L482.1,338.1 L481.0,336.5 L479.8,335.0 L478.6,333.4 L477.3,331.9 L476.0,330.5 L474.7,329.0 L473.3,327.5 L472.0,326.1 L470.6,324.7 L469.1,323.3 L467.6,321.9 L466.1,320.5 L464.6,319.1 L463.0,317.8 L461.4,316.5 L459.7,315.3 L458.0,314.1 L456.3,312.9 L454.5,311.9 L452.6,310.8 L450.7,309.9 L448.8,308.9 L446.9,308.1 L444.9,307.3 L442.9,306.5 L440.9,305.8 L438.8,305.2 L436.7,304.6 L434.6,304.2 L432.5,304.0 L430.3,303.8 L428.2,303.7 L426.0,303.8 L423.9,304.0 L421.7,304.3 L419.6,304.7 L417.5,305.2 L415.4,305.7 L413.4,306.2 L411.3,306.7 L409.3,307.3 L407.2,307.8 L405.2,308.3 L403.1,308.8 L401.1,309.4 L399.1,310.0 L397.1,310.8 L395.2,311.7 L393.4,312.8 L391.7,314.1 L390.0,315.4 L388.4,316.8 L386.9,318.3 L385.4,319.7 L383.9,321.2 L382.5,322.7 L381.1,324.2 L379.7,325.7 L378.4,327.3 L377.2,328.8 L375.9,330.4 L374.7,332.0 L373.6,333.6 L372.4,335.2 L371.3,336.8 L370.3,338.4 L369.2,340.0 L368.2,341.6 L367.2,343.3 L366.2,344.9 L365.3,346.6 L364.4,348.2 L363.5,349.9 L362.7,351.6 L361.9,353.3 L361.1,355.1 L360.4,356.8 L359.7,358.6 L359.1,360.3 L358.5,362.1 L358.0,363.9 L357.5,365.7 L357.0,367.5 L356.6,369.3 L356.2,371.2 L355.8,373.0 L355.4,374.8 L355.1,376.7 L354.8,378.5 L354.5,380.4 L354.3,382.2 L354.1,384.1 L354.0,386.0 L354.0,387.9 L354.1,389.8 L354.3,391.6 L354.5,393.5 L354.8,395.4 L355.0,397.2 L355.3,399.1 L355.6,401.0 L356.0,402.8 L356.3,404.7 L356.8,406.5 L357.2,408.3 L357.8,410.2 L358.4,412.0 L359.0,413.7 L359.7,415.5 L360.4,417.3 L361.1,419.1 L361.9,420.8 L362.7,422.6 L363.5,424.3 L364.3,426.0 L365.2,427.8 L366.1,429.5 L367.1,431.2 L368.1,432.9 L369.1,434.6 L370.2,436.2 L371.3,437.9 L372.5,439.5 L373.7,441.1 L375.0,442.7 L376.3,444.2 L377.7,445.7 L379.1,447.2 L380.5,448.6 L382.1,449.9 L383.6,451.2 L385.3,452.5 L386.9,453.7 L388.6,454.8 L390.4,455.9 L392.2,456.9 L394.0,457.8 L395.9,458.7 L397.8,459.5 L399.7,460.3 L401.6,461.0 L403.6,461.6 L405.6,462.2 L407.6,462.7 L409.6,463.2 L411.6,463.6 L413.7,463.9 L415.7,464.1 L417.8,464.3 L419.8,464.3 L421.9,464.2 L424.0,464.0 L426.0,463.8 L428.0,463.5 L430.0,463.1 L432.0,462.7 L434.0,462.2 L436.0,461.7 L437.9,461.1 L439.8,460.4 L441.7,459.8 L443.5,459.0 L445.4,458.2 L447.2,457.4 L448.9,456.6 L450.7,455.7 L452.4,454.7 L454.1,453.8 L455.7,452.8 L457.4,451.7 L459.0,450.7 L460.5,449.6 L462.1,448.5 L463.6,447.3 L465.1,446.2 L466.6,445.0 L468.0,443.9 L469.5,442.7 L470.9,441.5 L472.3,440.2 L473.7,439.0 L475.1,437.7 L476.4,436.4 L477.7,435.1 L479.0,433.7 L480.3,432.4 L481.5,431.0 L482.8,429.5 L483.9,428.1 L485.1,426.6 L486.2,425.1 L487.3,423.6 L488.3,422.0 L489.4,420.4 L490.4,418.8 L491.3,417.2 L492.3,415.5 L493.2,413.8 L494.1,412.2 L495.0,410.4 L495.9,408.7 L496.7,407.0 L497.5,405.2 L498.2,403.3 L498.8,401.5 L499.4,399.6 L499.9,397.7 L500.3,395.8 L500.6,393.8 L500.9,391.9 L501.0,389.9 L501.1,388.0Z" fill="#78c1f3" stroke="none"/>
<path d="M500.6,386.0 L500.4,384.1 L500.3,382.1 L500.0,380.2 L499.7,378.3 L499.3,376.3 L498.9,374.4 L498.5,372.6 L498.0,370.7 L497.5,368.8 L496.9,367.0 L496.3,365.2 L495.6,363.4 L494.9,361.6 L494.1,359.9 L493.3,358.1 L492.5,356.4 L491.6,354.7 L490.7,353.0 L489.8,351.4 L488.8,349.7 L487.8,348.1 L486.8,346.5 L485.8,344.9 L484.7,343.3 L483.6,341.8 L482.5,340.2 L481.4,338.7 L480.3,337.1 L479.1,335.6 L477.9,334.1 L476.6,332.6 L475.4,331.2 L474.1,329.7 L472.7,328.3 L471.4,326.9 L470.0,325.4 L468.6,324.0 L467.1,322.6 L465.7,321.3 L464.1,319.9 L462.6,318.6 L461.0,317.3 L459.4,316.1 L457.7,314.9 L455.9,313.7 L454.2,312.6 L452.3,311.6 L450.5,310.6 L448.6,309.7 L446.7,308.9 L444.7,308.0 L442.7,307.3 L440.7,306.6 L438.7,306.0 L436.6,305.5 L434.5,305.1 L432.4,304.8 L430.3,304.6 L428.1,304.6 L426.0,304.6 L423.9,304.9 L421.8,305.2 L419.7,305.6 L417.6,306.1 L415.5,306.6 L413.5,307.1 L411.5,307.7 L409.5,308.2 L407.5,308.8 L405.4,309.3 L403.4,309.8 L401.4,310.4 L399.5,311.0 L397.5,311.8 L395.7,312.7 L393.9,313.8 L392.2,315.0 L390.5,316.4 L388.9,317.8 L387.4,319.2 L385.9,320.6 L384.5,322.1 L383.1,323.6 L381.7,325.1 L380.4,326.6 L379.2,328.2 L377.9,329.7 L376.8,331.3 L375.6,332.9 L374.5,334.5 L373.4,336.1 L372.3,337.7 L371.3,339.3 L370.3,340.9 L369.2,342.5 L368.2,344.0 L367.3,345.6 L366.3,347.2 L365.4,348.9 L364.5,350.5 L363.7,352.2 L362.9,353.8 L362.1,355.5 L361.4,357.2 L360.7,359.0 L360.1,360.7 L359.5,362.4 L358.9,364.2 L358.4,366.0 L357.9,367.7 L357.4,369.5 L357.0,371.3 L356.6,373.1 L356.2,374.9 L355.8,376.8 L355.5,378.6 L355.1,380.4 L354.9,382.3 L354.7,384.1 L354.6,386.0 L354.6,387.9 L354.8,389.7 L354.9,391.6 L355.2,393.4 L355.4,395.3 L355.7,397.1 L356.0,399.0 L356.4,400.8 L356.7,402.6 L357.1,404.5 L357.6,406.3 L358.0,408.1 L358.6,409.9 L359.2,411.6 L359.8,413.4 L360.5,415.2 L361.2,416.9 L361.9,418.7 L362.7,420.4 L363.4,422.1 L364.2,423.8 L365.1,425.6 L365.9,427.3 L366.8,429.0 L367.8,430.7 L368.7,432.4 L369.7,434.1 L370.8,435.7 L371.9,437.4 L373.0,439.0 L374.2,440.6 L375.4,442.2 L376.7,443.7 L378.1,445.2 L379.5,446.6 L380.9,448.0 L382.4,449.4 L384.0,450.7 L385.6,451.9 L387.3,453.1 L389.0,454.2 L390.7,455.2 L392.5,456.2 L394.3,457.2 L396.2,458.0 L398.0,458.8 L399.9,459.6 L401.9,460.3 L403.8,460.9 L405.8,461.5 L407.7,462.0 L409.7,462.5 L411.8,462.9 L413.8,463.2 L415.8,463.4 L417.9,463.5 L419.9,463.6 L421.9,463.5 L424.0,463.3 L426.0,463.1 L428.0,462.8 L430.0,462.4 L432.0,462.0 L433.9,461.5 L435.9,460.9 L437.8,460.3 L439.7,459.7 L441.5,459.0 L443.3,458.2 L445.1,457.4 L446.9,456.6 L448.6,455.7 L450.4,454.8 L452.0,453.8 L453.7,452.9 L455.3,451.8 L456.9,450.8 L458.5,449.7 L460.0,448.6 L461.5,447.5 L463.0,446.4 L464.5,445.3 L466.0,444.1 L467.4,443.0 L468.8,441.8 L470.3,440.6 L471.6,439.4 L473.0,438.2 L474.4,437.0 L475.7,435.7 L477.0,434.4 L478.3,433.1 L479.6,431.8 L480.9,430.4 L482.1,429.0 L483.2,427.6 L484.4,426.1 L485.5,424.7 L486.6,423.1 L487.7,421.6 L488.7,420.0 L489.7,418.4 L490.6,416.8 L491.6,415.2 L492.5,413.5 L493.4,411.9 L494.3,410.2 L495.2,408.5 L496.0,406.7 L496.8,405.0 L497.5,403.2 L498.1,401.3 L498.7,399.5 L499.2,397.6 L499.7,395.7 L500.0,393.8 L500.3,391.8 L500.5,389.9 L500.6,388.0Z" fill="#6db9ef" stroke="none"/>
<path d="M500.0,386.0 L499.9,384.1 L499.6,382.1 L499.3,380.2 L499.0,378.3 L498.6,376.4 L498.2,374.6 L497.7,372.7 L497.2,370.9 L496.6,369.0 L496.0,367.2 L495.4,365.4 L494.7,363.7 L494.0,361.9 L493.2,360.2 L492.4,358.5 L491.6,356.8 L490.7,355.1 L489.8,353.5 L488.8,351.9 L487.9,350.3 L486.9,348.7 L485.9,347.1 L484.8,345.6 L483.8,344.0 L482.7,342.5 L481.6,340.9 L480.5,339.4 L479.4,337.9 L478.2,336.4 L477.0,335.0 L475.8,333.5 L474.5,332.1 L473.3,330.7 L472.0,329.2 L470.6,327.8 L469.3,326.4 L467.9,325.0 L466.5,323.7 L465.0,322.3 L463.6,320.9 L462.1,319.6 L460.5,318.3 L458.9,317.1 L457.2,315.9 L455.5,314.7 L453.8,313.6 L452.0,312.6 L450.2,311.6 L448.3,310.7 L446.4,309.8 L444.5,309.0 L442.5,308.3 L440.5,307.6 L438.5,307.0 L436.5,306.5 L434.4,306.1 L432.3,305.8 L430.2,305.6 L428.1,305.6 L426.0,305.7 L423.9,305.9 L421.8,306.3 L419.8,306.7 L417.7,307.2 L415.7,307.7 L413.7,308.3 L411.7,308.9 L409.7,309.4 L407.8,310.0 L405.8,310.5 L403.8,311.1 L401.9,311.7 L399.9,312.3 L398.0,313.1 L396.2,314.0 L394.4,315.1 L392.8,316.3 L391.1,317.6 L389.6,318.9 L388.1,320.3 L386.6,321.7 L385.2,323.2 L383.8,324.7 L382.5,326.2 L381.3,327.7 L380.1,329.3 L378.9,330.9 L377.8,332.5 L376.8,334.1 L375.7,335.7 L374.7,337.3 L373.6,338.9 L372.6,340.4 L371.6,341.9 L370.6,343.5 L369.6,345.0 L368.6,346.6 L367.7,348.1 L366.8,349.7 L365.9,351.3 L365.0,352.9 L364.2,354.5 L363.4,356.1 L362.6,357.8 L361.9,359.5 L361.3,361.2 L360.6,362.9 L360.1,364.6 L359.5,366.3 L359.0,368.0 L358.5,369.8 L358.1,371.6 L357.7,373.3 L357.2,375.1 L356.8,376.9 L356.4,378.7 L356.0,380.5 L355.7,382.3 L355.5,384.2 L355.4,386.0 L355.4,387.8 L355.5,389.7 L355.7,391.5 L356.0,393.4 L356.3,395.2 L356.6,397.0 L356.9,398.8 L357.3,400.6 L357.7,402.4 L358.1,404.2 L358.6,406.0 L359.1,407.7 L359.6,409.5 L360.2,411.2 L360.9,413.0 L361.5,414.7 L362.2,416.4 L362.9,418.1 L363.7,419.8 L364.4,421.6 L365.2,423.3 L366.0,425.0 L366.8,426.7 L367.7,428.4 L368.6,430.1 L369.5,431.7 L370.5,433.4 L371.5,435.1 L372.6,436.7 L373.7,438.3 L374.8,439.9 L376.0,441.5 L377.3,443.0 L378.6,444.5 L380.0,446.0 L381.4,447.3 L382.9,448.7 L384.5,450.0 L386.1,451.2 L387.7,452.3 L389.4,453.4 L391.1,454.4 L392.9,455.4 L394.7,456.3 L396.5,457.2 L398.4,458.0 L400.2,458.7 L402.1,459.4 L404.1,460.1 L406.0,460.7 L408.0,461.2 L409.9,461.6 L411.9,462.0 L413.9,462.3 L415.9,462.5 L417.9,462.6 L420.0,462.6 L422.0,462.5 L424.0,462.4 L426.0,462.1 L428.0,461.8 L430.0,461.4 L431.9,461.0 L433.8,460.5 L435.7,460.0 L437.6,459.4 L439.5,458.7 L441.3,458.0 L443.1,457.2 L444.9,456.4 L446.6,455.5 L448.3,454.6 L450.0,453.7 L451.6,452.7 L453.2,451.7 L454.8,450.7 L456.3,449.6 L457.8,448.5 L459.3,447.4 L460.8,446.3 L462.3,445.2 L463.7,444.1 L465.2,443.0 L466.6,441.9 L468.0,440.7 L469.4,439.6 L470.8,438.4 L472.1,437.3 L473.5,436.1 L474.8,434.8 L476.2,433.6 L477.5,432.3 L478.7,431.0 L480.0,429.7 L481.2,428.3 L482.4,427.0 L483.5,425.5 L484.6,424.1 L485.7,422.6 L486.8,421.1 L487.8,419.6 L488.8,418.0 L489.7,416.4 L490.7,414.8 L491.6,413.2 L492.5,411.5 L493.3,409.8 L494.2,408.2 L495.0,406.4 L495.8,404.7 L496.5,402.9 L497.2,401.1 L497.8,399.3 L498.4,397.5 L498.9,395.6 L499.3,393.7 L499.6,391.8 L499.9,389.9 L500.0,387.9Z" fill="#62b1eb" stroke="#0c2a55" stroke-width="0.7" stroke-opacity="0.9"/>
<path d="M499.1,386.0 L499.0,384.1 L498.8,382.2 L498.4,380.3 L498.0,378.4 L497.6,376.6 L497.1,374.7 L496.6,372.9 L496.0,371.1 L495.4,369.3 L494.8,367.6 L494.1,365.8 L493.4,364.1 L492.7,362.4 L491.9,360.7 L491.1,359.0 L490.3,357.4 L489.4,355.8 L488.5,354.2 L487.5,352.6 L486.5,351.0 L485.5,349.5 L484.5,348.0 L483.5,346.5 L482.5,345.0 L481.4,343.5 L480.3,342.0 L479.2,340.5 L478.1,339.1 L477.0,337.6 L475.8,336.2 L474.6,334.8 L473.4,333.4 L472.1,332.0 L470.8,330.6 L469.5,329.3 L468.2,327.9 L466.9,326.5 L465.5,325.1 L464.2,323.7 L462.7,322.4 L461.3,321.0 L459.8,319.8 L458.2,318.5 L456.6,317.3 L454.9,316.1 L453.2,315.1 L451.5,314.0 L449.7,313.1 L447.9,312.1 L446.0,311.3 L444.1,310.5 L442.2,309.8 L440.3,309.1 L438.3,308.5 L436.3,308.0 L434.2,307.6 L432.2,307.3 L430.1,307.2 L428.1,307.1 L426.0,307.2 L423.9,307.5 L421.9,307.8 L419.9,308.3 L417.9,308.8 L415.9,309.4 L414.0,310.0 L412.0,310.6 L410.1,311.2 L408.2,311.8 L406.3,312.3 L404.4,312.9 L402.5,313.5 L400.6,314.2 L398.8,315.0 L397.0,315.9 L395.3,317.0 L393.6,318.1 L392.0,319.4 L390.5,320.7 L389.1,322.0 L387.6,323.4 L386.3,324.8 L384.9,326.3 L383.7,327.8 L382.5,329.4 L381.4,331.0 L380.4,332.6 L379.4,334.2 L378.4,335.9 L377.5,337.5 L376.5,339.0 L375.5,340.5 L374.5,342.0 L373.5,343.5 L372.5,345.0 L371.6,346.4 L370.6,347.9 L369.6,349.4 L368.7,350.9 L367.8,352.4 L366.9,353.9 L366.1,355.5 L365.2,357.0 L364.5,358.6 L363.7,360.2 L363.0,361.8 L362.4,363.5 L361.7,365.1 L361.2,366.8 L360.6,368.5 L360.1,370.2 L359.7,371.9 L359.2,373.6 L358.7,375.3 L358.2,377.1 L357.7,378.8 L357.2,380.6 L356.8,382.4 L356.6,384.2 L356.5,386.0 L356.5,387.8 L356.7,389.6 L356.9,391.4 L357.2,393.2 L357.5,395.0 L357.9,396.8 L358.2,398.6 L358.6,400.3 L359.1,402.1 L359.5,403.8 L360.0,405.5 L360.5,407.3 L361.1,409.0 L361.7,410.7 L362.4,412.4 L363.0,414.0 L363.7,415.7 L364.4,417.4 L365.1,419.1 L365.8,420.7 L366.6,422.4 L367.4,424.1 L368.1,425.8 L369.0,427.4 L369.8,429.1 L370.7,430.8 L371.6,432.5 L372.6,434.1 L373.6,435.8 L374.6,437.4 L375.7,439.0 L376.9,440.5 L378.1,442.1 L379.4,443.5 L380.7,445.0 L382.2,446.4 L383.6,447.7 L385.1,448.9 L386.7,450.1 L388.3,451.2 L390.0,452.3 L391.7,453.3 L393.4,454.2 L395.2,455.1 L397.0,456.0 L398.8,456.8 L400.7,457.5 L402.5,458.2 L404.4,458.8 L406.3,459.4 L408.3,459.9 L410.2,460.3 L412.2,460.7 L414.1,461.0 L416.1,461.2 L418.1,461.2 L420.1,461.2 L422.1,461.2 L424.0,461.0 L426.0,460.7 L427.9,460.4 L429.9,460.1 L431.8,459.7 L433.7,459.2 L435.6,458.6 L437.4,458.0 L439.2,457.3 L441.0,456.6 L442.7,455.8 L444.5,454.9 L446.1,454.0 L447.8,453.0 L449.4,452.1 L451.0,451.0 L452.5,450.0 L454.0,448.9 L455.5,447.8 L457.0,446.7 L458.4,445.6 L459.8,444.5 L461.2,443.4 L462.6,442.4 L464.0,441.3 L465.4,440.2 L466.8,439.1 L468.2,438.1 L469.5,437.0 L470.9,435.8 L472.2,434.7 L473.6,433.6 L474.9,432.4 L476.2,431.2 L477.4,429.9 L478.7,428.7 L479.9,427.4 L481.1,426.0 L482.3,424.7 L483.4,423.3 L484.5,421.8 L485.5,420.4 L486.5,418.9 L487.5,417.3 L488.5,415.8 L489.4,414.2 L490.3,412.6 L491.1,411.0 L492.0,409.4 L492.8,407.7 L493.6,406.0 L494.4,404.3 L495.1,402.6 L495.9,400.8 L496.5,399.1 L497.2,397.3 L497.7,395.4 L498.2,393.6 L498.6,391.7 L498.9,389.8 L499.1,387.9Z" fill="#57a8e4" stroke="#0c2a55" stroke-width="0.7" stroke-opacity="0.9"/>
<path d="M497.9,386.0 L497.8,384.1 L497.5,382.3 L497.1,380.4 L496.6,378.6 L496.1,376.8 L495.6,375.0 L495.0,373.2 L494.4,371.5 L493.7,369.7 L493.1,368.0 L492.4,366.3 L491.7,364.7 L490.9,363.0 L490.1,361.4 L489.3,359.8 L488.5,358.2 L487.6,356.6 L486.6,355.1 L485.7,353.6 L484.7,352.1 L483.7,350.7 L482.7,349.2 L481.6,347.8 L480.6,346.3 L479.6,344.9 L478.5,343.5 L477.4,342.1 L476.3,340.7 L475.2,339.3 L474.1,337.9 L472.9,336.6 L471.7,335.2 L470.5,333.9 L469.3,332.6 L468.0,331.2 L466.8,329.9 L465.5,328.5 L464.2,327.1 L462.9,325.7 L461.6,324.4 L460.2,323.0 L458.7,321.7 L457.3,320.5 L455.7,319.3 L454.1,318.1 L452.5,317.0 L450.8,316.0 L449.1,315.0 L447.3,314.1 L445.5,313.3 L443.6,312.5 L441.8,311.8 L439.9,311.2 L437.9,310.6 L436.0,310.1 L434.0,309.7 L432.0,309.4 L430.0,309.3 L428.0,309.2 L426.0,309.3 L424.0,309.6 L422.0,310.0 L420.1,310.5 L418.1,311.1 L416.2,311.7 L414.3,312.3 L412.5,313.0 L410.6,313.6 L408.8,314.2 L406.9,314.8 L405.1,315.5 L403.3,316.1 L401.5,316.8 L399.8,317.6 L398.1,318.5 L396.4,319.5 L394.8,320.6 L393.3,321.8 L391.8,323.0 L390.4,324.3 L389.0,325.7 L387.7,327.0 L386.5,328.5 L385.3,330.0 L384.3,331.6 L383.3,333.3 L382.4,335.0 L381.6,336.6 L380.7,338.3 L379.9,339.9 L379.0,341.4 L378.1,342.9 L377.2,344.3 L376.2,345.7 L375.2,347.0 L374.3,348.4 L373.3,349.8 L372.3,351.1 L371.4,352.5 L370.5,353.9 L369.5,355.3 L368.7,356.8 L367.8,358.2 L367.0,359.7 L366.2,361.2 L365.4,362.8 L364.7,364.3 L364.1,365.9 L363.4,367.5 L362.9,369.1 L362.4,370.7 L361.9,372.4 L361.3,374.0 L360.7,375.7 L360.1,377.3 L359.5,379.0 L358.9,380.7 L358.5,382.5 L358.2,384.2 L358.1,386.0 L358.1,387.8 L358.3,389.6 L358.5,391.3 L358.9,393.1 L359.2,394.8 L359.6,396.5 L360.1,398.2 L360.5,399.9 L361.0,401.6 L361.5,403.3 L362.0,404.9 L362.6,406.6 L363.2,408.2 L363.8,409.9 L364.4,411.5 L365.1,413.1 L365.8,414.7 L366.4,416.3 L367.1,418.0 L367.8,419.6 L368.5,421.2 L369.2,422.9 L370.0,424.5 L370.7,426.2 L371.5,427.8 L372.3,429.5 L373.1,431.2 L374.0,432.8 L374.9,434.4 L375.9,436.1 L377.0,437.7 L378.1,439.2 L379.3,440.7 L380.5,442.2 L381.8,443.6 L383.2,445.0 L384.6,446.3 L386.1,447.5 L387.6,448.6 L389.2,449.7 L390.9,450.7 L392.5,451.7 L394.2,452.6 L395.9,453.5 L397.7,454.3 L399.5,455.1 L401.3,455.8 L403.1,456.5 L404.9,457.1 L406.8,457.7 L408.7,458.2 L410.6,458.6 L412.5,458.9 L414.4,459.1 L416.3,459.3 L418.3,459.4 L420.2,459.4 L422.2,459.3 L424.1,459.1 L426.0,458.8 L427.9,458.6 L429.8,458.2 L431.7,457.8 L433.5,457.3 L435.3,456.7 L437.1,456.1 L438.9,455.4 L440.6,454.6 L442.3,453.7 L443.9,452.8 L445.5,451.9 L447.1,450.9 L448.6,449.8 L450.1,448.8 L451.5,447.7 L453.0,446.6 L454.3,445.4 L455.7,444.3 L457.1,443.2 L458.4,442.1 L459.7,441.0 L461.1,440.0 L462.4,439.0 L463.7,438.0 L465.1,436.9 L466.4,435.9 L467.8,434.9 L469.1,433.9 L470.5,432.8 L471.8,431.8 L473.1,430.7 L474.4,429.6 L475.7,428.4 L476.9,427.2 L478.1,426.0 L479.3,424.7 L480.5,423.5 L481.6,422.1 L482.7,420.8 L483.8,419.3 L484.8,417.9 L485.8,416.4 L486.7,414.9 L487.6,413.4 L488.4,411.9 L489.2,410.3 L490.1,408.7 L490.9,407.1 L491.7,405.4 L492.5,403.8 L493.2,402.1 L494.0,400.5 L494.8,398.7 L495.5,397.0 L496.1,395.2 L496.7,393.4 L497.2,391.6 L497.6,389.8 L497.9,387.9Z" fill="#4c9fdd" stroke="#0c2a55" stroke-width="0.7" stroke-opacity="0.9"/>
<path d="M496.5,386.0 L496.4,384.2 L496.0,382.3 L495.5,380.5 L495.0,378.8 L494.4,377.0 L493.7,375.3 L493.1,373.6 L492.4,371.9 L491.7,370.2 L491.0,368.6 L490.2,367.0 L489.5,365.4 L488.7,363.8 L488.0,362.2 L487.1,360.7 L486.3,359.2 L485.3,357.7 L484.4,356.2 L483.4,354.8 L482.4,353.4 L481.4,352.0 L480.4,350.7 L479.4,349.3 L478.3,348.0 L477.3,346.6 L476.3,345.3 L475.2,344.0 L474.2,342.6 L473.1,341.3 L472.0,340.0 L470.8,338.8 L469.7,337.5 L468.5,336.2 L467.4,334.9 L466.2,333.6 L465.0,332.3 L463.8,330.9 L462.6,329.6 L461.4,328.2 L460.2,326.8 L458.9,325.5 L457.5,324.2 L456.1,322.9 L454.6,321.7 L453.1,320.5 L451.5,319.5 L449.9,318.4 L448.3,317.5 L446.6,316.6 L444.8,315.7 L443.1,315.0 L441.2,314.3 L439.4,313.7 L437.5,313.2 L435.7,312.7 L433.7,312.3 L431.8,312.0 L429.9,311.8 L427.9,311.8 L426.0,311.9 L424.1,312.2 L422.2,312.6 L420.3,313.2 L418.4,313.8 L416.6,314.5 L414.8,315.2 L413.0,315.9 L411.2,316.5 L409.5,317.2 L407.7,317.9 L406.0,318.6 L404.3,319.3 L402.6,320.0 L401.0,320.9 L399.4,321.7 L397.8,322.7 L396.3,323.7 L394.8,324.8 L393.4,325.9 L392.0,327.2 L390.7,328.4 L389.5,329.8 L388.3,331.2 L387.3,332.8 L386.4,334.4 L385.6,336.1 L384.9,337.9 L384.2,339.6 L383.5,341.2 L382.8,342.8 L382.1,344.3 L381.3,345.7 L380.4,347.1 L379.5,348.3 L378.5,349.6 L377.6,350.8 L376.6,352.1 L375.6,353.3 L374.7,354.5 L373.7,355.8 L372.8,357.1 L371.8,358.4 L370.9,359.7 L370.0,361.1 L369.2,362.5 L368.4,363.9 L367.6,365.3 L366.9,366.8 L366.2,368.3 L365.6,369.8 L365.1,371.4 L364.5,372.9 L363.9,374.5 L363.2,376.0 L362.4,377.6 L361.7,379.2 L361.0,380.9 L360.4,382.6 L360.1,384.3 L360.0,386.0 L360.0,387.7 L360.2,389.4 L360.5,391.2 L360.9,392.8 L361.3,394.5 L361.8,396.2 L362.3,397.8 L362.8,399.4 L363.4,401.0 L363.9,402.6 L364.5,404.2 L365.1,405.8 L365.7,407.3 L366.3,408.9 L367.0,410.4 L367.6,412.0 L368.3,413.5 L368.9,415.1 L369.6,416.6 L370.2,418.2 L370.9,419.8 L371.5,421.4 L372.2,423.0 L372.8,424.6 L373.5,426.3 L374.3,427.9 L375.0,429.6 L375.8,431.2 L376.6,432.8 L377.6,434.4 L378.5,436.0 L379.6,437.6 L380.6,439.1 L381.8,440.6 L383.1,442.0 L384.4,443.3 L385.8,444.5 L387.2,445.7 L388.7,446.8 L390.3,447.8 L391.9,448.8 L393.5,449.8 L395.2,450.7 L396.8,451.5 L398.5,452.3 L400.3,453.1 L402.0,453.8 L403.8,454.4 L405.6,455.0 L407.4,455.5 L409.2,456.0 L411.0,456.4 L412.9,456.7 L414.8,456.9 L416.6,457.0 L418.5,457.1 L420.4,457.0 L422.3,456.9 L424.1,456.8 L426.0,456.5 L427.8,456.3 L429.7,455.9 L431.5,455.5 L433.3,455.0 L435.0,454.4 L436.7,453.8 L438.4,453.0 L440.1,452.2 L441.7,451.3 L443.2,450.3 L444.7,449.3 L446.2,448.2 L447.6,447.1 L449.0,446.0 L450.4,444.8 L451.7,443.6 L452.9,442.5 L454.2,441.3 L455.4,440.2 L456.7,439.1 L457.9,438.1 L459.2,437.1 L460.4,436.1 L461.7,435.2 L463.0,434.3 L464.3,433.3 L465.7,432.4 L467.0,431.5 L468.3,430.6 L469.6,429.6 L470.9,428.6 L472.2,427.6 L473.5,426.6 L474.8,425.5 L476.0,424.4 L477.2,423.2 L478.3,422.0 L479.5,420.7 L480.6,419.4 L481.6,418.1 L482.6,416.7 L483.6,415.3 L484.5,413.9 L485.4,412.4 L486.2,410.9 L487.0,409.4 L487.7,407.9 L488.5,406.3 L489.3,404.7 L490.1,403.2 L490.9,401.6 L491.8,400.0 L492.6,398.3 L493.4,396.7 L494.2,395.0 L494.9,393.2 L495.6,391.5 L496.1,389.7 L496.4,387.8Z" fill="#4094d5" stroke="#0c2a55" stroke-width="0.7" stroke-opacity="0.9"/>
<path d="M494.9,386.0 L494.8,384.2 L494.4,382.4 L493.8,380.7 L493.1,378.9 L492.4,377.3 L491.7,375.6 L491.0,374.0 L490.2,372.3 L489.5,370.8 L488.7,369.2 L487.9,367.7 L487.2,366.1 L486.4,364.6 L485.6,363.1 L484.7,361.7 L483.9,360.2 L482.9,358.9 L482.0,357.5 L481.0,356.2 L479.9,354.9 L478.9,353.6 L477.9,352.3 L476.9,351.0 L475.9,349.8 L474.9,348.5 L473.8,347.3 L472.8,346.0 L471.8,344.8 L470.7,343.6 L469.7,342.3 L468.6,341.1 L467.5,339.9 L466.4,338.7 L465.3,337.5 L464.2,336.2 L463.1,334.9 L462.0,333.6 L460.9,332.3 L459.8,330.9 L458.6,329.5 L457.4,328.2 L456.1,326.8 L454.8,325.6 L453.5,324.3 L452.0,323.2 L450.5,322.1 L449.0,321.1 L447.4,320.1 L445.8,319.2 L444.1,318.4 L442.4,317.6 L440.7,317.0 L438.9,316.4 L437.1,315.9 L435.3,315.5 L433.4,315.1 L431.6,314.8 L429.7,314.6 L427.9,314.6 L426.0,314.7 L424.1,315.0 L422.3,315.5 L420.5,316.1 L418.7,316.9 L417.0,317.6 L415.3,318.3 L413.6,319.1 L411.9,319.8 L410.3,320.5 L408.6,321.2 L407.0,321.9 L405.4,322.7 L403.9,323.5 L402.3,324.3 L400.8,325.2 L399.3,326.1 L397.9,327.1 L396.5,328.1 L395.1,329.1 L393.8,330.2 L392.6,331.4 L391.4,332.7 L390.4,334.2 L389.5,335.7 L388.7,337.4 L388.1,339.2 L387.6,341.0 L387.1,342.8 L386.6,344.5 L386.0,346.0 L385.4,347.5 L384.7,348.8 L383.9,350.1 L383.1,351.2 L382.1,352.3 L381.2,353.4 L380.2,354.5 L379.2,355.6 L378.3,356.7 L377.3,357.9 L376.3,359.0 L375.3,360.2 L374.3,361.3 L373.4,362.6 L372.5,363.8 L371.6,365.1 L370.8,366.5 L370.0,367.8 L369.3,369.2 L368.6,370.6 L368.0,372.1 L367.4,373.5 L366.7,375.0 L365.9,376.5 L365.0,378.0 L364.1,379.5 L363.2,381.1 L362.6,382.7 L362.2,384.3 L362.0,386.0 L362.1,387.7 L362.3,389.3 L362.6,391.0 L363.1,392.6 L363.6,394.2 L364.1,395.8 L364.7,397.4 L365.3,398.9 L365.9,400.4 L366.6,401.9 L367.2,403.4 L367.8,404.9 L368.5,406.4 L369.1,407.8 L369.8,409.3 L370.4,410.8 L371.0,412.2 L371.7,413.7 L372.3,415.2 L372.9,416.7 L373.4,418.2 L374.0,419.8 L374.6,421.3 L375.2,422.9 L375.8,424.5 L376.4,426.2 L377.0,427.8 L377.7,429.5 L378.5,431.1 L379.3,432.7 L380.2,434.3 L381.1,435.8 L382.2,437.3 L383.3,438.8 L384.4,440.2 L385.7,441.5 L387.1,442.7 L388.5,443.8 L390.0,444.8 L391.5,445.8 L393.0,446.7 L394.6,447.6 L396.2,448.5 L397.8,449.3 L399.5,450.1 L401.1,450.8 L402.8,451.5 L404.5,452.1 L406.2,452.7 L408.0,453.2 L409.8,453.7 L411.5,454.0 L413.3,454.3 L415.2,454.5 L417.0,454.6 L418.8,454.6 L420.6,454.5 L422.4,454.4 L424.2,454.2 L426.0,454.0 L427.8,453.7 L429.5,453.4 L431.3,453.0 L433.0,452.5 L434.7,451.9 L436.3,451.2 L437.9,450.4 L439.5,449.5 L441.0,448.6 L442.5,447.5 L443.9,446.5 L445.3,445.3 L446.6,444.1 L447.8,442.9 L449.1,441.7 L450.3,440.5 L451.4,439.3 L452.5,438.1 L453.7,437.0 L454.8,435.9 L455.9,434.9 L457.1,433.9 L458.3,433.0 L459.5,432.2 L460.8,431.3 L462.1,430.5 L463.3,429.7 L464.6,428.9 L465.9,428.1 L467.3,427.3 L468.6,426.4 L469.9,425.5 L471.2,424.6 L472.4,423.6 L473.6,422.5 L474.8,421.5 L476.0,420.4 L477.1,419.2 L478.2,418.0 L479.3,416.8 L480.3,415.5 L481.2,414.2 L482.1,412.8 L483.0,411.4 L483.8,409.9 L484.5,408.4 L485.2,407.0 L485.9,405.5 L486.7,404.0 L487.5,402.5 L488.4,401.0 L489.3,399.5 L490.2,397.9 L491.2,396.3 L492.1,394.7 L492.9,393.0 L493.7,391.3 L494.3,389.6 L494.8,387.8Z" fill="#3489cb" stroke="#0c2a55" stroke-width="0.7" stroke-opacity="0.9"/>
<path d="M491.4,386.0 L491.4,384.3 L491.2,382.6 L490.7,380.9 L490.1,379.3 L489.3,377.7 L488.6,376.1 L487.8,374.5 L487.0,373.0 L486.2,371.5 L485.5,370.1 L484.7,368.6 L483.8,367.2 L482.9,365.8 L482.0,364.5 L480.9,363.2 L479.9,362.0 L478.8,360.8 L477.8,359.6 L476.8,358.4 L475.9,357.2 L474.9,356.0 L474.0,354.8 L473.1,353.6 L472.2,352.4 L471.3,351.2 L470.4,350.1 L469.5,348.9 L468.5,347.7 L467.6,346.6 L466.6,345.4 L465.6,344.3 L464.5,343.2 L463.4,342.2 L462.4,341.1 L461.3,340.0 L460.3,338.8 L459.3,337.6 L458.3,336.3 L457.3,335.0 L456.3,333.6 L455.2,332.2 L454.2,330.7 L453.0,329.3 L451.9,327.9 L450.6,326.6 L449.3,325.3 L447.9,324.1 L446.5,323.0 L445.0,321.9 L443.4,320.9 L441.8,320.0 L440.2,319.3 L438.5,318.7 L436.7,318.2 L435.0,317.8 L433.2,317.5 L431.4,317.3 L429.6,317.3 L427.8,317.4 L426.0,317.6 L424.2,318.0 L422.5,318.4 L420.7,319.0 L419.0,319.6 L417.4,320.3 L415.7,321.0 L414.1,321.7 L412.5,322.4 L410.9,323.1 L409.4,323.9 L407.8,324.7 L406.4,325.5 L404.9,326.4 L403.5,327.3 L402.1,328.2 L400.7,329.2 L399.4,330.2 L398.1,331.3 L397.0,332.5 L395.9,333.8 L394.9,335.2 L394.0,336.7 L393.3,338.4 L392.8,340.2 L392.3,342.1 L391.9,343.9 L391.5,345.6 L391.0,347.2 L390.4,348.5 L389.8,349.8 L389.1,351.0 L388.3,352.1 L387.6,353.2 L386.8,354.2 L385.9,355.3 L385.1,356.3 L384.2,357.3 L383.3,358.3 L382.4,359.3 L381.4,360.2 L380.4,361.2 L379.3,362.2 L378.3,363.2 L377.2,364.3 L376.3,365.4 L375.3,366.5 L374.4,367.7 L373.6,369.0 L372.8,370.2 L372.1,371.5 L371.4,372.9 L370.6,374.2 L369.9,375.6 L369.1,377.0 L368.2,378.4 L367.3,379.8 L366.4,381.3 L365.7,382.8 L365.1,384.4 L364.8,386.0 L364.6,387.6 L364.7,389.2 L365.1,390.8 L365.5,392.4 L366.1,393.9 L366.8,395.4 L367.5,396.8 L368.2,398.3 L368.9,399.7 L369.6,401.1 L370.3,402.5 L371.1,403.8 L371.8,405.2 L372.6,406.5 L373.4,407.8 L374.1,409.1 L374.8,410.4 L375.5,411.7 L376.1,413.1 L376.7,414.4 L377.3,415.8 L377.9,417.3 L378.4,418.7 L378.8,420.3 L379.3,421.9 L379.7,423.5 L380.2,425.1 L380.8,426.7 L381.4,428.3 L382.2,429.8 L383.0,431.4 L383.8,432.8 L384.8,434.2 L385.8,435.6 L386.9,437.0 L388.0,438.3 L389.2,439.5 L390.5,440.7 L391.8,441.8 L393.2,442.8 L394.6,443.8 L396.1,444.7 L397.6,445.5 L399.2,446.3 L400.8,447.0 L402.4,447.6 L404.0,448.1 L405.6,448.7 L407.3,449.2 L409.0,449.6 L410.6,450.0 L412.3,450.4 L414.0,450.8 L415.7,451.0 L417.4,451.2 L419.1,451.3 L420.9,451.3 L422.6,451.3 L424.3,451.2 L426.0,451.0 L427.7,450.6 L429.4,450.2 L431.0,449.7 L432.6,449.1 L434.2,448.4 L435.8,447.6 L437.3,446.7 L438.7,445.8 L440.1,444.7 L441.4,443.6 L442.7,442.4 L443.9,441.1 L445.1,439.9 L446.2,438.6 L447.3,437.4 L448.4,436.2 L449.4,435.1 L450.5,434.0 L451.5,433.0 L452.6,432.0 L453.7,431.1 L454.8,430.3 L455.9,429.5 L457.1,428.8 L458.2,428.0 L459.4,427.3 L460.6,426.5 L461.8,425.8 L463.0,425.0 L464.2,424.2 L465.5,423.4 L466.7,422.6 L467.9,421.8 L469.1,420.9 L470.3,420.0 L471.4,419.0 L472.6,418.0 L473.7,417.0 L474.8,415.9 L475.8,414.8 L476.8,413.6 L477.8,412.4 L478.8,411.2 L479.7,409.9 L480.6,408.6 L481.5,407.3 L482.3,405.9 L483.0,404.5 L483.7,403.1 L484.3,401.6 L484.9,400.1 L485.5,398.6 L486.2,397.2 L487.0,395.7 L487.9,394.1 L488.8,392.6 L489.7,391.0 L490.5,389.4 L491.1,387.7Z" fill="#2579c0" stroke="#0c2a55" stroke-width="0.7" stroke-opacity="0.9"/>
<path d="M486.9,386.0 L487.0,384.4 L486.8,382.8 L486.3,381.3 L485.6,379.7 L484.8,378.3 L484.1,376.8 L483.4,375.4 L482.8,373.9 L482.2,372.5 L481.7,371.1 L481.1,369.7 L480.4,368.3 L479.7,367.0 L478.9,365.7 L477.9,364.5 L476.9,363.3 L475.8,362.2 L474.7,361.2 L473.6,360.2 L472.5,359.1 L471.5,358.1 L470.6,357.1 L469.7,356.0 L468.9,354.8 L468.1,353.7 L467.4,352.5 L466.5,351.4 L465.7,350.3 L464.7,349.2 L463.8,348.2 L462.8,347.2 L461.8,346.2 L460.9,345.2 L459.9,344.2 L458.8,343.2 L457.8,342.2 L456.8,341.2 L455.8,340.2 L454.8,339.0 L453.8,337.8 L452.9,336.4 L452.0,334.9 L451.1,333.4 L450.1,331.9 L449.0,330.4 L447.9,329.1 L446.6,327.8 L445.3,326.5 L443.9,325.5 L442.5,324.5 L441.0,323.5 L439.5,322.7 L437.9,321.9 L436.2,321.3 L434.6,320.8 L432.9,320.4 L431.2,320.2 L429.5,320.1 L427.7,320.3 L426.0,320.5 L424.3,321.0 L422.6,321.6 L421.0,322.3 L419.4,323.0 L417.8,323.8 L416.3,324.6 L414.8,325.4 L413.3,326.1 L411.8,327.0 L410.4,327.8 L409.0,328.6 L407.7,329.5 L406.3,330.4 L405.0,331.4 L403.8,332.4 L402.6,333.4 L401.5,334.6 L400.5,335.9 L399.5,337.3 L398.7,338.8 L398.1,340.5 L397.6,342.3 L397.3,344.3 L397.0,346.1 L396.8,347.9 L396.5,349.5 L396.0,350.9 L395.4,352.0 L394.8,353.1 L394.1,354.1 L393.4,355.0 L392.6,355.9 L391.8,356.8 L390.9,357.6 L390.1,358.4 L389.2,359.2 L388.2,360.0 L387.3,360.8 L386.3,361.7 L385.2,362.5 L384.2,363.3 L383.2,364.2 L382.2,365.1 L381.3,366.1 L380.5,367.2 L379.7,368.2 L379.0,369.4 L378.3,370.5 L377.7,371.7 L377.1,372.9 L376.4,374.1 L375.7,375.3 L374.8,376.5 L373.9,377.7 L372.8,379.0 L371.7,380.3 L370.8,381.7 L370.0,383.1 L369.5,384.5 L369.2,386.0 L369.1,387.5 L369.2,389.0 L369.4,390.5 L369.8,391.9 L370.3,393.3 L371.0,394.7 L371.7,396.1 L372.6,397.3 L373.6,398.6 L374.5,399.8 L375.5,401.0 L376.4,402.1 L377.4,403.2 L378.3,404.3 L379.1,405.4 L379.9,406.5 L380.7,407.6 L381.5,408.7 L382.2,409.8 L382.9,410.9 L383.5,412.1 L383.9,413.3 L384.3,414.6 L384.6,416.0 L384.9,417.5 L385.1,419.1 L385.4,420.7 L385.7,422.3 L386.0,423.9 L386.5,425.5 L387.0,427.1 L387.7,428.6 L388.4,430.0 L389.3,431.4 L390.2,432.7 L391.2,433.9 L392.3,435.0 L393.5,436.1 L394.7,437.2 L395.9,438.2 L397.2,439.1 L398.5,440.0 L399.8,440.9 L401.2,441.7 L402.6,442.5 L404.0,443.2 L405.5,443.9 L407.0,444.5 L408.5,445.0 L410.0,445.5 L411.6,446.0 L413.2,446.4 L414.7,446.7 L416.3,447.0 L417.9,447.2 L419.6,447.4 L421.2,447.5 L422.8,447.5 L424.4,447.5 L426.0,447.4 L427.6,447.1 L429.2,446.6 L430.7,446.0 L432.2,445.2 L433.7,444.2 L435.1,443.2 L436.4,442.0 L437.7,440.9 L438.9,439.6 L440.0,438.4 L441.1,437.1 L442.2,435.8 L443.2,434.5 L444.2,433.3 L445.1,432.1 L446.0,431.0 L446.9,429.9 L447.8,428.9 L448.8,427.9 L449.7,427.1 L450.7,426.3 L451.8,425.7 L452.8,425.0 L453.9,424.4 L455.0,423.8 L456.1,423.2 L457.2,422.6 L458.4,422.0 L459.5,421.3 L460.7,420.7 L461.9,420.0 L463.0,419.3 L464.1,418.6 L465.3,417.8 L466.3,417.0 L467.4,416.1 L468.5,415.2 L469.5,414.3 L470.6,413.3 L471.7,412.4 L472.7,411.4 L473.8,410.4 L474.9,409.3 L475.9,408.2 L476.8,407.0 L477.7,405.8 L478.5,404.6 L479.2,403.3 L479.8,401.9 L480.4,400.6 L481.0,399.2 L481.6,397.8 L482.2,396.4 L482.9,395.0 L483.7,393.6 L484.4,392.1 L485.2,390.7 L486.0,389.1 L486.6,387.6Z" fill="#116ab3" stroke="#0c2a55" stroke-width="0.7" stroke-opacity="0.9"/>
<path d="M479.3,386.0 L479.4,384.6 L479.4,383.2 L479.3,381.8 L479.1,380.4 L478.8,379.1 L478.4,377.7 L477.9,376.4 L477.4,375.1 L476.9,373.8 L476.3,372.5 L475.8,371.3 L475.1,370.0 L474.3,368.9 L473.4,367.8 L472.4,366.8 L471.4,365.8 L470.4,364.8 L469.4,363.9 L468.4,363.0 L467.5,362.1 L466.5,361.2 L465.7,360.2 L465.0,359.2 L464.4,358.1 L463.9,356.9 L463.3,355.8 L462.6,354.7 L461.9,353.6 L461.2,352.6 L460.4,351.6 L459.6,350.6 L458.7,349.7 L457.8,348.8 L456.9,347.9 L455.9,347.0 L455.0,346.1 L454.0,345.3 L453.0,344.4 L452.0,343.6 L451.0,342.7 L450.1,341.6 L449.2,340.4 L448.4,339.0 L447.6,337.6 L446.7,336.1 L445.7,334.8 L444.6,333.5 L443.4,332.3 L442.2,331.2 L441.0,330.2 L439.6,329.2 L438.3,328.3 L436.8,327.6 L435.4,326.9 L433.8,326.4 L432.3,326.0 L430.7,325.7 L429.2,325.5 L427.6,325.5 L426.0,325.8 L424.4,326.3 L422.9,327.0 L421.4,327.8 L420.0,328.8 L418.6,329.7 L417.2,330.7 L415.9,331.6 L414.7,332.7 L413.5,333.8 L412.3,335.0 L411.3,336.4 L410.4,338.0 L409.6,339.7 L409.0,341.6 L408.6,343.9 L408.3,346.3 L408.1,348.5 L407.8,350.4 L407.5,351.9 L407.0,353.2 L406.5,354.2 L405.9,355.1 L405.3,355.8 L404.6,356.6 L403.9,357.2 L403.2,357.9 L402.5,358.5 L401.8,359.1 L401.1,359.7 L400.3,360.3 L399.5,360.9 L398.7,361.4 L397.9,362.0 L397.0,362.5 L396.1,363.0 L395.2,363.6 L394.3,364.2 L393.5,364.9 L392.6,365.5 L391.7,366.2 L390.8,366.9 L389.9,367.6 L389.0,368.4 L388.2,369.2 L387.4,370.0 L386.7,370.9 L386.1,371.9 L385.6,372.9 L385.1,373.9 L384.6,374.9 L384.0,375.9 L383.2,376.9 L382.3,377.9 L381.4,378.9 L380.5,380.0 L379.8,381.1 L379.3,382.3 L379.0,383.5 L378.8,384.8 L378.8,386.0 L378.9,387.2 L379.1,388.5 L379.4,389.7 L379.8,390.9 L380.3,392.0 L380.8,393.2 L381.5,394.2 L382.3,395.3 L383.2,396.3 L384.2,397.2 L385.4,398.0 L386.5,398.8 L387.7,399.6 L388.8,400.3 L389.9,400.9 L391.0,401.6 L392.1,402.2 L393.0,402.8 L393.9,403.5 L394.7,404.1 L395.5,404.7 L396.2,405.3 L396.9,406.0 L397.5,406.7 L398.1,407.4 L398.6,408.2 L399.0,409.0 L399.4,409.9 L399.7,410.9 L400.0,412.0 L400.3,413.1 L400.5,414.3 L400.6,415.7 L400.8,417.2 L400.9,418.7 L401.1,420.2 L401.4,421.8 L401.8,423.3 L402.2,424.8 L402.8,426.2 L403.4,427.6 L404.1,428.9 L404.9,430.2 L405.8,431.4 L406.8,432.4 L407.8,433.4 L408.9,434.3 L410.0,435.2 L411.2,436.0 L412.4,436.8 L413.6,437.5 L414.9,438.1 L416.2,438.6 L417.6,439.1 L419.0,439.4 L420.4,439.7 L421.8,439.8 L423.2,439.9 L424.6,439.7 L426.0,439.3 L427.4,438.7 L428.7,437.9 L430.0,436.9 L431.2,435.8 L432.4,434.7 L433.5,433.5 L434.6,432.2 L435.5,430.9 L436.5,429.7 L437.4,428.5 L438.2,427.3 L439.1,426.2 L439.9,425.1 L440.7,424.2 L441.5,423.4 L442.3,422.7 L443.2,422.1 L444.1,421.6 L445.1,421.1 L446.0,420.7 L447.0,420.3 L448.0,419.8 L449.0,419.4 L450.0,419.0 L451.0,418.6 L452.1,418.2 L453.1,417.8 L454.2,417.3 L455.3,416.8 L456.3,416.3 L457.4,415.8 L458.4,415.2 L459.4,414.5 L460.4,413.9 L461.4,413.1 L462.3,412.4 L463.3,411.6 L464.2,410.8 L465.1,410.0 L466.0,409.1 L466.9,408.2 L467.7,407.3 L468.6,406.3 L469.5,405.4 L470.3,404.4 L471.2,403.3 L472.0,402.3 L472.8,401.2 L473.5,400.1 L474.2,398.9 L474.7,397.7 L475.3,396.5 L476.0,395.3 L476.7,394.0 L477.3,392.8 L477.9,391.5 L478.4,390.1 L478.8,388.8 L479.1,387.4Z" fill="#0657a5" stroke="#0c2a55" stroke-width="0.7" stroke-opacity="0.9"/>
<ellipse cx="428.2" cy="344.6" rx="4.8" ry="6.0" fill="#1e4497" stroke="#0c2a55" stroke-width="0.7" stroke-opacity="0.9"/>
<path d="M500.8,386.0 L500.9,384.0 L500.9,382.1 L500.5,380.1 L500.2,378.2 L499.5,376.3 L499.8,374.3 L499.7,372.3 L499.0,370.5 L498.2,368.7 L497.7,366.8 L497.3,364.9 L496.7,363.0 L495.7,361.3 L494.7,359.6 L493.8,357.9 L492.9,356.2 L492.1,354.5 L491.2,352.8 L490.6,350.9 L489.7,349.2 L488.7,347.5 L487.5,346.0 L486.7,344.3 L485.8,342.6 L484.8,340.9 L484.1,338.9 L483.0,337.3 L481.6,335.9 L480.1,334.6 L479.0,333.0 L477.9,331.3 L476.2,330.2 L474.7,329.0 L473.4,327.5 L472.1,325.9 L470.8,324.3 L469.3,322.9 L468.0,321.4 L466.4,320.0 L464.8,318.8 L463.2,317.6 L461.6,316.1 L459.9,314.9 L458.2,313.8 L456.4,312.7 L454.7,311.3 L452.9,310.2 L450.8,309.6 L448.9,308.7 L447.0,307.8 L445.0,306.9 L443.0,306.1 L441.0,305.3 L439.0,304.2 L436.8,303.9 L434.6,304.0 L432.5,303.8 L430.3,303.9 L428.2,303.4 L426.0,303.4 L423.8,303.6 L421.7,304.1 L419.6,304.8 L417.5,304.9 L415.3,305.1 L413.3,305.6 L411.2,306.1 L409.2,307.2 L407.2,307.7 L405.2,308.3 L403.1,308.6 L401.1,309.4 L399.0,309.9 L397.1,310.8 L395.2,311.6 L393.3,312.5 L391.5,313.6 L389.7,314.7 L388.0,316.1 L386.5,317.5 L384.9,318.9 L383.3,320.2 L381.9,321.9 L380.7,323.6 L379.4,325.3 L377.8,326.5 L376.3,327.8 L375.0,329.3 L373.7,330.9 L372.6,332.6 L371.5,334.2 L370.0,335.5 L368.7,337.1 L367.7,338.8 L367.1,340.8 L366.1,342.5 L364.9,344.0 L363.8,345.6 L363.1,347.4 L362.6,349.4 L362.0,351.3 L361.2,353.0 L360.6,354.8 L359.6,356.4 L359.0,358.2 L358.6,360.1 L358.1,361.9 L357.8,363.8 L357.0,365.6 L356.5,367.4 L355.9,369.2 L355.3,371.0 L355.1,372.9 L354.7,374.7 L354.5,376.6 L354.3,378.5 L354.3,380.4 L354.0,382.2 L353.9,384.1 L353.4,386.0 L353.3,387.9 L353.4,389.8 L353.8,391.7 L353.8,393.6 L354.0,395.5 L354.2,397.4 L354.2,399.3 L354.7,401.2 L355.1,403.0 L355.2,405.0 L355.8,406.8 L356.1,408.7 L356.7,410.5 L357.2,412.4 L358.1,414.1 L359.0,415.8 L359.6,417.7 L360.1,419.6 L361.1,421.3 L361.8,423.1 L362.8,424.7 L363.8,426.4 L365.0,428.0 L365.8,429.7 L366.7,431.5 L367.7,433.2 L368.7,434.9 L369.9,436.5 L370.9,438.3 L371.9,440.1 L373.2,441.7 L374.4,443.3 L375.8,444.8 L377.0,446.5 L378.3,448.2 L380.0,449.3 L381.7,450.5 L383.3,451.7 L385.0,452.9 L386.5,454.4 L388.3,455.4 L390.2,456.3 L391.9,457.4 L393.9,458.2 L395.8,459.0 L397.6,459.9 L399.5,460.7 L401.4,461.6 L403.6,461.7 L405.4,462.7 L407.4,463.5 L409.4,464.0 L411.5,464.3 L413.5,464.9 L415.6,465.0 L417.7,465.1 L419.8,465.0 L421.8,465.2 L423.9,465.0 L426.0,464.7 L428.0,463.9 L430.1,463.7 L432.1,463.2 L434.1,463.3 L436.1,462.9 L438.0,462.0 L440.0,461.3 L441.8,460.2 L443.7,459.7 L445.6,459.2 L447.4,458.1 L449.2,457.4 L450.9,456.3 L452.7,455.6 L454.6,455.1 L456.3,454.0 L458.0,453.1 L459.5,451.8 L461.0,450.5 L462.7,449.5 L464.2,448.3 L466.1,447.7 L467.5,446.4 L468.8,445.0 L469.8,443.1 L471.4,442.0 L472.6,440.6 L474.2,439.5 L475.3,438.0 L477.1,437.1 L478.2,435.6 L479.5,434.2 L480.7,432.7 L482.0,431.3 L483.3,429.9 L484.5,428.5 L485.5,426.9 L486.7,425.4 L487.7,423.8 L488.3,422.0 L489.4,420.4 L490.2,418.7 L492.1,417.5 L492.6,415.7 L493.7,414.0 L494.6,412.3 L496.1,410.8 L497.1,409.1 L498.1,407.4 L498.7,405.5 L499.1,403.5 L499.4,401.6 L499.7,399.7 L500.6,397.8 L501.0,395.9 L501.5,393.9 L501.7,392.0 L501.5,390.0 L501.3,388.0Z" fill="none" stroke="#c9995f" stroke-width="1.3" stroke-opacity="0.75" stroke-linejoin="round"/>
<path d="M500.9,386.0 L500.8,384.0 L501.0,382.1 L500.7,380.1 L500.5,378.2 L500.2,376.2 L500.0,374.3 L499.3,372.4 L498.7,370.5 L498.4,368.6 L498.3,366.6 L497.8,364.7 L497.1,362.9 L496.1,361.2 L495.4,359.4 L494.8,357.5 L494.0,355.7 L493.1,354.0 L492.1,352.3 L491.0,350.7 L490.1,349.0 L489.2,347.3 L488.1,345.7 L487.1,344.0 L486.0,342.4 L484.8,340.9 L483.6,339.4 L482.6,337.6 L481.6,335.9 L480.3,334.4 L479.0,333.0 L477.7,331.5 L476.1,330.3 L474.9,328.7 L473.7,327.1 L472.3,325.7 L470.7,324.5 L469.0,323.4 L467.6,322.0 L466.1,320.6 L464.8,318.8 L463.3,317.3 L461.7,315.9 L460.0,314.7 L458.3,313.5 L456.5,312.3 L454.8,311.0 L453.0,309.9 L451.1,308.8 L449.1,307.8 L447.1,307.2 L445.1,306.6 L443.0,305.9 L441.0,305.0 L438.9,304.6 L436.8,304.3 L434.6,303.9 L432.5,303.5 L430.3,303.4 L428.2,303.2 L426.0,303.4 L423.8,303.7 L421.7,304.3 L419.6,304.6 L417.5,304.9 L415.4,305.2 L413.3,305.7 L411.2,306.2 L409.2,306.8 L407.1,307.5 L405.1,307.9 L403.0,308.4 L400.9,308.9 L398.9,309.4 L396.8,309.8 L394.8,310.7 L393.0,312.0 L391.4,313.4 L389.7,314.7 L388.2,316.3 L386.5,317.6 L385.0,319.0 L383.5,320.5 L382.1,322.1 L380.8,323.8 L379.4,325.3 L378.1,326.9 L376.6,328.2 L375.3,329.7 L374.1,331.3 L373.2,333.2 L371.7,334.5 L370.4,335.9 L369.2,337.4 L368.2,339.2 L367.3,340.9 L366.4,342.7 L365.4,344.3 L364.3,345.9 L363.4,347.7 L362.6,349.4 L362.0,351.3 L360.9,352.8 L360.0,354.5 L359.1,356.2 L358.5,358.1 L358.0,359.9 L357.6,361.8 L356.9,363.5 L356.4,365.4 L355.7,367.2 L355.5,369.1 L355.2,370.9 L355.1,372.9 L354.7,374.7 L354.5,376.6 L354.0,378.4 L353.8,380.3 L353.8,382.2 L354.0,384.1 L353.9,386.0 L353.9,387.9 L354.0,389.8 L354.3,391.6 L354.4,393.5 L354.8,395.4 L355.3,397.2 L355.5,399.1 L355.6,401.0 L355.7,402.9 L356.3,404.7 L356.5,406.6 L356.7,408.5 L357.2,410.4 L357.9,412.1 L358.1,414.1 L358.8,415.9 L359.5,417.7 L360.4,419.5 L361.0,421.3 L361.7,423.1 L362.9,424.6 L363.9,426.3 L364.9,428.0 L366.1,429.5 L366.9,431.3 L367.9,433.1 L368.9,434.8 L370.0,436.4 L371.1,438.1 L372.0,440.0 L373.4,441.4 L374.7,443.0 L375.9,444.6 L377.2,446.3 L378.8,447.6 L380.2,449.1 L381.6,450.7 L383.3,451.8 L385.1,452.7 L386.8,453.9 L388.3,455.4 L390.0,456.7 L391.9,457.4 L393.8,458.4 L395.6,459.3 L397.7,459.8 L399.5,460.7 L401.6,461.2 L403.5,462.0 L405.5,462.4 L407.5,462.9 L409.5,463.4 L411.6,463.9 L413.6,464.4 L415.6,464.8 L417.7,464.6 L419.8,464.7 L421.9,464.6 L423.9,464.5 L426.0,464.1 L428.0,463.8 L430.1,463.4 L432.1,462.9 L434.0,462.5 L436.1,462.4 L438.0,461.8 L439.9,461.0 L441.8,460.2 L443.6,459.4 L445.5,458.9 L447.3,458.0 L449.0,456.8 L450.8,455.9 L452.6,455.4 L454.4,454.7 L456.1,453.7 L457.7,452.5 L459.3,451.3 L460.9,450.3 L462.4,449.1 L464.2,448.4 L465.8,447.3 L467.3,446.2 L468.7,444.7 L470.1,443.5 L471.4,442.1 L472.8,440.8 L474.2,439.5 L475.6,438.3 L476.8,436.8 L478.1,435.4 L479.5,434.2 L481.0,433.0 L482.2,431.5 L483.4,430.1 L484.6,428.6 L485.7,427.1 L486.9,425.5 L487.9,423.9 L488.7,422.2 L489.5,420.5 L490.6,418.9 L491.5,417.3 L492.7,415.7 L493.9,414.1 L494.8,412.4 L495.5,410.6 L496.1,408.8 L497.0,407.0 L497.8,405.2 L498.6,403.4 L499.3,401.6 L499.8,399.7 L500.1,397.7 L500.6,395.8 L500.9,393.9 L501.2,391.9 L501.2,389.9 L501.1,388.0Z" fill="none" stroke="#4a2e18" stroke-width="0.85" stroke-opacity="0.85" stroke-linejoin="round"/>
<path d="M501.0,386.0 L500.8,384.0 L500.7,382.1 L500.6,380.1 L500.2,378.2 L499.8,376.3 L499.6,374.3 L499.5,372.4 L499.2,370.4 L498.6,368.6 L498.2,366.7 L497.8,364.7 L497.0,362.9 L496.0,361.2 L495.3,359.4 L494.4,357.7 L493.4,356.0 L492.5,354.3 L491.7,352.5 L490.8,350.8 L489.7,349.2 L488.9,347.5 L487.9,345.8 L486.9,344.1 L485.9,342.5 L484.8,340.8 L483.8,339.2 L482.7,337.6 L481.6,336.0 L480.6,334.2 L479.3,332.7 L478.0,331.2 L476.5,330.0 L475.1,328.5 L473.9,326.8 L472.6,325.3 L471.1,323.9 L469.5,322.8 L468.0,321.4 L466.5,320.0 L464.9,318.7 L463.2,317.4 L461.6,316.1 L459.9,315.0 L458.2,313.7 L456.4,312.6 L454.6,311.4 L452.8,310.4 L450.9,309.4 L448.9,308.6 L447.0,307.7 L445.0,307.0 L442.9,306.3 L440.9,305.7 L438.8,305.1 L436.7,304.6 L434.6,303.8 L432.5,303.8 L430.3,303.3 L428.2,303.5 L426.0,303.6 L423.9,304.0 L421.7,304.0 L419.6,304.0 L417.4,304.4 L415.3,305.0 L413.2,305.4 L411.2,305.9 L409.0,306.2 L407.0,306.8 L404.9,307.3 L402.9,307.9 L400.8,308.3 L398.7,309.0 L396.7,309.6 L394.9,310.9 L393.0,311.9 L391.4,313.4 L389.7,314.7 L388.0,316.1 L386.4,317.5 L384.9,318.9 L383.5,320.5 L382.1,322.1 L380.6,323.6 L379.3,325.2 L377.8,326.5 L376.5,328.0 L375.2,329.6 L374.1,331.3 L373.0,333.0 L371.9,334.7 L370.9,336.4 L369.8,338.0 L368.7,339.6 L367.8,341.4 L367.0,343.1 L365.8,344.7 L364.8,346.3 L363.8,347.9 L362.7,349.4 L361.9,351.2 L361.1,352.9 L360.6,354.8 L360.1,356.7 L359.3,358.4 L358.7,360.1 L357.9,361.9 L357.6,363.8 L357.1,365.6 L356.4,367.4 L355.8,369.1 L355.6,371.0 L355.1,372.9 L355.0,374.8 L354.6,376.6 L354.4,378.5 L353.9,380.3 L353.7,382.2 L353.9,384.1 L354.0,386.0 L353.8,387.9 L353.8,389.8 L353.9,391.7 L354.0,393.6 L354.1,395.5 L354.6,397.3 L354.9,399.2 L355.3,401.0 L355.4,402.9 L355.9,404.8 L355.9,406.8 L356.3,408.6 L357.1,410.4 L357.7,412.2 L358.4,414.0 L358.9,415.9 L359.3,417.8 L360.1,419.6 L361.0,421.3 L362.4,422.7 L363.6,424.2 L364.3,426.1 L365.3,427.7 L366.0,429.6 L367.2,431.1 L368.4,432.7 L369.2,434.5 L370.2,436.2 L371.2,438.0 L372.4,439.6 L373.8,441.0 L375.1,442.6 L376.3,444.1 L377.4,446.0 L378.7,447.6 L380.1,449.1 L381.8,450.4 L383.4,451.6 L385.2,452.6 L386.8,453.8 L388.4,455.2 L390.2,456.2 L392.0,457.4 L394.0,457.9 L395.8,458.9 L397.8,459.5 L399.8,460.1 L401.7,460.7 L403.7,461.3 L405.7,461.9 L407.7,462.4 L409.7,462.9 L411.7,463.4 L413.7,463.9 L415.6,464.6 L417.7,465.1 L419.8,465.1 L421.9,464.8 L423.9,464.6 L426.0,464.3 L428.0,463.8 L430.1,463.4 L432.1,463.1 L434.0,462.6 L436.0,462.0 L437.9,461.2 L439.8,460.4 L441.7,460.0 L443.6,459.5 L445.5,458.9 L447.3,457.8 L449.0,456.8 L450.7,455.9 L452.4,454.8 L454.1,454.0 L455.8,453.0 L457.5,452.1 L459.2,451.1 L460.8,450.2 L462.5,449.2 L464.0,448.0 L465.6,447.0 L467.0,445.6 L468.5,444.5 L469.9,443.2 L471.3,442.0 L472.7,440.7 L474.1,439.5 L475.8,438.5 L477.2,437.2 L478.5,435.8 L479.8,434.4 L481.0,433.0 L482.3,431.6 L483.6,430.2 L484.9,428.8 L485.8,427.1 L486.5,425.3 L487.3,423.6 L488.3,422.0 L489.2,420.3 L490.2,418.7 L491.3,417.1 L492.3,415.5 L493.5,413.9 L494.6,412.3 L495.6,410.6 L496.3,408.9 L497.0,407.0 L497.9,405.3 L498.6,403.4 L499.4,401.6 L499.7,399.7 L500.1,397.7 L500.4,395.8 L500.7,393.8 L500.9,391.9 L501.0,389.9 L500.8,388.0Z" fill="none" stroke="#0c0806" stroke-width="0.6" stroke-opacity="0.9" stroke-linejoin="round"/>
</g>
<rect x="97.5" y="52.5" width="195.0" height="192.0" fill="none" stroke="#7d7d7d" stroke-width="1"/>
<path d="M195.0,52.5v4.6M195.0,244.5v-4.6M97.5,148.5h4.6M292.5,148.5h-4.6" stroke="#7d7d7d" stroke-width="1" fill="none"/>
<text x="282.5" y="75.8" font-size="18.3" text-anchor="end" >(a)</text>
<text x="288.1" y="240.5" font-size="15.3" text-anchor="end"><tspan font-style="italic">t</tspan> = 5.00 s</text>
<rect x="328.5" y="52.5" width="195.79999999999995" height="192.0" fill="none" stroke="#7d7d7d" stroke-width="1"/>
<path d="M426.4,52.5v4.6M426.4,244.5v-4.6M328.5,148.5h4.6M524.3,148.5h-4.6" stroke="#7d7d7d" stroke-width="1" fill="none"/>
<text x="514.3" y="75.8" font-size="18.3" text-anchor="end" >(b)</text>
<text x="519.9" y="240.5" font-size="15.3" text-anchor="end"><tspan font-style="italic">t</tspan> = 5.00 s</text>
<rect x="97.5" y="290.4" width="195.0" height="192.0" fill="none" stroke="#7d7d7d" stroke-width="1"/>
<path d="M195.0,290.4v4.6M195.0,482.4v-4.6M97.5,386.4h4.6M292.5,386.4h-4.6" stroke="#7d7d7d" stroke-width="1" fill="none"/>
<text x="282.5" y="313.7" font-size="18.3" text-anchor="end" >(c)</text>
<text x="288.1" y="478.4" font-size="15.3" text-anchor="end"><tspan font-style="italic">t</tspan> = 5.00 s</text>
<rect x="328.5" y="290.4" width="195.79999999999995" height="192.0" fill="none" stroke="#7d7d7d" stroke-width="1"/>
<path d="M426.4,290.4v4.6M426.4,482.4v-4.6M328.5,386.4h4.6M524.3,386.4h-4.6" stroke="#7d7d7d" stroke-width="1" fill="none"/>
<text x="514.3" y="313.7" font-size="18.3" text-anchor="end" >(d)</text>
<text x="519.9" y="478.4" font-size="15.3" text-anchor="end"><tspan font-style="italic">t</tspan> = 5.00 s</text>
<text x="91.3" y="57.4" font-size="14" text-anchor="end" >2.0</text>
<text x="91.3" y="153.4" font-size="14" text-anchor="end" >0.0</text>
<text x="91.3" y="250.8" font-size="14" text-anchor="end" >-2.0</text>
<text transform="translate(63.8,149.7) rotate(-90)" font-size="14" text-anchor="middle"><tspan font-style="italic">y</tspan><tspan font-size="9" dy="-5.5">*</tspan><tspan dy="5.5" dx="-1"> [-]</tspan></text>
<text x="91.3" y="295.29999999999995" font-size="14" text-anchor="end" >2.0</text>
<text x="91.3" y="391.29999999999995" font-size="14" text-anchor="end" >0.0</text>
<text x="91.3" y="488.7" font-size="14" text-anchor="end" >-2.0</text>
<text transform="translate(63.8,387.59999999999997) rotate(-90)" font-size="14" text-anchor="middle"><tspan font-style="italic">y</tspan><tspan font-size="9" dy="-5.5">*</tspan><tspan dy="5.5" dx="-1"> [-]</tspan></text>
<text x="96.5" y="498.2" font-size="14" text-anchor="middle" >-2.0</text>
<text x="194.8" y="498.2" font-size="14" text-anchor="middle" >0.0</text>
<text x="293.1" y="498.2" font-size="14" text-anchor="middle" >2.0</text>
<text x="194.4" y="517.3" font-size="14" text-anchor="middle"><tspan font-style="italic">x</tspan><tspan font-size="9" dy="-5.5">*</tspan><tspan dy="5.5"> [-]</tspan></text>
<text x="327.5" y="498.2" font-size="14" text-anchor="middle" >-2.0</text>
<text x="426.2" y="498.2" font-size="14" text-anchor="middle" >0.0</text>
<text x="524.9" y="498.2" font-size="14" text-anchor="middle" >2.0</text>
<text x="425.79999999999995" y="517.3" font-size="14" text-anchor="middle"><tspan font-style="italic">x</tspan><tspan font-size="9" dy="-5.5">*</tspan><tspan dy="5.5"> [-]</tspan></text>
<text transform="translate(15.3,148.3) rotate(-90)" font-size="18" text-anchor="middle">Temperature-dependent</text>
<text transform="translate(34.3,148.8) rotate(-90)" font-size="18" text-anchor="middle">properties</text>
<text transform="translate(15.3,386.7) rotate(-90)" font-size="18" text-anchor="middle">Temperature-independent</text>
<text transform="translate(34.3,386.7) rotate(-90)" font-size="18" text-anchor="middle">properties</text>
<text x="42.6" y="540.7" font-size="16" text-anchor="start" >Melt pool depth (<tspan font-style="italic">z</tspan>) [mm]</text>
<text x="42.6" y="557.6" font-size="16" text-anchor="start" >(Temperature-dependent)</text>
<rect x="42.50" y="567.6" width="8.40" height="21.600000000000023" fill="#eef2fb"/>
<rect x="50.60" y="567.6" width="16.38" height="21.600000000000023" fill="#dbe7f5"/>
<rect x="66.68" y="567.6" width="16.38" height="21.600000000000023" fill="#c3daee"/>
<rect x="82.76" y="567.6" width="16.38" height="21.600000000000023" fill="#a8cfe6"/>
<rect x="98.84" y="567.6" width="16.38" height="21.600000000000023" fill="#8bc0e0"/>
<rect x="114.92" y="567.6" width="16.38" height="21.600000000000023" fill="#66acd6"/>
<rect x="131.00" y="567.6" width="16.38" height="21.600000000000023" fill="#4f9bce"/>
<rect x="147.08" y="567.6" width="16.38" height="21.600000000000023" fill="#3587c3"/>
<rect x="163.16" y="567.6" width="16.38" height="21.600000000000023" fill="#1b72b8"/>
<rect x="179.24" y="567.6" width="16.38" height="21.600000000000023" fill="#0659a8"/>
<rect x="195.32" y="567.6" width="8.58" height="21.600000000000023" fill="#1e4497"/>
<path d="M50.60,567.6V589.2" stroke="#fff" stroke-width="0.8" stroke-opacity="0.9"/>
<path d="M82.76,567.6V589.2" stroke="#0c2a55" stroke-width="0.7" stroke-opacity="0.8"/>
<path d="M114.92,567.6V589.2" stroke="#0c2a55" stroke-width="0.7" stroke-opacity="0.8"/>
<path d="M147.08,567.6V589.2" stroke="#0c2a55" stroke-width="0.7" stroke-opacity="0.8"/>
<path d="M179.24,567.6V589.2" stroke="#0c2a55" stroke-width="0.7" stroke-opacity="0.8"/>
<rect x="42.50" y="567.6" width="161.10" height="21.600000000000023" fill="none" stroke="#7d7d7d" stroke-width="1"/>
<text x="51.0" y="606.6" font-size="14" text-anchor="middle" >0</text>
<text x="82.75999999999999" y="606.6" font-size="14" text-anchor="middle" >0.4</text>
<text x="114.91999999999999" y="606.6" font-size="14" text-anchor="middle" >0.8</text>
<text x="147.38" y="606.6" font-size="14" text-anchor="middle" >1.2</text>
<text x="179.23999999999998" y="606.6" font-size="14" text-anchor="middle" >1.6</text>
<text x="328.4" y="540.7" font-size="16" text-anchor="start" >Melt pool depth (<tspan font-style="italic">z</tspan>) [mm]</text>
<text x="328.4" y="557.6" font-size="16" text-anchor="start" >(Temperature-independent)</text>
<rect x="328.20" y="567.6" width="8.20" height="21.600000000000023" fill="#eef2fb"/>
<rect x="336.10" y="567.6" width="16.04" height="21.600000000000023" fill="#dbe7f6"/>
<rect x="351.84" y="567.6" width="16.04" height="21.600000000000023" fill="#c8dcf0"/>
<rect x="367.58" y="567.6" width="16.04" height="21.600000000000023" fill="#b3d3ea"/>
<rect x="383.32" y="567.6" width="16.04" height="21.600000000000023" fill="#9ac8e3"/>
<rect x="399.06" y="567.6" width="16.04" height="21.600000000000023" fill="#7db8dc"/>
<rect x="414.80" y="567.6" width="16.04" height="21.600000000000023" fill="#64aad5"/>
<rect x="430.54" y="567.6" width="16.04" height="21.600000000000023" fill="#4f9bce"/>
<rect x="446.28" y="567.6" width="16.04" height="21.600000000000023" fill="#3b8bc6"/>
<rect x="462.02" y="567.6" width="16.04" height="21.600000000000023" fill="#267bbd"/>
<rect x="477.76" y="567.6" width="16.04" height="21.600000000000023" fill="#116ab3"/>
<rect x="493.50" y="567.6" width="16.04" height="21.600000000000023" fill="#0657a5"/>
<rect x="509.24" y="567.6" width="8.06" height="21.600000000000023" fill="#1e4497"/>
<path d="M336.10,567.6V589.2" stroke="#0c2a55" stroke-width="0.7" stroke-opacity="0.8"/>
<path d="M367.58,567.6V589.2" stroke="#0c2a55" stroke-width="0.7" stroke-opacity="0.8"/>
<path d="M399.06,567.6V589.2" stroke="#0c2a55" stroke-width="0.7" stroke-opacity="0.8"/>
<path d="M430.54,567.6V589.2" stroke="#0c2a55" stroke-width="0.7" stroke-opacity="0.8"/>
<path d="M462.02,567.6V589.2" stroke="#0c2a55" stroke-width="0.7" stroke-opacity="0.8"/>
<path d="M493.50,567.6V589.2" stroke="#0c2a55" stroke-width="0.7" stroke-opacity="0.8"/>
<rect x="328.20" y="567.6" width="188.80" height="21.600000000000023" fill="none" stroke="#7d7d7d" stroke-width="1"/>
<text x="336.6" y="606.6" font-size="14" text-anchor="middle" >0.0</text>
<text x="367.58000000000004" y="606.6" font-size="14" text-anchor="middle" >0.2</text>
<text x="399.06" y="606.6" font-size="14" text-anchor="middle" >0.4</text>
<text x="430.54" y="606.6" font-size="14" text-anchor="middle" >0.6</text>
<text x="462.02000000000004" y="606.6" font-size="14" text-anchor="middle" >0.8</text>
<text x="493.5" y="606.6" font-size="14" text-anchor="middle" >1.0</text>
</svg>
</body></html>
